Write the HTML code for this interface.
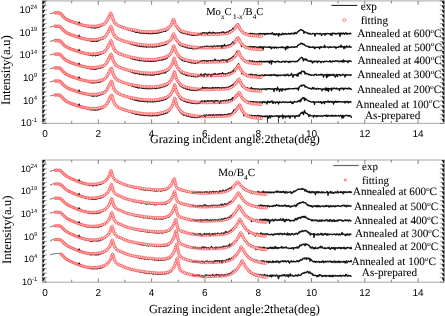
<!DOCTYPE html>
<html><head><meta charset="utf-8"><style>html,body{margin:0;padding:0;background:#fff;}svg{display:block;filter:blur(0.35px);text-rendering:geometricPrecision;}</style></head>
<body><svg width="445" height="316" viewBox="0 0 445 316">
<rect width="445" height="316" fill="#fff"/>
<polyline points="50.0,13.70 50.5,13.65 51.0,13.51 51.5,13.27 52.0,13.15 52.5,13.00 53.0,12.93 53.5,12.86" fill="none" stroke="#555" stroke-width="1.0"/>
<polyline points="54.0,12.88 54.5,12.70 55.0,12.89 55.5,12.80 56.0,12.84 56.5,12.80 57.0,12.79 57.5,12.85 58.0,12.89 58.5,12.84 59.0,12.87 59.5,12.94 60.0,12.96 60.5,13.31 61.0,14.17 61.5,14.51 62.0,14.89 62.5,15.70 63.0,16.32 63.5,16.68 64.0,17.10 64.5,17.81 65.0,18.36 65.5,18.53 66.0,18.78 66.5,19.32 67.0,19.68 67.5,19.79 68.0,20.20 68.5,20.53 69.0,20.52 69.5,20.62 70.0,21.03 70.5,21.20 71.0,21.54 71.5,21.29 72.0,21.58 72.5,21.72 73.0,21.73 73.5,22.23 74.0,22.46 74.5,22.38 75.0,22.92 75.5,22.98 76.0,23.11 76.5,23.25 77.0,23.53 77.5,23.30 78.0,23.84 78.5,24.02 79.0,23.76 79.5,24.31 80.0,24.35 80.5,24.68 81.0,24.60 81.5,24.81 82.0,25.01 82.5,24.91 83.0,25.30 83.5,25.28 84.0,25.50 84.5,25.41 85.0,25.80 85.5,25.90 86.0,25.95 86.5,26.29 87.0,26.60 87.5,26.88 88.0,26.46 88.5,27.06 89.0,27.14 89.5,27.17 90.0,27.12 90.5,27.63 91.0,27.27 91.5,27.70 92.0,27.93 92.5,27.41 93.0,27.65 93.5,27.46 94.0,27.74 94.5,27.97 95.0,28.06 95.5,27.36 96.0,27.53 96.5,27.69 97.0,27.75 97.5,27.43 98.0,27.09 98.5,27.15 99.0,26.96 99.5,26.79 100.0,26.57 100.5,26.54 101.0,26.29 101.5,25.99 102.0,25.72 102.5,25.27 103.0,25.13 103.5,25.13 104.0,24.53 104.5,23.86 105.0,23.76 105.5,22.90 106.0,22.38 106.5,21.27 107.0,20.42 107.5,19.37 108.0,18.84 108.5,17.99 109.0,16.35 109.5,15.24 110.0,14.24 110.5,13.12 111.0,13.17 111.5,14.26 112.0,16.16 112.5,18.25 113.0,19.50 113.5,20.66 114.0,21.34 114.5,22.31 115.0,22.61 115.5,23.35 116.0,24.24 116.5,24.38 117.0,24.93 117.5,25.22 118.0,25.63 118.5,25.78 119.0,26.05 119.5,26.06 120.0,26.17 120.5,26.38 121.0,26.63 121.5,26.71 122.0,27.01 122.5,27.27 123.0,27.50 123.5,27.57 124.0,27.44 124.5,27.93 125.0,28.14 125.5,28.52 126.0,28.66 126.5,28.66 127.0,28.86 127.5,29.57 128.0,29.55 128.5,29.95 129.0,30.20 129.5,29.86 130.0,30.27 130.5,30.47 131.0,30.66 131.5,30.83 132.0,30.94 132.5,31.10 133.0,30.97 133.5,31.37 134.0,31.43 134.5,31.75 135.0,31.82 135.5,32.10 136.0,32.24 136.5,32.24 137.0,32.34 137.5,32.40 138.0,32.40 138.5,32.54 139.0,32.56 139.5,32.80 140.0,32.80 140.5,32.97 141.0,32.69 141.5,33.14 142.0,32.90 142.5,32.96 143.0,33.11 143.5,33.09 144.0,33.28 144.5,33.17 145.0,33.11 145.5,33.18 146.0,33.59 146.5,33.39 147.0,33.20 147.5,33.44 148.0,33.18 148.5,33.80 149.0,33.21 149.5,33.58 150.0,33.60 150.5,33.24 151.0,33.54 151.5,33.66 152.0,33.55 152.5,33.49 153.0,33.59 153.5,33.42 154.0,33.42 154.5,33.31 155.0,33.41 155.5,33.09 156.0,33.34 156.5,33.04 157.0,32.84 157.5,33.01 158.0,33.15 158.5,32.91 159.0,32.53 159.5,32.64 160.0,32.32 160.5,32.27 161.0,32.20 161.5,31.65 162.0,31.99 162.5,31.64 163.0,31.57 163.5,31.30 164.0,31.15 164.5,31.10 165.0,31.27 165.5,31.25 166.0,30.77 166.5,30.60 167.0,29.96 167.5,29.24 168.0,29.14 168.5,28.69 169.0,27.98 169.5,27.51 170.0,26.90 170.5,25.87 171.0,24.83 171.5,24.17 172.0,23.19 172.5,21.69 173.0,20.26 173.5,19.61 174.0,19.90 174.5,21.72 175.0,23.61 175.5,24.94 176.0,25.83 176.5,26.52 177.0,27.59 177.5,28.64 178.0,29.20 178.5,29.72 179.0,30.71 179.5,31.32 180.0,31.61 180.5,31.82 181.0,32.50 181.5,32.24 182.0,32.77 182.5,32.86 183.0,32.82 183.5,33.41 184.0,33.40 184.5,33.26 185.0,33.72 185.5,33.66 186.0,33.52 186.5,33.86 187.0,34.15 187.5,34.33 188.0,34.35 188.5,34.43 189.0,34.61 189.5,34.58 190.0,34.91 190.5,34.81 191.0,34.92 191.5,35.04 192.0,34.83 192.5,34.97 193.0,35.44 193.5,35.29 194.0,35.24 194.5,35.41 195.0,35.31 195.5,35.31 196.0,35.01 196.5,35.04 197.0,34.56 197.5,34.95 198.0,34.47 198.5,34.13 199.0,34.21 199.5,34.05 200.0,34.02 200.5,33.48 201.0,33.80 201.5,34.62 202.0,33.00 202.5,33.33 203.0,32.99 203.5,33.15 204.0,32.55 204.5,32.75 205.0,33.24 205.5,33.98 206.0,33.59 206.5,32.88 207.0,33.14 207.5,34.56 208.0,32.84 208.5,32.79 209.0,33.04 209.5,32.06 210.0,33.29 210.5,33.06 211.0,32.78 211.5,33.06 212.0,33.77 212.5,33.35 213.0,32.12 213.5,32.90 214.0,32.66 214.5,33.10 215.0,32.85 215.5,33.46 216.0,33.15 216.5,33.13 217.0,32.90 217.5,32.82 218.0,32.92 218.5,33.19 219.0,32.95 219.5,32.67 220.0,33.14 220.5,32.80 221.0,32.69 221.5,32.46 222.0,32.50 222.5,32.46 223.0,31.78 223.5,32.89 224.0,32.72 224.5,32.45 225.0,33.58 225.5,32.56 226.0,32.46 226.5,32.50 227.0,32.05 227.5,32.14 228.0,32.30 228.5,32.19 229.0,31.88 229.5,30.89 230.0,30.37 230.5,30.94 231.0,30.44 231.5,30.33 232.0,29.58 232.5,29.25 233.0,28.30 233.5,28.45 234.0,28.90 234.5,27.47 235.0,26.99 235.5,26.31 236.0,25.79 236.5,25.03 237.0,26.44 237.5,24.31 238.0,24.11 238.5,24.99 239.0,27.02 239.5,27.87 240.0,30.15 240.5,29.51 241.0,30.36 241.5,30.89 242.0,31.66 242.5,32.14 243.0,32.63 243.5,32.40 244.0,32.89 244.5,33.26 245.0,33.91 245.5,32.81 246.0,33.71 246.5,33.45 247.0,33.77 247.5,33.49 248.0,33.74 248.5,34.08 249.0,33.69 249.5,33.67 250.0,33.61 250.5,33.32 251.0,33.75 251.5,33.56 252.0,33.42 252.5,33.69 253.0,33.66 253.5,34.94 254.0,33.79 254.5,33.67 255.0,34.29 255.5,34.18 256.0,34.29 256.5,34.11 257.0,33.91 257.5,33.84 258.0,33.89 258.5,34.27 259.0,34.03 259.5,33.55 260.0,33.99 260.5,33.57 261.0,34.04 261.5,33.63 262.0,33.60 262.5,34.00 263.0,33.93 263.5,33.45 264.0,34.15 264.5,34.56 265.0,33.46 265.5,34.43 266.0,33.66 266.5,33.71 267.0,33.79 267.5,33.40 268.0,34.21 268.5,33.96 269.0,33.58 269.5,33.72 270.0,33.35 270.5,33.70 271.0,34.09 271.5,33.30 272.0,33.69 272.5,32.83 273.0,34.16 273.5,34.26 274.0,34.82 274.5,33.66 275.0,34.04 275.5,34.98 276.0,33.84 276.5,33.77 277.0,34.46 277.5,34.05 278.0,33.92 278.5,36.10 279.0,33.43 279.5,33.99 280.0,34.88 280.5,34.72 281.0,34.21 281.5,34.88 282.0,33.93 282.5,33.23 283.0,34.19 283.5,34.46 284.0,33.74 284.5,34.15 285.0,33.45 285.5,33.46 286.0,34.19 286.5,34.31 287.0,33.96 287.5,33.85 288.0,34.10 288.5,33.38 289.0,33.86 289.5,34.13 290.0,33.43 290.5,34.08 291.0,33.65 291.5,33.14 292.0,33.71 292.5,33.44 293.0,33.81 293.5,33.34 294.0,33.98 294.5,33.41 295.0,32.38 295.5,33.37 296.0,33.40 296.5,33.61 297.0,32.82 297.5,32.06 298.0,31.32 298.5,31.66 299.0,31.13 299.5,30.43 300.0,30.28 300.5,29.67 301.0,29.60 301.5,29.72 302.0,30.26 302.5,30.50 303.0,30.49 303.5,31.24 304.0,33.26 304.5,31.62 305.0,32.16 305.5,32.06 306.0,32.39 306.5,32.82 307.0,32.89 307.5,33.34 308.0,32.93 308.5,33.92 309.0,33.42 309.5,33.71 310.0,33.39 310.5,33.98 311.0,34.18 311.5,34.12 312.0,34.04 312.5,33.32 313.0,33.55 313.5,33.64 314.0,33.49 314.5,34.10 315.0,36.10 315.5,33.75 316.0,33.89 316.5,33.45 317.0,33.46 317.5,33.46 318.0,33.87 318.5,33.82 319.0,33.88 319.5,34.03 320.0,33.29 320.5,33.53 321.0,33.74 321.5,35.48 322.0,34.25 322.5,33.98 323.0,34.01 323.5,34.00 324.0,33.68 324.5,33.60 325.0,35.19 325.5,33.54 326.0,33.75 326.5,34.05 327.0,33.54 327.5,33.46 328.0,33.63 328.5,33.81 329.0,33.78 329.5,33.67 330.0,33.79 330.5,34.95 331.0,33.36 331.5,33.66 332.0,35.44 332.5,33.20 333.0,33.24 333.5,33.32 334.0,33.54 334.5,33.28 335.0,33.66 335.5,34.09 336.0,33.54 336.5,33.96 337.0,33.66 337.5,33.24 338.0,33.49 338.5,33.27 339.0,33.79 339.5,33.21 340.0,36.31 340.5,33.73 341.0,32.94 341.5,33.78 342.0,34.01 342.5,33.31 343.0,33.84 343.5,33.00 344.0,33.61 344.5,34.21 345.0,33.67 345.5,32.99 346.0,32.73 346.5,33.64 347.0,34.21 347.5,33.34 348.0,33.76 348.5,33.55 349.0,33.41 349.5,33.69 350.0,34.00 350.5,33.13 351.0,33.67 351.5,33.61" fill="none" stroke="#111" stroke-width="1.35" stroke-linejoin="round"/>
<g stroke="#ff4040" stroke-width="0.65"><circle cx="55.0" cy="12.80" r="1.30" fill="#ffcdcd"/><circle cx="56.4" cy="12.81" r="1.30" fill="#ffcdcd"/><circle cx="57.8" cy="12.83" r="1.30" fill="#ffcdcd"/><circle cx="59.2" cy="12.89" r="1.30" fill="#ffcdcd"/><circle cx="60.4" cy="13.49" r="1.30" fill="#ffcdcd"/><circle cx="61.4" cy="14.49" r="1.30" fill="#ffcdcd"/><circle cx="62.3" cy="15.57" r="1.30" fill="#ffcdcd"/><circle cx="63.2" cy="16.61" r="1.30" fill="#ffcdcd"/><circle cx="64.2" cy="17.57" r="1.30" fill="#ffcdcd"/><circle cx="65.3" cy="18.44" r="1.30" fill="#ffcdcd"/><circle cx="66.5" cy="19.23" r="1.30" fill="#ffcdcd"/><circle cx="67.7" cy="19.94" r="1.30" fill="#ffcdcd"/><circle cx="68.9" cy="20.54" r="1.30" fill="#ffcdcd"/><circle cx="70.2" cy="21.06" r="1.30" fill="#ffcdcd"/><circle cx="71.6" cy="21.54" r="1.30" fill="#ffcdcd"/><circle cx="72.9" cy="22.00" r="1.30" fill="#ffcdcd"/><circle cx="74.2" cy="22.43" r="1.30" fill="#ffcdcd"/><circle cx="75.6" cy="22.85" r="1.30" fill="#ffcdcd"/><circle cx="76.9" cy="23.31" r="1.30" fill="#ffcdcd"/><circle cx="78.2" cy="23.79" r="1.30" fill="#ffcdcd"/><circle cx="79.5" cy="24.25" r="1.30" fill="#ffcdcd"/><circle cx="80.9" cy="24.64" r="1.30" fill="#ffcece"/><circle cx="82.2" cy="25.00" r="1.30" fill="#ffd0d0"/><circle cx="83.6" cy="25.33" r="1.30" fill="#ffd1d1"/><circle cx="85.1" cy="25.61" r="1.30" fill="#ffd3d3"/><circle cx="86.6" cy="25.89" r="1.30" fill="#ffd5d5"/><circle cx="88.1" cy="26.15" r="1.30" fill="#ffd6d6"/><circle cx="89.6" cy="26.29" r="1.30" fill="#ffd8d8"/><circle cx="91.2" cy="26.30" r="1.30" fill="#ffdada"/><circle cx="92.8" cy="26.30" r="1.30" fill="#ffdcdc"/><circle cx="94.5" cy="26.30" r="1.30" fill="#ffdede"/><circle cx="96.2" cy="26.21" r="1.30" fill="#ffe0e0"/><circle cx="97.9" cy="25.86" r="1.30" fill="#ffe2e2"/><circle cx="99.6" cy="25.41" r="1.30" fill="#ffe3e3"/><circle cx="101.3" cy="25.00" r="1.30" fill="#ffe4e4"/><circle cx="103.0" cy="24.51" r="1.30" fill="#ffe4e4"/><circle cx="104.6" cy="23.67" r="1.30" fill="#ffe4e4"/><circle cx="105.8" cy="22.30" r="1.30" fill="#ffe4e4"/><circle cx="106.8" cy="20.81" r="1.30" fill="#ffe4e4"/><circle cx="107.7" cy="19.25" r="1.30" fill="#ffe4e4"/><circle cx="108.5" cy="17.61" r="1.30" fill="#ffe4e4"/><circle cx="109.2" cy="15.98" r="1.30" fill="#ffe4e4"/><circle cx="109.9" cy="14.31" r="1.30" fill="#ffe4e4"/><circle cx="110.8" cy="13.10" r="1.30" fill="#ffe4e4"/><circle cx="111.7" cy="14.90" r="1.30" fill="#ffe4e4"/><circle cx="112.1" cy="16.65" r="1.30" fill="#ffe4e4"/><circle cx="112.6" cy="18.40" r="1.30" fill="#ffe4e4"/><circle cx="113.3" cy="20.07" r="1.30" fill="#ffe4e4"/><circle cx="114.1" cy="21.66" r="1.30" fill="#ffe4e4"/><circle cx="115.1" cy="23.17" r="1.30" fill="#ffe4e4"/><circle cx="116.4" cy="24.43" r="1.30" fill="#ffe4e4"/><circle cx="118.0" cy="25.38" r="1.30" fill="#ffe4e4"/><circle cx="119.6" cy="26.13" r="1.30" fill="#ffe4e4"/><circle cx="121.3" cy="26.83" r="1.30" fill="#ffe4e4"/><circle cx="123.0" cy="27.46" r="1.30" fill="#ffe4e4"/><circle cx="124.7" cy="28.01" r="1.30" fill="#ffe4e4"/><circle cx="126.5" cy="28.52" r="1.30" fill="#ffe4e4"/><circle cx="128.2" cy="28.99" r="1.30" fill="#ffe4e4"/><circle cx="130.0" cy="29.40" r="1.30" fill="#ffe4e4"/><circle cx="131.8" cy="29.74" r="1.30" fill="#ffe4e4"/><circle cx="133.6" cy="30.05" r="1.30" fill="#ffe4e4"/><circle cx="135.4" cy="30.37" r="1.30" fill="#ffe4e4"/><circle cx="137.2" cy="30.71" r="1.30" fill="#ffe4e4"/><circle cx="138.9" cy="31.04" r="1.30" fill="#ffe4e4"/><circle cx="140.8" cy="31.30" r="1.31" fill="#ffe4e4"/><circle cx="142.6" cy="31.50" r="1.31" fill="#ffe4e4"/><circle cx="144.4" cy="31.66" r="1.31" fill="#ffe4e4"/><circle cx="146.2" cy="31.77" r="1.31" fill="#ffe4e4"/><circle cx="148.0" cy="31.86" r="1.31" fill="#ffe4e4"/><circle cx="149.9" cy="31.90" r="1.31" fill="#ffe4e4"/><circle cx="151.7" cy="31.87" r="1.31" fill="#ffe4e4"/><circle cx="153.5" cy="31.79" r="1.31" fill="#ffe4e4"/><circle cx="155.4" cy="31.67" r="1.31" fill="#ffe4e4"/><circle cx="157.2" cy="31.40" r="1.31" fill="#ffe4e4"/><circle cx="159.0" cy="31.02" r="1.31" fill="#ffe4e4"/><circle cx="160.8" cy="30.63" r="1.31" fill="#ffe4e4"/><circle cx="162.6" cy="30.21" r="1.31" fill="#ffe4e4"/><circle cx="164.4" cy="29.72" r="1.31" fill="#ffe4e4"/><circle cx="166.1" cy="29.13" r="1.31" fill="#ffe4e4"/><circle cx="167.8" cy="28.31" r="1.31" fill="#ffe4e4"/><circle cx="169.2" cy="27.21" r="1.31" fill="#ffe4e4"/><circle cx="170.5" cy="25.87" r="1.31" fill="#ffe4e4"/><circle cx="171.5" cy="24.29" r="1.31" fill="#ffe4e4"/><circle cx="172.2" cy="22.63" r="1.31" fill="#ffe4e4"/><circle cx="172.8" cy="20.85" r="1.31" fill="#ffe4e4"/><circle cx="173.5" cy="19.30" r="1.31" fill="#ffe4e4"/><circle cx="174.3" cy="20.97" r="1.31" fill="#ffe4e4"/><circle cx="174.8" cy="22.76" r="1.31" fill="#ffe4e4"/><circle cx="175.4" cy="24.52" r="1.31" fill="#ffe4e4"/><circle cx="176.3" cy="26.10" r="1.31" fill="#ffe4e4"/><circle cx="177.5" cy="27.52" r="1.31" fill="#ffe4e4"/><circle cx="178.8" cy="28.87" r="1.31" fill="#ffe4e4"/><circle cx="180.1" cy="30.14" r="1.31" fill="#ffe4e4"/><circle cx="181.7" cy="31.06" r="1.31" fill="#ffe4e4"/><circle cx="183.5" cy="31.68" r="1.31" fill="#ffe4e4"/><circle cx="185.3" cy="32.18" r="1.31" fill="#ffe4e4"/><circle cx="187.1" cy="32.62" r="1.31" fill="#ffe4e4"/><circle cx="188.9" cy="33.00" r="1.31" fill="#ffe4e4"/><circle cx="190.7" cy="33.32" r="1.31" fill="#ffe4e4"/><circle cx="192.5" cy="33.60" r="1.31" fill="#ffe4e4"/><circle cx="194.4" cy="33.84" r="1.31" fill="#ffe4e4"/><circle cx="196.2" cy="34.03" r="1.31" fill="#ffe4e4"/><circle cx="198.1" cy="34.19" r="1.32" fill="#ffe4e4"/><circle cx="200.0" cy="34.30" r="1.32" fill="#ffe4e4"/><circle cx="201.8" cy="34.35" r="1.32" fill="#ffe4e4"/><circle cx="203.7" cy="34.39" r="1.32" fill="#ffe4e4"/><circle cx="205.6" cy="34.40" r="1.32" fill="#ffe4e4"/><circle cx="207.4" cy="34.38" r="1.32" fill="#ffe4e4"/><circle cx="209.3" cy="34.35" r="1.32" fill="#ffe4e4"/><circle cx="211.2" cy="34.30" r="1.32" fill="#ffe4e4"/><circle cx="213.1" cy="34.25" r="1.32" fill="#ffe4e4"/><circle cx="214.9" cy="34.20" r="1.32" fill="#ffe4e4"/><circle cx="216.8" cy="34.15" r="1.32" fill="#ffe4e4"/><circle cx="218.7" cy="34.10" r="1.32" fill="#ffe4e4"/><circle cx="220.6" cy="34.04" r="1.32" fill="#ffe4e4"/><circle cx="222.4" cy="33.95" r="1.32" fill="#ffe4e4"/><circle cx="224.3" cy="33.83" r="1.32" fill="#ffe4e4"/><circle cx="226.2" cy="33.61" r="1.32" fill="#ffe4e4"/><circle cx="228.0" cy="33.12" r="1.32" fill="#ffe4e4"/><circle cx="229.8" cy="32.43" r="1.32" fill="#ffe4e4"/><circle cx="231.4" cy="31.45" r="1.32" fill="#ffe4e4"/><circle cx="232.8" cy="30.22" r="1.32" fill="#ffe4e4"/><circle cx="234.2" cy="28.96" r="1.32" fill="#ffe4e4"/><circle cx="235.5" cy="27.56" r="1.32" fill="#ffe4e4"/><circle cx="236.5" cy="25.97" r="1.32" fill="#ffe4e4"/><circle cx="237.8" cy="24.70" r="1.32" fill="#ffe4e4"/><circle cx="238.8" cy="26.26" r="1.32" fill="#ffe4e4"/><circle cx="239.5" cy="28.02" r="1.32" fill="#ffe4e4"/><circle cx="240.5" cy="29.64" r="1.32" fill="#ffe4e4"/><circle cx="241.7" cy="31.06" r="1.32" fill="#ffe4e4"/><circle cx="243.1" cy="32.35" r="1.32" fill="#ffe4e4"/><circle cx="244.6" cy="33.57" r="1.32" fill="#ffe4e4"/><circle cx="246.3" cy="34.34" r="1.32" fill="#ffe4e4"/><circle cx="248.1" cy="34.89" r="1.32" fill="#ffe4e4"/><circle cx="250.0" cy="35.27" r="1.32" fill="#ffe4e4"/><circle cx="251.8" cy="35.51" r="1.32" fill="#ffe4e4"/><circle cx="253.7" cy="35.69" r="1.32" fill="#ffe4e4"/><circle cx="255.6" cy="35.84" r="1.33" fill="#ffe4e4"/><circle cx="257.5" cy="35.97" r="1.33" fill="#ffe4e4"/><circle cx="259.4" cy="36.09" r="1.33" fill="#ffe4e4"/><circle cx="261.3" cy="36.18" r="1.33" fill="#ffe4e4"/></g>
<polyline points="197.0,34.56 197.5,34.95 198.0,34.47 198.5,34.13 199.0,34.21 199.5,34.05 200.0,34.02 200.5,33.48 201.0,33.80 201.5,34.62 202.0,33.00 202.5,33.33 203.0,32.99 203.5,33.15 204.0,32.55 204.5,32.75 205.0,33.24 205.5,33.98 206.0,33.59 206.5,32.88 207.0,33.14 207.5,34.56 208.0,32.84 208.5,32.79 209.0,33.04 209.5,32.06 210.0,33.29 210.5,33.06 211.0,32.78 211.5,33.06 212.0,33.77 212.5,33.35 213.0,32.12 213.5,32.90 214.0,32.66 214.5,33.10 215.0,32.85 215.5,33.46 216.0,33.15 216.5,33.13 217.0,32.90 217.5,32.82 218.0,32.92 218.5,33.19 219.0,32.95 219.5,32.67 220.0,33.14 220.5,32.80 221.0,32.69 221.5,32.46 222.0,32.50 222.5,32.46 223.0,31.78 223.5,32.89 224.0,32.72 224.5,32.45 225.0,33.58 225.5,32.56 226.0,32.46 226.5,32.50 227.0,32.05 227.5,32.14 228.0,32.30 228.5,32.19 229.0,31.88 229.5,30.89 230.0,30.37 230.5,30.94 231.0,30.44 231.5,30.33 232.0,29.58 232.5,29.25 233.0,28.30 233.5,28.45 234.0,28.90" fill="none" stroke="#111" stroke-width="0.9" stroke-opacity="0.85"/>
<path d="M77.9,23.2 L79.1,20.9 L80.4,23.2 Z" fill="#111"/>
<polyline points="50.0,27.08 50.5,27.08 51.0,26.92 51.5,26.68 52.0,26.53 52.5,26.58 53.0,26.34 53.5,26.30" fill="none" stroke="#555" stroke-width="1.0"/>
<polyline points="54.0,26.21 54.5,26.20 55.0,26.25 55.5,26.24 56.0,26.15 56.5,26.28 57.0,26.23 57.5,26.17 58.0,26.30 58.5,26.24 59.0,26.32 59.5,26.27 60.0,26.57 60.5,26.67 61.0,27.54 61.5,27.72 62.0,28.63 62.5,28.75 63.0,29.76 63.5,30.40 64.0,30.82 64.5,31.39 65.0,31.38 65.5,32.23 66.0,32.59 66.5,32.41 67.0,32.79 67.5,33.12 68.0,33.48 68.5,33.75 69.0,33.50 69.5,34.26 70.0,34.31 70.5,34.36 71.0,34.90 71.5,34.84 72.0,35.29 72.5,35.36 73.0,35.37 73.5,35.80 74.0,35.89 74.5,35.81 75.0,35.77 75.5,36.12 76.0,36.49 76.5,36.51 77.0,37.06 77.5,36.97 78.0,37.14 78.5,37.36 79.0,37.30 79.5,37.61 80.0,37.66 80.5,37.50 81.0,37.74 81.5,38.33 82.0,38.25 82.5,38.43 83.0,38.30 83.5,38.58 84.0,38.94 84.5,38.91 85.0,38.89 85.5,39.44 86.0,39.35 86.5,39.49 87.0,39.95 87.5,39.62 88.0,40.21 88.5,40.08 89.0,40.29 89.5,40.45 90.0,40.71 90.5,40.80 91.0,40.94 91.5,41.02 92.0,41.34 92.5,41.41 93.0,41.23 93.5,41.24 94.0,41.03 94.5,40.90 95.0,41.21 95.5,41.09 96.0,41.20 96.5,40.64 97.0,41.37 97.5,40.54 98.0,40.65 98.5,40.70 99.0,40.13 99.5,40.15 100.0,39.75 100.5,39.65 101.0,39.32 101.5,39.46 102.0,39.26 102.5,38.89 103.0,38.90 103.5,38.62 104.0,38.03 104.5,37.58 105.0,36.99 105.5,36.27 106.0,35.80 106.5,34.85 107.0,33.99 107.5,33.18 108.0,32.32 108.5,31.07 109.0,30.16 109.5,29.00 110.0,28.02 110.5,27.01 111.0,26.27 111.5,27.38 112.0,29.24 112.5,30.97 113.0,32.80 113.5,33.74 114.0,34.73 114.5,35.47 115.0,36.29 115.5,36.98 116.0,37.14 116.5,37.64 117.0,37.97 117.5,38.77 118.0,38.79 118.5,39.05 119.0,39.24 119.5,39.34 120.0,39.51 120.5,40.02 121.0,40.00 121.5,40.56 122.0,40.49 122.5,40.66 123.0,40.78 123.5,40.97 124.0,41.16 124.5,41.58 125.0,41.88 125.5,41.46 126.0,41.94 126.5,42.25 127.0,42.17 127.5,42.44 128.0,42.68 128.5,42.53 129.0,43.28 129.5,43.35 130.0,43.53 130.5,43.75 131.0,43.96 131.5,44.51 132.0,44.29 132.5,44.58 133.0,44.50 133.5,44.82 134.0,44.86 134.5,45.06 135.0,45.09 135.5,45.22 136.0,45.54 136.5,45.69 137.0,45.74 137.5,45.63 138.0,45.91 138.5,45.49 139.0,46.20 139.5,46.10 140.0,46.23 140.5,46.46 141.0,46.23 141.5,46.54 142.0,46.35 142.5,46.58 143.0,46.46 143.5,46.63 144.0,46.89 144.5,46.54 145.0,46.58 145.5,46.66 146.0,46.81 146.5,47.28 147.0,46.70 147.5,46.46 148.0,46.74 148.5,46.59 149.0,46.79 149.5,46.90 150.0,46.73 150.5,46.78 151.0,46.56 151.5,46.92 152.0,46.74 152.5,47.05 153.0,47.02 153.5,46.65 154.0,46.72 154.5,46.76 155.0,46.86 155.5,46.39 156.0,46.62 156.5,46.91 157.0,46.47 157.5,46.44 158.0,46.30 158.5,45.98 159.0,46.26 159.5,46.03 160.0,45.90 160.5,45.90 161.0,45.81 161.5,45.22 162.0,45.53 162.5,45.23 163.0,45.24 163.5,44.96 164.0,44.80 164.5,45.00 165.0,44.69 165.5,44.49 166.0,44.33 166.5,44.13 167.0,43.75 167.5,42.94 168.0,42.79 168.5,42.45 169.0,42.14 169.5,41.71 170.0,40.72 170.5,40.59 171.0,39.47 171.5,38.72 172.0,37.69 172.5,36.60 173.0,35.37 173.5,33.95 174.0,34.04 174.5,35.44 175.0,37.25 175.5,38.21 176.0,39.31 176.5,40.16 177.0,41.31 177.5,42.20 178.0,42.48 178.5,43.29 179.0,44.12 179.5,44.74 180.0,44.91 180.5,45.51 181.0,45.54 181.5,45.43 182.0,45.87 182.5,46.34 183.0,46.60 183.5,46.21 184.0,46.43 184.5,46.88 185.0,46.40 185.5,47.24 186.0,47.45 186.5,46.85 187.0,47.64 187.5,47.58 188.0,47.97 188.5,47.87 189.0,47.87 189.5,48.03 190.0,48.27 190.5,48.21 191.0,48.27 191.5,48.08 192.0,48.50 192.5,48.50 193.0,48.89 193.5,48.62 194.0,48.67 194.5,48.64 195.0,48.93 195.5,48.72 196.0,48.49 196.5,48.77 197.0,48.67 197.5,48.12 198.0,47.87 198.5,48.11 199.0,47.61 199.5,48.12 200.0,47.45 200.5,47.64 201.0,46.81 201.5,47.04 202.0,47.23 202.5,46.89 203.0,46.44 203.5,47.27 204.0,46.76 204.5,46.47 205.0,46.36 205.5,46.46 206.0,46.95 206.5,46.31 207.0,46.55 207.5,46.28 208.0,46.90 208.5,46.47 209.0,46.77 209.5,46.67 210.0,46.31 210.5,46.68 211.0,46.74 211.5,46.10 212.0,46.65 212.5,47.49 213.0,46.32 213.5,46.59 214.0,45.98 214.5,46.50 215.0,46.17 215.5,46.57 216.0,46.31 216.5,45.96 217.0,46.63 217.5,46.22 218.0,45.97 218.5,46.28 219.0,45.95 219.5,46.35 220.0,46.19 220.5,46.08 221.0,46.37 221.5,45.77 222.0,48.15 222.5,45.50 223.0,46.56 223.5,46.10 224.0,45.94 224.5,44.43 225.0,46.11 225.5,45.85 226.0,45.78 226.5,46.05 227.0,45.50 227.5,45.42 228.0,45.47 228.5,45.50 229.0,44.94 229.5,44.84 230.0,44.59 230.5,44.57 231.0,44.50 231.5,43.41 232.0,43.24 232.5,42.83 233.0,41.83 233.5,42.42 234.0,43.86 234.5,41.09 235.0,40.87 235.5,39.64 236.0,39.19 236.5,38.61 237.0,38.09 237.5,37.67 238.0,38.23 238.5,38.34 239.0,38.71 239.5,40.28 240.0,42.03 240.5,43.02 241.0,43.54 241.5,46.50 242.0,45.00 242.5,45.22 243.0,44.40 243.5,45.72 244.0,46.33 244.5,46.07 245.0,46.48 245.5,46.52 246.0,47.32 246.5,46.85 247.0,47.11 247.5,46.75 248.0,46.97 248.5,46.93 249.0,46.73 249.5,47.22 250.0,46.41 250.5,47.15 251.0,47.81 251.5,46.79 252.0,47.08 252.5,46.64 253.0,48.91 253.5,46.65 254.0,47.40 254.5,47.09 255.0,46.71 255.5,46.90 256.0,46.84 256.5,47.26 257.0,47.62 257.5,49.33 258.0,47.03 258.5,47.15 259.0,48.94 259.5,46.68 260.0,47.60 260.5,47.55 261.0,46.67 261.5,47.77 262.0,46.91 262.5,47.33 263.0,49.87 263.5,46.87 264.0,46.79 264.5,47.00 265.0,46.99 265.5,47.27 266.0,47.13 266.5,47.13 267.0,47.12 267.5,47.20 268.0,46.98 268.5,47.33 269.0,47.22 269.5,46.90 270.0,47.77 270.5,46.82 271.0,47.44 271.5,48.76 272.0,47.34 272.5,47.40 273.0,47.51 273.5,47.70 274.0,47.02 274.5,48.16 275.0,47.43 275.5,47.07 276.0,46.92 276.5,48.07 277.0,47.87 277.5,47.37 278.0,47.62 278.5,47.81 279.0,47.44 279.5,47.29 280.0,47.41 280.5,47.68 281.0,47.43 281.5,47.04 282.0,47.65 282.5,46.88 283.0,47.17 283.5,47.78 284.0,47.46 284.5,47.45 285.0,47.40 285.5,49.84 286.0,47.33 286.5,46.73 287.0,48.58 287.5,46.37 288.0,46.66 288.5,47.76 289.0,47.58 289.5,47.11 290.0,47.21 290.5,47.25 291.0,47.51 291.5,46.95 292.0,46.91 292.5,46.97 293.0,47.19 293.5,47.21 294.0,46.99 294.5,47.31 295.0,46.73 295.5,46.99 296.0,46.75 296.5,46.59 297.0,46.97 297.5,45.97 298.0,45.18 298.5,45.06 299.0,44.35 299.5,44.44 300.0,44.14 300.5,43.89 301.0,43.05 301.5,43.28 302.0,43.98 302.5,43.55 303.0,44.27 303.5,44.66 304.0,44.07 304.5,45.14 305.0,45.27 305.5,45.59 306.0,46.13 306.5,46.03 307.0,46.17 307.5,46.54 308.0,46.45 308.5,46.91 309.0,46.33 309.5,47.63 310.0,47.03 310.5,47.39 311.0,47.32 311.5,47.25 312.0,47.25 312.5,47.23 313.0,46.71 313.5,47.04 314.0,47.57 314.5,48.59 315.0,46.86 315.5,47.83 316.0,47.54 316.5,47.65 317.0,47.16 317.5,47.24 318.0,47.38 318.5,47.31 319.0,47.11 319.5,48.81 320.0,46.90 320.5,46.66 321.0,47.60 321.5,46.99 322.0,47.05 322.5,47.19 323.0,47.10 323.5,47.25 324.0,46.90 324.5,45.27 325.0,47.62 325.5,46.86 326.0,46.93 326.5,46.82 327.0,46.90 327.5,47.07 328.0,47.28 328.5,47.83 329.0,47.14 329.5,46.84 330.0,47.41 330.5,46.66 331.0,47.06 331.5,47.24 332.0,47.23 332.5,47.05 333.0,47.06 333.5,46.77 334.0,46.94 334.5,47.31 335.0,47.08 335.5,46.87 336.0,48.53 336.5,47.13 337.0,47.37 337.5,47.22 338.0,47.20 338.5,47.45 339.0,46.50 339.5,46.53 340.0,46.28 340.5,47.22 341.0,45.05 341.5,46.94 342.0,47.18 342.5,46.53 343.0,46.75 343.5,46.86 344.0,48.91 344.5,46.48 345.0,47.03 345.5,47.14 346.0,47.90 346.5,45.85 347.0,45.94 347.5,46.99 348.0,46.91 348.5,46.82 349.0,47.11 349.5,45.97 350.0,47.11 350.5,46.94 351.0,47.25 351.5,46.67" fill="none" stroke="#111" stroke-width="1.35" stroke-linejoin="round"/>
<g stroke="#ff4040" stroke-width="0.65"><circle cx="55.0" cy="26.20" r="1.30" fill="#ffcdcd"/><circle cx="56.4" cy="26.21" r="1.30" fill="#ffcdcd"/><circle cx="57.8" cy="26.23" r="1.30" fill="#ffcdcd"/><circle cx="59.2" cy="26.28" r="1.30" fill="#ffcdcd"/><circle cx="60.4" cy="26.87" r="1.30" fill="#ffcdcd"/><circle cx="61.4" cy="27.87" r="1.30" fill="#ffcdcd"/><circle cx="62.3" cy="28.95" r="1.30" fill="#ffcdcd"/><circle cx="63.2" cy="29.99" r="1.30" fill="#ffcdcd"/><circle cx="64.2" cy="30.95" r="1.30" fill="#ffcdcd"/><circle cx="65.3" cy="31.82" r="1.30" fill="#ffcdcd"/><circle cx="66.5" cy="32.61" r="1.30" fill="#ffcdcd"/><circle cx="67.7" cy="33.32" r="1.30" fill="#ffcdcd"/><circle cx="69.0" cy="33.92" r="1.30" fill="#ffcdcd"/><circle cx="70.3" cy="34.45" r="1.30" fill="#ffcdcd"/><circle cx="71.6" cy="34.93" r="1.30" fill="#ffcdcd"/><circle cx="72.9" cy="35.39" r="1.30" fill="#ffcdcd"/><circle cx="74.2" cy="35.82" r="1.30" fill="#ffcdcd"/><circle cx="75.6" cy="36.24" r="1.30" fill="#ffcdcd"/><circle cx="76.9" cy="36.69" r="1.30" fill="#ffcdcd"/><circle cx="78.2" cy="37.18" r="1.30" fill="#ffcdcd"/><circle cx="79.5" cy="37.64" r="1.30" fill="#ffcdcd"/><circle cx="80.9" cy="38.03" r="1.30" fill="#ffcece"/><circle cx="82.2" cy="38.39" r="1.30" fill="#ffd0d0"/><circle cx="83.6" cy="38.72" r="1.30" fill="#ffd1d1"/><circle cx="85.1" cy="39.00" r="1.30" fill="#ffd3d3"/><circle cx="86.6" cy="39.28" r="1.30" fill="#ffd5d5"/><circle cx="88.1" cy="39.54" r="1.30" fill="#ffd6d6"/><circle cx="89.6" cy="39.69" r="1.30" fill="#ffd8d8"/><circle cx="91.2" cy="39.70" r="1.30" fill="#ffdada"/><circle cx="92.8" cy="39.70" r="1.30" fill="#ffdcdc"/><circle cx="94.5" cy="39.70" r="1.30" fill="#ffdede"/><circle cx="96.2" cy="39.62" r="1.30" fill="#ffe0e0"/><circle cx="97.9" cy="39.28" r="1.30" fill="#ffe2e2"/><circle cx="99.6" cy="38.83" r="1.30" fill="#ffe4e4"/><circle cx="101.3" cy="38.42" r="1.30" fill="#ffe4e4"/><circle cx="103.0" cy="37.94" r="1.30" fill="#ffe4e4"/><circle cx="104.6" cy="37.13" r="1.30" fill="#ffe4e4"/><circle cx="105.8" cy="35.78" r="1.30" fill="#ffe4e4"/><circle cx="106.8" cy="34.29" r="1.30" fill="#ffe4e4"/><circle cx="107.8" cy="32.73" r="1.30" fill="#ffe4e4"/><circle cx="108.5" cy="31.10" r="1.30" fill="#ffe4e4"/><circle cx="109.3" cy="29.47" r="1.30" fill="#ffe4e4"/><circle cx="110.0" cy="27.80" r="1.30" fill="#ffe4e4"/><circle cx="110.9" cy="26.50" r="1.30" fill="#ffe4e4"/><circle cx="111.8" cy="28.21" r="1.30" fill="#ffe4e4"/><circle cx="112.2" cy="29.96" r="1.30" fill="#ffe4e4"/><circle cx="112.7" cy="31.71" r="1.30" fill="#ffe4e4"/><circle cx="113.3" cy="33.38" r="1.30" fill="#ffe4e4"/><circle cx="114.2" cy="34.98" r="1.30" fill="#ffe4e4"/><circle cx="115.2" cy="36.49" r="1.30" fill="#ffe4e4"/><circle cx="116.5" cy="37.77" r="1.30" fill="#ffe4e4"/><circle cx="118.0" cy="38.73" r="1.30" fill="#ffe4e4"/><circle cx="119.6" cy="39.49" r="1.30" fill="#ffe4e4"/><circle cx="121.3" cy="40.19" r="1.30" fill="#ffe4e4"/><circle cx="123.0" cy="40.82" r="1.30" fill="#ffe4e4"/><circle cx="124.7" cy="41.38" r="1.30" fill="#ffe4e4"/><circle cx="126.5" cy="41.89" r="1.30" fill="#ffe4e4"/><circle cx="128.2" cy="42.36" r="1.30" fill="#ffe4e4"/><circle cx="130.0" cy="42.77" r="1.30" fill="#ffe4e4"/><circle cx="131.8" cy="43.12" r="1.30" fill="#ffe4e4"/><circle cx="133.6" cy="43.43" r="1.30" fill="#ffe4e4"/><circle cx="135.4" cy="43.74" r="1.30" fill="#ffe4e4"/><circle cx="137.2" cy="44.09" r="1.30" fill="#ffe4e4"/><circle cx="139.0" cy="44.42" r="1.30" fill="#ffe4e4"/><circle cx="140.8" cy="44.68" r="1.31" fill="#ffe4e4"/><circle cx="142.6" cy="44.89" r="1.31" fill="#ffe4e4"/><circle cx="144.4" cy="45.05" r="1.31" fill="#ffe4e4"/><circle cx="146.2" cy="45.16" r="1.31" fill="#ffe4e4"/><circle cx="148.1" cy="45.25" r="1.31" fill="#ffe4e4"/><circle cx="149.9" cy="45.30" r="1.31" fill="#ffe4e4"/><circle cx="151.7" cy="45.28" r="1.31" fill="#ffe4e4"/><circle cx="153.6" cy="45.20" r="1.31" fill="#ffe4e4"/><circle cx="155.4" cy="45.09" r="1.31" fill="#ffe4e4"/><circle cx="157.2" cy="44.84" r="1.31" fill="#ffe4e4"/><circle cx="159.0" cy="44.48" r="1.31" fill="#ffe4e4"/><circle cx="160.8" cy="44.10" r="1.31" fill="#ffe4e4"/><circle cx="162.6" cy="43.70" r="1.31" fill="#ffe4e4"/><circle cx="164.4" cy="43.25" r="1.31" fill="#ffe4e4"/><circle cx="166.2" cy="42.72" r="1.31" fill="#ffe4e4"/><circle cx="167.9" cy="41.99" r="1.31" fill="#ffe4e4"/><circle cx="169.4" cy="40.99" r="1.31" fill="#ffe4e4"/><circle cx="170.7" cy="39.72" r="1.31" fill="#ffe4e4"/><circle cx="171.8" cy="38.19" r="1.31" fill="#ffe4e4"/><circle cx="172.6" cy="36.52" r="1.31" fill="#ffe4e4"/><circle cx="173.1" cy="34.76" r="1.31" fill="#ffe4e4"/><circle cx="173.7" cy="33.90" r="1.31" fill="#ffe4e4"/><circle cx="174.8" cy="36.13" r="1.31" fill="#ffe4e4"/><circle cx="175.3" cy="37.91" r="1.31" fill="#ffe4e4"/><circle cx="176.1" cy="39.54" r="1.31" fill="#ffe4e4"/><circle cx="177.3" cy="40.94" r="1.31" fill="#ffe4e4"/><circle cx="178.7" cy="42.23" r="1.31" fill="#ffe4e4"/><circle cx="180.0" cy="43.49" r="1.31" fill="#ffe4e4"/><circle cx="181.6" cy="44.44" r="1.31" fill="#ffe4e4"/><circle cx="183.4" cy="45.06" r="1.31" fill="#ffe4e4"/><circle cx="185.2" cy="45.54" r="1.31" fill="#ffe4e4"/><circle cx="187.0" cy="45.97" r="1.31" fill="#ffe4e4"/><circle cx="188.8" cy="46.35" r="1.31" fill="#ffe4e4"/><circle cx="190.6" cy="46.68" r="1.31" fill="#ffe4e4"/><circle cx="192.5" cy="46.96" r="1.31" fill="#ffe4e4"/><circle cx="194.3" cy="47.20" r="1.31" fill="#ffe4e4"/><circle cx="196.1" cy="47.39" r="1.31" fill="#ffe4e4"/><circle cx="198.0" cy="47.57" r="1.32" fill="#ffe4e4"/><circle cx="199.9" cy="47.69" r="1.32" fill="#ffe4e4"/><circle cx="201.7" cy="47.75" r="1.32" fill="#ffe4e4"/><circle cx="203.6" cy="47.79" r="1.32" fill="#ffe4e4"/><circle cx="205.5" cy="47.80" r="1.32" fill="#ffe4e4"/><circle cx="207.3" cy="47.79" r="1.32" fill="#ffe4e4"/><circle cx="209.2" cy="47.76" r="1.32" fill="#ffe4e4"/><circle cx="211.1" cy="47.71" r="1.32" fill="#ffe4e4"/><circle cx="213.0" cy="47.66" r="1.32" fill="#ffe4e4"/><circle cx="214.8" cy="47.61" r="1.32" fill="#ffe4e4"/><circle cx="216.7" cy="47.56" r="1.32" fill="#ffe4e4"/><circle cx="218.6" cy="47.51" r="1.32" fill="#ffe4e4"/><circle cx="220.5" cy="47.45" r="1.32" fill="#ffe4e4"/><circle cx="222.3" cy="47.37" r="1.32" fill="#ffe4e4"/><circle cx="224.2" cy="47.25" r="1.32" fill="#ffe4e4"/><circle cx="226.1" cy="47.07" r="1.32" fill="#ffe4e4"/><circle cx="227.9" cy="46.62" r="1.32" fill="#ffe4e4"/><circle cx="229.7" cy="45.96" r="1.32" fill="#ffe4e4"/><circle cx="231.3" cy="45.07" r="1.32" fill="#ffe4e4"/><circle cx="232.8" cy="43.85" r="1.32" fill="#ffe4e4"/><circle cx="234.2" cy="42.59" r="1.32" fill="#ffe4e4"/><circle cx="235.5" cy="41.23" r="1.32" fill="#ffe4e4"/><circle cx="236.5" cy="39.65" r="1.32" fill="#ffe4e4"/><circle cx="238.1" cy="37.90" r="1.32" fill="#ffe4e4"/><circle cx="238.9" cy="38.98" r="1.32" fill="#ffe4e4"/><circle cx="239.6" cy="40.74" r="1.32" fill="#ffe4e4"/><circle cx="240.4" cy="42.44" r="1.32" fill="#ffe4e4"/><circle cx="241.6" cy="43.92" r="1.32" fill="#ffe4e4"/><circle cx="242.9" cy="45.26" r="1.32" fill="#ffe4e4"/><circle cx="244.3" cy="46.53" r="1.32" fill="#ffe4e4"/><circle cx="246.0" cy="47.47" r="1.32" fill="#ffe4e4"/><circle cx="247.8" cy="48.10" r="1.32" fill="#ffe4e4"/><circle cx="249.6" cy="48.54" r="1.32" fill="#ffe4e4"/><circle cx="251.5" cy="48.83" r="1.32" fill="#ffe4e4"/><circle cx="253.4" cy="49.03" r="1.32" fill="#ffe4e4"/><circle cx="255.3" cy="49.19" r="1.33" fill="#ffe4e4"/><circle cx="257.2" cy="49.32" r="1.33" fill="#ffe4e4"/><circle cx="259.1" cy="49.45" r="1.33" fill="#ffe4e4"/><circle cx="261.0" cy="49.55" r="1.33" fill="#ffe4e4"/></g>
<polyline points="197.0,48.67 197.5,48.12 198.0,47.87 198.5,48.11 199.0,47.61 199.5,48.12 200.0,47.45 200.5,47.64 201.0,46.81 201.5,47.04 202.0,47.23 202.5,46.89 203.0,46.44 203.5,47.27 204.0,46.76 204.5,46.47 205.0,46.36 205.5,46.46 206.0,46.95 206.5,46.31 207.0,46.55 207.5,46.28 208.0,46.90 208.5,46.47 209.0,46.77 209.5,46.67 210.0,46.31 210.5,46.68 211.0,46.74 211.5,46.10 212.0,46.65 212.5,47.49 213.0,46.32 213.5,46.59 214.0,45.98 214.5,46.50 215.0,46.17 215.5,46.57 216.0,46.31 216.5,45.96 217.0,46.63 217.5,46.22 218.0,45.97 218.5,46.28 219.0,45.95 219.5,46.35 220.0,46.19 220.5,46.08 221.0,46.37 221.5,45.77 222.0,48.15 222.5,45.50 223.0,46.56 223.5,46.10 224.0,45.94 224.5,44.43 225.0,46.11 225.5,45.85 226.0,45.78 226.5,46.05 227.0,45.50 227.5,45.42 228.0,45.47 228.5,45.50 229.0,44.94 229.5,44.84 230.0,44.59 230.5,44.57 231.0,44.50 231.5,43.41 232.0,43.24 232.5,42.83 233.0,41.83 233.5,42.42 234.0,43.86" fill="none" stroke="#111" stroke-width="0.9" stroke-opacity="0.85"/>
<path d="M77.9,36.6 L79.1,34.3 L80.4,36.6 Z" fill="#111"/>
<polyline points="50.0,41.33 50.5,41.30 51.0,41.11 51.5,40.87 52.0,40.83 52.5,40.77 53.0,40.56 53.5,40.64" fill="none" stroke="#555" stroke-width="1.0"/>
<polyline points="54.0,40.50 54.5,40.50 55.0,40.40 55.5,40.45 56.0,40.49 56.5,40.54 57.0,40.53 57.5,40.59 58.0,40.41 58.5,40.56 59.0,40.57 59.5,40.54 60.0,40.78 60.5,41.10 61.0,41.83 61.5,42.21 62.0,42.96 62.5,43.31 63.0,44.27 63.5,44.61 64.0,45.33 64.5,45.43 65.0,45.76 65.5,46.24 66.0,46.49 66.5,46.72 67.0,47.22 67.5,47.49 68.0,47.65 68.5,47.94 69.0,48.05 69.5,48.46 70.0,48.40 70.5,49.13 71.0,49.02 71.5,49.36 72.0,49.15 72.5,49.61 73.0,49.69 73.5,50.05 74.0,50.19 74.5,49.89 75.0,50.55 75.5,50.23 76.0,50.91 76.5,50.83 77.0,50.80 77.5,51.33 78.0,51.39 78.5,51.39 79.0,51.61 79.5,52.00 80.0,51.82 80.5,52.05 81.0,52.68 81.5,52.34 82.0,52.68 82.5,52.82 83.0,53.03 83.5,53.13 84.0,52.63 84.5,53.10 85.0,53.49 85.5,53.30 86.0,53.96 86.5,53.87 87.0,53.80 87.5,54.31 88.0,54.74 88.5,54.44 89.0,54.82 89.5,54.69 90.0,54.86 90.5,55.09 91.0,55.26 91.5,55.33 92.0,55.41 92.5,55.84 93.0,55.20 93.5,55.06 94.0,55.50 94.5,55.43 95.0,55.14 95.5,55.71 96.0,55.23 96.5,55.03 97.0,55.28 97.5,55.21 98.0,55.40 98.5,54.56 99.0,54.48 99.5,54.52 100.0,54.36 100.5,54.24 101.0,53.89 101.5,53.51 102.0,53.47 102.5,53.43 103.0,53.17 103.5,52.61 104.0,52.50 104.5,52.08 105.0,51.38 105.5,50.73 106.0,50.03 106.5,49.77 107.0,48.53 107.5,47.54 108.0,46.70 108.5,45.56 109.0,44.82 109.5,43.17 110.0,42.12 110.5,41.41 111.0,40.88 111.5,41.44 112.0,43.14 112.5,44.71 113.0,46.73 113.5,47.56 114.0,48.49 114.5,49.69 115.0,50.23 115.5,50.99 116.0,51.71 116.5,51.83 117.0,52.49 117.5,53.10 118.0,52.94 118.5,53.40 119.0,53.60 119.5,53.45 120.0,53.65 120.5,54.12 121.0,53.94 121.5,54.53 122.0,54.76 122.5,54.98 123.0,55.16 123.5,55.49 124.0,55.35 124.5,55.82 125.0,55.82 125.5,56.01 126.0,56.11 126.5,56.54 127.0,56.45 127.5,56.93 128.0,57.21 128.5,57.09 129.0,57.24 129.5,57.47 130.0,57.79 130.5,58.05 131.0,58.33 131.5,58.69 132.0,58.81 132.5,58.73 133.0,58.78 133.5,58.79 134.0,59.33 134.5,59.43 135.0,59.46 135.5,59.61 136.0,59.72 136.5,59.36 137.0,59.92 137.5,60.09 138.0,60.10 138.5,60.02 139.0,60.32 139.5,60.48 140.0,60.79 140.5,60.72 141.0,60.70 141.5,60.64 142.0,60.47 142.5,60.68 143.0,60.57 143.5,60.85 144.0,61.10 144.5,61.14 145.0,61.15 145.5,61.02 146.0,61.22 146.5,61.02 147.0,60.74 147.5,61.15 148.0,61.15 148.5,60.85 149.0,61.09 149.5,60.75 150.0,61.12 150.5,61.42 151.0,61.08 151.5,61.43 152.0,61.22 152.5,61.02 153.0,60.81 153.5,61.25 154.0,61.21 154.5,60.78 155.0,60.95 155.5,61.19 156.0,60.80 156.5,60.95 157.0,60.44 157.5,60.54 158.0,60.74 158.5,60.29 159.0,60.13 159.5,60.02 160.0,60.10 160.5,59.77 161.0,59.92 161.5,59.93 162.0,59.99 162.5,59.51 163.0,59.75 163.5,59.42 164.0,59.13 164.5,59.11 165.0,59.13 165.5,58.96 166.0,58.64 166.5,58.25 167.0,58.02 167.5,57.49 168.0,57.01 168.5,56.53 169.0,56.26 169.5,55.11 170.0,54.65 170.5,53.74 171.0,53.23 171.5,52.29 172.0,51.34 172.5,49.92 173.0,48.30 173.5,46.71 174.0,45.99 174.5,47.04 175.0,48.85 175.5,50.78 176.0,52.03 176.5,53.06 177.0,53.72 177.5,54.82 178.0,55.51 178.5,56.56 179.0,57.26 179.5,58.26 180.0,58.90 180.5,58.91 181.0,59.38 181.5,59.89 182.0,60.35 182.5,60.45 183.0,60.59 183.5,60.68 184.0,60.77 184.5,61.07 185.0,61.24 185.5,61.32 186.0,61.32 186.5,61.26 187.0,61.52 187.5,61.73 188.0,61.70 188.5,62.08 189.0,61.86 189.5,62.17 190.0,62.38 190.5,62.55 191.0,62.53 191.5,62.79 192.0,62.54 192.5,62.58 193.0,63.00 193.5,62.71 194.0,62.90 194.5,62.68 195.0,63.26 195.5,63.23 196.0,62.82 196.5,62.51 197.0,62.73 197.5,62.60 198.0,62.62 198.5,62.60 199.0,62.15 199.5,61.92 200.0,61.75 200.5,61.59 201.0,61.12 201.5,61.12 202.0,61.21 202.5,60.59 203.0,60.54 203.5,61.16 204.0,60.59 204.5,61.04 205.0,61.14 205.5,60.81 206.0,61.06 206.5,60.75 207.0,61.86 207.5,60.76 208.0,60.81 208.5,60.82 209.0,60.79 209.5,60.64 210.0,61.07 210.5,60.68 211.0,60.60 211.5,61.00 212.0,60.40 212.5,60.69 213.0,61.12 213.5,60.68 214.0,61.08 214.5,60.56 215.0,59.21 215.5,60.56 216.0,60.43 216.5,60.47 217.0,60.44 217.5,60.80 218.0,60.66 218.5,60.46 219.0,60.29 219.5,61.46 220.0,61.62 220.5,60.89 221.0,60.09 221.5,60.20 222.0,60.77 222.5,60.04 223.0,60.02 223.5,60.30 224.0,60.07 224.5,60.16 225.0,60.26 225.5,60.43 226.0,60.17 226.5,60.13 227.0,61.98 227.5,60.23 228.0,59.56 228.5,59.88 229.0,59.01 229.5,59.44 230.0,58.76 230.5,58.47 231.0,58.29 231.5,58.57 232.0,57.71 232.5,57.15 233.0,56.59 233.5,56.01 234.0,56.73 234.5,55.39 235.0,54.93 235.5,54.24 236.0,54.12 236.5,52.82 237.0,51.14 237.5,51.57 238.0,51.39 238.5,51.88 239.0,51.99 239.5,53.08 240.0,54.74 240.5,56.06 241.0,56.98 241.5,57.99 242.0,58.68 242.5,58.92 243.0,59.91 243.5,59.95 244.0,60.36 244.5,60.47 245.0,60.97 245.5,61.14 246.0,61.31 246.5,60.93 247.0,61.41 247.5,61.07 248.0,61.28 248.5,62.50 249.0,61.68 249.5,60.43 250.0,60.82 250.5,61.24 251.0,61.61 251.5,61.19 252.0,62.06 252.5,60.80 253.0,61.86 253.5,61.79 254.0,61.81 254.5,61.25 255.0,63.28 255.5,61.92 256.0,63.96 256.5,61.55 257.0,61.56 257.5,62.05 258.0,61.78 258.5,61.58 259.0,61.45 259.5,61.79 260.0,61.30 260.5,61.89 261.0,61.76 261.5,61.24 262.0,61.84 262.5,62.06 263.0,61.77 263.5,61.28 264.0,61.48 264.5,61.91 265.0,61.25 265.5,61.51 266.0,61.95 266.5,61.51 267.0,61.40 267.5,61.16 268.0,62.04 268.5,61.66 269.0,61.13 269.5,63.04 270.0,61.44 270.5,60.97 271.0,61.49 271.5,64.10 272.0,60.72 272.5,61.48 273.0,61.64 273.5,61.39 274.0,61.68 274.5,61.73 275.0,61.91 275.5,62.43 276.0,61.72 276.5,61.37 277.0,61.34 277.5,61.29 278.0,61.89 278.5,61.26 279.0,61.84 279.5,61.77 280.0,62.19 280.5,62.05 281.0,62.02 281.5,62.37 282.0,61.61 282.5,61.31 283.0,61.50 283.5,61.72 284.0,61.32 284.5,61.48 285.0,62.28 285.5,61.60 286.0,61.19 286.5,61.26 287.0,61.60 287.5,61.86 288.0,61.57 288.5,61.84 289.0,62.59 289.5,61.22 290.0,61.85 290.5,61.39 291.0,62.08 291.5,61.32 292.0,61.44 292.5,61.30 293.0,61.37 293.5,61.58 294.0,61.36 294.5,61.75 295.0,61.50 295.5,61.81 296.0,61.32 296.5,61.64 297.0,61.53 297.5,60.75 298.0,61.02 298.5,60.15 299.0,59.44 299.5,59.59 300.0,58.46 300.5,58.07 301.0,57.91 301.5,57.31 302.0,57.65 302.5,57.56 303.0,59.78 303.5,60.84 304.0,59.05 304.5,59.57 305.0,59.25 305.5,59.99 306.0,58.65 306.5,60.15 307.0,59.95 307.5,60.51 308.0,61.12 308.5,61.04 309.0,60.98 309.5,61.27 310.0,61.19 310.5,61.30 311.0,60.49 311.5,61.86 312.0,61.85 312.5,63.07 313.0,61.11 313.5,61.44 314.0,62.11 314.5,61.10 315.0,61.34 315.5,61.35 316.0,61.72 316.5,61.09 317.0,61.55 317.5,62.51 318.0,61.35 318.5,61.08 319.0,61.60 319.5,61.29 320.0,61.25 320.5,61.76 321.0,62.68 321.5,62.13 322.0,61.54 322.5,61.44 323.0,61.45 323.5,62.24 324.0,61.78 324.5,61.31 325.0,61.49 325.5,61.23 326.0,61.59 326.5,61.23 327.0,61.21 327.5,61.51 328.0,61.78 328.5,61.62 329.0,61.59 329.5,61.37 330.0,60.63 330.5,62.04 331.0,61.28 331.5,61.50 332.0,61.87 332.5,61.57 333.0,60.81 333.5,61.34 334.0,61.25 334.5,61.54 335.0,61.30 335.5,60.74 336.0,61.04 336.5,61.21 337.0,60.68 337.5,61.26 338.0,61.21 338.5,61.62 339.0,61.25 339.5,61.80 340.0,61.24 340.5,61.28 341.0,61.57 341.5,60.98 342.0,60.59 342.5,62.10 343.0,61.49 343.5,59.87 344.0,61.99 344.5,60.91 345.0,61.01 345.5,61.11 346.0,61.39 346.5,61.10 347.0,61.48 347.5,61.13 348.0,62.67 348.5,61.37 349.0,60.73 349.5,61.22 350.0,60.88 350.5,61.18 351.0,61.22 351.5,61.90" fill="none" stroke="#111" stroke-width="1.35" stroke-linejoin="round"/>
<g stroke="#ff4040" stroke-width="0.65"><circle cx="55.0" cy="40.50" r="1.30" fill="#ffcdcd"/><circle cx="56.4" cy="40.51" r="1.30" fill="#ffcdcd"/><circle cx="57.8" cy="40.53" r="1.30" fill="#ffcdcd"/><circle cx="59.2" cy="40.58" r="1.30" fill="#ffcdcd"/><circle cx="60.4" cy="41.15" r="1.30" fill="#ffcdcd"/><circle cx="61.4" cy="42.15" r="1.30" fill="#ffcdcd"/><circle cx="62.3" cy="43.23" r="1.30" fill="#ffcdcd"/><circle cx="63.2" cy="44.27" r="1.30" fill="#ffcdcd"/><circle cx="64.2" cy="45.23" r="1.30" fill="#ffcdcd"/><circle cx="65.3" cy="46.10" r="1.30" fill="#ffcdcd"/><circle cx="66.5" cy="46.90" r="1.30" fill="#ffcdcd"/><circle cx="67.7" cy="47.61" r="1.30" fill="#ffcdcd"/><circle cx="69.0" cy="48.21" r="1.30" fill="#ffcdcd"/><circle cx="70.3" cy="48.74" r="1.30" fill="#ffcdcd"/><circle cx="71.6" cy="49.22" r="1.30" fill="#ffcdcd"/><circle cx="72.9" cy="49.68" r="1.30" fill="#ffcdcd"/><circle cx="74.2" cy="50.10" r="1.30" fill="#ffcdcd"/><circle cx="75.6" cy="50.52" r="1.30" fill="#ffcdcd"/><circle cx="76.9" cy="50.98" r="1.30" fill="#ffcdcd"/><circle cx="78.2" cy="51.46" r="1.30" fill="#ffcdcd"/><circle cx="79.5" cy="51.92" r="1.30" fill="#ffcdcd"/><circle cx="80.9" cy="52.31" r="1.30" fill="#ffcece"/><circle cx="82.2" cy="52.67" r="1.30" fill="#ffd0d0"/><circle cx="83.6" cy="53.01" r="1.30" fill="#ffd1d1"/><circle cx="85.1" cy="53.29" r="1.30" fill="#ffd3d3"/><circle cx="86.6" cy="53.57" r="1.30" fill="#ffd5d5"/><circle cx="88.1" cy="53.83" r="1.30" fill="#ffd6d6"/><circle cx="89.6" cy="53.99" r="1.30" fill="#ffd8d8"/><circle cx="91.2" cy="54.00" r="1.30" fill="#ffdada"/><circle cx="92.8" cy="54.00" r="1.30" fill="#ffdcdc"/><circle cx="94.5" cy="54.00" r="1.30" fill="#ffdede"/><circle cx="96.2" cy="53.93" r="1.30" fill="#ffe0e0"/><circle cx="97.9" cy="53.60" r="1.30" fill="#ffe2e2"/><circle cx="99.6" cy="53.15" r="1.30" fill="#ffe4e4"/><circle cx="101.3" cy="52.74" r="1.30" fill="#ffe4e4"/><circle cx="103.1" cy="52.27" r="1.30" fill="#ffe4e4"/><circle cx="104.7" cy="51.48" r="1.30" fill="#ffe4e4"/><circle cx="105.9" cy="50.15" r="1.30" fill="#ffe4e4"/><circle cx="106.9" cy="48.66" r="1.30" fill="#ffe4e4"/><circle cx="107.8" cy="47.11" r="1.30" fill="#ffe4e4"/><circle cx="108.6" cy="45.48" r="1.30" fill="#ffe4e4"/><circle cx="109.4" cy="43.85" r="1.30" fill="#ffe4e4"/><circle cx="110.1" cy="42.18" r="1.30" fill="#ffe4e4"/><circle cx="111.0" cy="40.80" r="1.30" fill="#ffe4e4"/><circle cx="111.8" cy="42.42" r="1.30" fill="#ffe4e4"/><circle cx="112.3" cy="44.17" r="1.30" fill="#ffe4e4"/><circle cx="112.8" cy="45.92" r="1.30" fill="#ffe4e4"/><circle cx="113.4" cy="47.60" r="1.30" fill="#ffe4e4"/><circle cx="114.3" cy="49.20" r="1.30" fill="#ffe4e4"/><circle cx="115.2" cy="50.72" r="1.30" fill="#ffe4e4"/><circle cx="116.5" cy="52.01" r="1.30" fill="#ffe4e4"/><circle cx="118.0" cy="52.99" r="1.30" fill="#ffe4e4"/><circle cx="119.7" cy="53.75" r="1.30" fill="#ffe4e4"/><circle cx="121.3" cy="54.46" r="1.30" fill="#ffe4e4"/><circle cx="123.0" cy="55.09" r="1.30" fill="#ffe4e4"/><circle cx="124.8" cy="55.65" r="1.30" fill="#ffe4e4"/><circle cx="126.5" cy="56.16" r="1.30" fill="#ffe4e4"/><circle cx="128.3" cy="56.63" r="1.30" fill="#ffe4e4"/><circle cx="130.0" cy="57.05" r="1.30" fill="#ffe4e4"/><circle cx="131.8" cy="57.40" r="1.30" fill="#ffe4e4"/><circle cx="133.6" cy="57.71" r="1.30" fill="#ffe4e4"/><circle cx="135.4" cy="58.02" r="1.30" fill="#ffe4e4"/><circle cx="137.2" cy="58.37" r="1.30" fill="#ffe4e4"/><circle cx="139.0" cy="58.70" r="1.30" fill="#ffe4e4"/><circle cx="140.8" cy="58.96" r="1.31" fill="#ffe4e4"/><circle cx="142.6" cy="59.17" r="1.31" fill="#ffe4e4"/><circle cx="144.4" cy="59.34" r="1.31" fill="#ffe4e4"/><circle cx="146.3" cy="59.45" r="1.31" fill="#ffe4e4"/><circle cx="148.1" cy="59.55" r="1.31" fill="#ffe4e4"/><circle cx="149.9" cy="59.60" r="1.31" fill="#ffe4e4"/><circle cx="151.8" cy="59.58" r="1.31" fill="#ffe4e4"/><circle cx="153.6" cy="59.50" r="1.31" fill="#ffe4e4"/><circle cx="155.4" cy="59.39" r="1.31" fill="#ffe4e4"/><circle cx="157.2" cy="59.15" r="1.31" fill="#ffe4e4"/><circle cx="159.0" cy="58.78" r="1.31" fill="#ffe4e4"/><circle cx="160.8" cy="58.38" r="1.31" fill="#ffe4e4"/><circle cx="162.6" cy="57.95" r="1.31" fill="#ffe4e4"/><circle cx="164.4" cy="57.45" r="1.31" fill="#ffe4e4"/><circle cx="166.1" cy="56.84" r="1.31" fill="#ffe4e4"/><circle cx="167.8" cy="56.03" r="1.31" fill="#ffe4e4"/><circle cx="169.3" cy="54.93" r="1.31" fill="#ffe4e4"/><circle cx="170.5" cy="53.60" r="1.31" fill="#ffe4e4"/><circle cx="171.5" cy="52.04" r="1.31" fill="#ffe4e4"/><circle cx="172.3" cy="50.38" r="1.31" fill="#ffe4e4"/><circle cx="172.9" cy="48.62" r="1.31" fill="#ffe4e4"/><circle cx="173.4" cy="46.84" r="1.31" fill="#ffe4e4"/><circle cx="173.9" cy="45.90" r="1.31" fill="#ffe4e4"/><circle cx="174.9" cy="48.28" r="1.31" fill="#ffe4e4"/><circle cx="175.3" cy="50.07" r="1.31" fill="#ffe4e4"/><circle cx="175.9" cy="51.83" r="1.31" fill="#ffe4e4"/><circle cx="176.8" cy="53.43" r="1.31" fill="#ffe4e4"/><circle cx="177.9" cy="54.89" r="1.31" fill="#ffe4e4"/><circle cx="179.2" cy="56.29" r="1.31" fill="#ffe4e4"/><circle cx="180.5" cy="57.60" r="1.31" fill="#ffe4e4"/><circle cx="182.0" cy="58.59" r="1.31" fill="#ffe4e4"/><circle cx="183.8" cy="59.27" r="1.31" fill="#ffe4e4"/><circle cx="185.5" cy="59.79" r="1.31" fill="#ffe4e4"/><circle cx="187.3" cy="60.25" r="1.31" fill="#ffe4e4"/><circle cx="189.1" cy="60.65" r="1.31" fill="#ffe4e4"/><circle cx="191.0" cy="60.98" r="1.31" fill="#ffe4e4"/><circle cx="192.8" cy="61.27" r="1.31" fill="#ffe4e4"/><circle cx="194.7" cy="61.51" r="1.31" fill="#ffe4e4"/><circle cx="196.5" cy="61.70" r="1.31" fill="#ffe4e4"/><circle cx="198.4" cy="61.87" r="1.32" fill="#ffe4e4"/><circle cx="200.2" cy="61.99" r="1.32" fill="#ffe4e4"/><circle cx="202.1" cy="62.05" r="1.32" fill="#ffe4e4"/><circle cx="204.0" cy="62.09" r="1.32" fill="#ffe4e4"/><circle cx="205.8" cy="62.10" r="1.32" fill="#ffe4e4"/><circle cx="207.7" cy="62.08" r="1.32" fill="#ffe4e4"/><circle cx="209.6" cy="62.05" r="1.32" fill="#ffe4e4"/><circle cx="211.5" cy="62.01" r="1.32" fill="#ffe4e4"/><circle cx="213.3" cy="61.96" r="1.32" fill="#ffe4e4"/><circle cx="215.2" cy="61.91" r="1.32" fill="#ffe4e4"/><circle cx="217.1" cy="61.85" r="1.32" fill="#ffe4e4"/><circle cx="219.0" cy="61.80" r="1.32" fill="#ffe4e4"/><circle cx="220.8" cy="61.74" r="1.32" fill="#ffe4e4"/><circle cx="222.7" cy="61.65" r="1.32" fill="#ffe4e4"/><circle cx="224.6" cy="61.53" r="1.32" fill="#ffe4e4"/><circle cx="226.5" cy="61.33" r="1.32" fill="#ffe4e4"/><circle cx="228.3" cy="60.86" r="1.32" fill="#ffe4e4"/><circle cx="230.0" cy="60.18" r="1.32" fill="#ffe4e4"/><circle cx="231.7" cy="59.25" r="1.32" fill="#ffe4e4"/><circle cx="233.1" cy="58.00" r="1.32" fill="#ffe4e4"/><circle cx="234.5" cy="56.72" r="1.32" fill="#ffe4e4"/><circle cx="235.8" cy="55.33" r="1.32" fill="#ffe4e4"/><circle cx="236.8" cy="53.73" r="1.32" fill="#ffe4e4"/><circle cx="238.4" cy="51.70" r="1.32" fill="#ffe4e4"/><circle cx="239.1" cy="52.58" r="1.32" fill="#ffe4e4"/><circle cx="239.8" cy="54.34" r="1.32" fill="#ffe4e4"/><circle cx="240.5" cy="56.09" r="1.32" fill="#ffe4e4"/><circle cx="241.6" cy="57.63" r="1.32" fill="#ffe4e4"/><circle cx="242.9" cy="59.03" r="1.32" fill="#ffe4e4"/><circle cx="244.2" cy="60.34" r="1.32" fill="#ffe4e4"/><circle cx="245.8" cy="61.46" r="1.32" fill="#ffe4e4"/><circle cx="247.5" cy="62.17" r="1.32" fill="#ffe4e4"/><circle cx="249.3" cy="62.69" r="1.32" fill="#ffe4e4"/><circle cx="251.2" cy="63.03" r="1.32" fill="#ffe4e4"/><circle cx="253.1" cy="63.26" r="1.32" fill="#ffe4e4"/><circle cx="255.0" cy="63.43" r="1.32" fill="#ffe4e4"/><circle cx="256.9" cy="63.58" r="1.33" fill="#ffe4e4"/><circle cx="258.8" cy="63.70" r="1.33" fill="#ffe4e4"/><circle cx="260.7" cy="63.81" r="1.33" fill="#ffe4e4"/></g>
<polyline points="197.0,62.73 197.5,62.60 198.0,62.62 198.5,62.60 199.0,62.15 199.5,61.92 200.0,61.75 200.5,61.59 201.0,61.12 201.5,61.12 202.0,61.21 202.5,60.59 203.0,60.54 203.5,61.16 204.0,60.59 204.5,61.04 205.0,61.14 205.5,60.81 206.0,61.06 206.5,60.75 207.0,61.86 207.5,60.76 208.0,60.81 208.5,60.82 209.0,60.79 209.5,60.64 210.0,61.07 210.5,60.68 211.0,60.60 211.5,61.00 212.0,60.40 212.5,60.69 213.0,61.12 213.5,60.68 214.0,61.08 214.5,60.56 215.0,59.21 215.5,60.56 216.0,60.43 216.5,60.47 217.0,60.44 217.5,60.80 218.0,60.66 218.5,60.46 219.0,60.29 219.5,61.46 220.0,61.62 220.5,60.89 221.0,60.09 221.5,60.20 222.0,60.77 222.5,60.04 223.0,60.02 223.5,60.30 224.0,60.07 224.5,60.16 225.0,60.26 225.5,60.43 226.0,60.17 226.5,60.13 227.0,61.98 227.5,60.23 228.0,59.56 228.5,59.88 229.0,59.01 229.5,59.44 230.0,58.76 230.5,58.47 231.0,58.29 231.5,58.57 232.0,57.71 232.5,57.15 233.0,56.59 233.5,56.01 234.0,56.73" fill="none" stroke="#111" stroke-width="0.9" stroke-opacity="0.85"/>
<path d="M77.9,50.9 L79.1,48.6 L80.4,50.9 Z" fill="#111"/>
<polyline points="50.0,55.04 50.5,54.83 51.0,54.65 51.5,54.53 52.0,54.53 52.5,54.27 53.0,54.18 53.5,54.19" fill="none" stroke="#555" stroke-width="1.0"/>
<polyline points="54.0,54.12 54.5,54.05 55.0,53.97 55.5,54.16 56.0,54.07 56.5,54.01 57.0,54.08 57.5,54.13 58.0,54.02 58.5,54.16 59.0,54.17 59.5,54.22 60.0,54.37 60.5,54.63 61.0,55.03 61.5,55.80 62.0,56.33 62.5,57.32 63.0,57.56 63.5,58.18 64.0,58.59 64.5,58.70 65.0,59.56 65.5,59.71 66.0,59.88 66.5,60.55 67.0,61.01 67.5,61.06 68.0,61.29 68.5,61.47 69.0,61.73 69.5,62.22 70.0,62.23 70.5,62.48 71.0,62.70 71.5,62.24 72.0,62.98 72.5,63.23 73.0,63.33 73.5,63.19 74.0,63.47 74.5,63.89 75.0,64.00 75.5,64.16 76.0,64.04 76.5,64.46 77.0,64.85 77.5,64.78 78.0,65.20 78.5,65.30 79.0,65.47 79.5,65.37 80.0,65.53 80.5,65.67 81.0,66.13 81.5,66.29 82.0,66.01 82.5,66.09 83.0,66.46 83.5,66.79 84.0,66.71 84.5,66.88 85.0,66.95 85.5,67.12 86.0,67.18 86.5,67.49 87.0,67.72 87.5,67.76 88.0,68.26 88.5,67.94 89.0,68.22 89.5,68.28 90.0,68.74 90.5,68.85 91.0,68.62 91.5,68.86 92.0,68.87 92.5,68.75 93.0,68.85 93.5,69.05 94.0,69.10 94.5,68.86 95.0,68.99 95.5,69.14 96.0,69.20 96.5,68.96 97.0,68.66 97.5,68.42 98.0,68.60 98.5,68.40 99.0,68.22 99.5,68.07 100.0,67.96 100.5,67.91 101.0,67.78 101.5,67.28 102.0,67.52 102.5,67.20 103.0,66.63 103.5,66.44 104.0,66.33 104.5,65.53 105.0,65.07 105.5,64.42 106.0,63.59 106.5,63.13 107.0,62.21 107.5,61.49 108.0,60.54 108.5,59.44 109.0,58.68 109.5,57.36 110.0,56.02 110.5,54.80 111.0,54.30 111.5,54.83 112.0,56.25 112.5,58.18 113.0,59.86 113.5,61.22 114.0,62.19 114.5,62.79 115.0,63.88 115.5,64.58 116.0,65.03 116.5,65.72 117.0,65.91 117.5,66.09 118.0,66.68 118.5,67.08 119.0,66.80 119.5,67.21 120.0,67.60 120.5,67.77 121.0,68.05 121.5,68.31 122.0,67.95 122.5,68.57 123.0,68.34 123.5,68.63 124.0,68.77 124.5,69.21 125.0,68.99 125.5,69.47 126.0,69.41 126.5,70.26 127.0,70.03 127.5,70.33 128.0,70.34 128.5,70.65 129.0,71.19 129.5,71.20 130.0,71.14 130.5,71.44 131.0,71.69 131.5,72.20 132.0,72.04 132.5,72.31 133.0,72.58 133.5,72.99 134.0,72.84 134.5,72.70 135.0,72.88 135.5,73.52 136.0,73.38 136.5,73.05 137.0,73.40 137.5,73.51 138.0,73.63 138.5,73.90 139.0,74.00 139.5,74.20 140.0,73.70 140.5,74.16 141.0,74.13 141.5,74.04 142.0,74.44 142.5,74.11 143.0,74.15 143.5,74.74 144.0,74.56 144.5,74.68 145.0,74.80 145.5,74.37 146.0,74.87 146.5,74.68 147.0,74.78 147.5,74.86 148.0,74.85 148.5,74.69 149.0,74.77 149.5,74.82 150.0,74.98 150.5,74.40 151.0,75.05 151.5,74.62 152.0,75.17 152.5,74.84 153.0,75.05 153.5,74.67 154.0,75.00 154.5,74.73 155.0,74.70 155.5,74.67 156.0,74.10 156.5,74.22 157.0,74.12 157.5,74.34 158.0,74.19 158.5,74.27 159.0,74.08 159.5,74.12 160.0,73.66 160.5,73.73 161.0,73.46 161.5,73.23 162.0,72.99 162.5,73.17 163.0,72.88 163.5,72.81 164.0,72.58 164.5,72.39 165.0,72.93 165.5,72.25 166.0,71.81 166.5,71.80 167.0,71.47 167.5,70.76 168.0,70.74 168.5,69.87 169.0,69.56 169.5,68.76 170.0,68.01 170.5,67.99 171.0,66.43 171.5,65.22 172.0,64.34 172.5,63.11 173.0,61.96 173.5,59.86 174.0,58.20 174.5,59.26 175.0,60.62 175.5,62.51 176.0,64.70 176.5,65.68 177.0,66.45 177.5,67.44 178.0,68.56 178.5,69.35 179.0,70.43 179.5,71.23 180.0,71.60 180.5,72.14 181.0,72.74 181.5,73.39 182.0,73.32 182.5,73.80 183.0,73.80 183.5,74.19 184.0,74.19 184.5,74.53 185.0,74.45 185.5,74.62 186.0,75.26 186.5,75.21 187.0,74.95 187.5,75.52 188.0,75.39 188.5,75.78 189.0,75.40 189.5,75.73 190.0,75.76 190.5,75.81 191.0,75.81 191.5,76.46 192.0,76.19 192.5,76.21 193.0,76.04 193.5,76.62 194.0,76.69 194.5,76.52 195.0,76.36 195.5,76.77 196.0,76.61 196.5,76.21 197.0,76.72 197.5,76.33 198.0,75.88 198.5,75.77 199.0,75.91 199.5,75.84 200.0,75.65 200.5,75.49 201.0,73.84 201.5,75.68 202.0,76.09 202.5,74.82 203.0,74.72 203.5,74.37 204.0,76.56 204.5,76.33 205.0,73.72 205.5,74.33 206.0,74.78 206.5,74.83 207.0,74.25 207.5,76.24 208.0,74.44 208.5,74.42 209.0,74.18 209.5,74.67 210.0,74.72 210.5,74.83 211.0,76.51 211.5,74.36 212.0,74.65 212.5,75.30 213.0,74.21 213.5,74.24 214.0,74.79 214.5,73.90 215.0,73.46 215.5,74.51 216.0,74.62 216.5,74.59 217.0,74.48 217.5,74.50 218.0,73.94 218.5,74.45 219.0,73.82 219.5,73.63 220.0,74.02 220.5,73.68 221.0,73.72 221.5,73.84 222.0,73.88 222.5,72.72 223.0,73.65 223.5,73.75 224.0,73.86 224.5,73.92 225.0,73.98 225.5,74.03 226.0,73.82 226.5,73.83 227.0,73.80 227.5,73.48 228.0,73.41 228.5,72.93 229.0,73.11 229.5,73.15 230.0,72.45 230.5,72.84 231.0,72.05 231.5,72.25 232.0,72.07 232.5,71.23 233.0,70.60 233.5,71.59 234.0,69.70 234.5,69.08 235.0,71.52 235.5,67.78 236.0,68.10 236.5,67.02 237.0,65.76 237.5,65.72 238.0,65.86 238.5,63.71 239.0,64.52 239.5,67.12 240.0,67.64 240.5,69.25 241.0,70.50 241.5,71.19 242.0,73.85 242.5,73.68 243.0,73.65 243.5,73.19 244.0,73.95 244.5,74.47 245.0,74.25 245.5,74.78 246.0,74.47 246.5,74.40 247.0,76.59 247.5,75.12 248.0,75.12 248.5,74.52 249.0,75.09 249.5,74.48 250.0,74.77 250.5,74.97 251.0,74.18 251.5,75.03 252.0,74.79 252.5,74.47 253.0,75.17 253.5,75.08 254.0,75.14 254.5,74.98 255.0,74.89 255.5,74.72 256.0,75.08 256.5,74.86 257.0,76.53 257.5,75.34 258.0,75.48 258.5,75.39 259.0,77.23 259.5,75.20 260.0,75.58 260.5,75.65 261.0,75.14 261.5,75.16 262.0,74.99 262.5,75.19 263.0,75.14 263.5,75.86 264.0,75.67 264.5,74.83 265.0,75.46 265.5,75.14 266.0,74.67 266.5,75.26 267.0,74.96 267.5,75.25 268.0,75.30 268.5,74.93 269.0,75.57 269.5,75.15 270.0,74.86 270.5,74.60 271.0,75.77 271.5,74.85 272.0,75.12 272.5,75.19 273.0,75.38 273.5,74.71 274.0,74.39 274.5,75.18 275.0,74.70 275.5,75.09 276.0,75.81 276.5,75.02 277.0,75.42 277.5,74.89 278.0,76.15 278.5,75.14 279.0,75.39 279.5,75.23 280.0,75.10 280.5,75.61 281.0,75.22 281.5,75.01 282.0,75.12 282.5,75.19 283.0,75.30 283.5,75.31 284.0,75.01 284.5,74.45 285.0,75.87 285.5,75.15 286.0,75.63 286.5,75.07 287.0,74.33 287.5,74.99 288.0,74.56 288.5,75.88 289.0,75.40 289.5,75.51 290.0,75.43 290.5,74.92 291.0,74.97 291.5,73.30 292.0,75.13 292.5,75.28 293.0,77.30 293.5,74.77 294.0,75.11 294.5,74.99 295.0,74.53 295.5,74.86 296.0,74.94 296.5,75.68 297.0,74.53 297.5,73.89 298.0,76.24 298.5,73.74 299.0,72.85 299.5,73.22 300.0,72.73 300.5,72.49 301.0,73.96 301.5,71.26 302.0,71.29 302.5,71.48 303.0,71.79 303.5,71.27 304.0,71.80 304.5,71.54 305.0,74.01 305.5,72.99 306.0,73.20 306.5,74.00 307.0,73.78 307.5,73.71 308.0,73.85 308.5,74.36 309.0,74.99 309.5,74.30 310.0,74.56 310.5,75.02 311.0,74.97 311.5,75.36 312.0,74.94 312.5,75.09 313.0,75.07 313.5,75.14 314.0,75.49 314.5,74.67 315.0,74.53 315.5,74.60 316.0,74.12 316.5,75.08 317.0,75.20 317.5,75.12 318.0,75.06 318.5,74.47 319.0,74.81 319.5,75.13 320.0,74.62 320.5,74.84 321.0,74.11 321.5,75.13 322.0,74.71 322.5,74.46 323.0,74.86 323.5,77.14 324.0,75.22 324.5,74.77 325.0,74.88 325.5,74.79 326.0,74.80 326.5,77.53 327.0,74.16 327.5,76.91 328.0,74.69 328.5,75.73 329.0,74.45 329.5,75.81 330.0,74.67 330.5,75.08 331.0,75.32 331.5,74.52 332.0,74.41 332.5,75.25 333.0,75.49 333.5,74.89 334.0,74.25 334.5,75.83 335.0,76.33 335.5,77.13 336.0,74.83 336.5,74.46 337.0,75.22 337.5,76.45 338.0,74.65 338.5,74.66 339.0,74.66 339.5,75.02 340.0,74.55 340.5,75.80 341.0,75.17 341.5,75.17 342.0,75.25 342.5,74.72 343.0,74.31 343.5,74.88 344.0,74.89 344.5,74.91 345.0,77.03 345.5,74.96 346.0,74.50 346.5,75.06 347.0,75.35 347.5,74.85 348.0,74.82 348.5,75.00 349.0,74.97 349.5,74.98 350.0,74.86 350.5,75.43 351.0,75.28 351.5,74.43" fill="none" stroke="#111" stroke-width="1.35" stroke-linejoin="round"/>
<g stroke="#ff4040" stroke-width="0.65"><circle cx="55.0" cy="54.10" r="1.30" fill="#ffcdcd"/><circle cx="56.4" cy="54.11" r="1.30" fill="#ffcdcd"/><circle cx="57.8" cy="54.13" r="1.30" fill="#ffcdcd"/><circle cx="59.2" cy="54.18" r="1.30" fill="#ffcdcd"/><circle cx="60.4" cy="54.73" r="1.30" fill="#ffcdcd"/><circle cx="61.4" cy="55.73" r="1.30" fill="#ffcdcd"/><circle cx="62.3" cy="56.81" r="1.30" fill="#ffcdcd"/><circle cx="63.2" cy="57.85" r="1.30" fill="#ffcdcd"/><circle cx="64.3" cy="58.81" r="1.30" fill="#ffcdcd"/><circle cx="65.3" cy="59.68" r="1.30" fill="#ffcdcd"/><circle cx="66.5" cy="60.48" r="1.30" fill="#ffcdcd"/><circle cx="67.7" cy="61.19" r="1.30" fill="#ffcdcd"/><circle cx="69.0" cy="61.80" r="1.30" fill="#ffcdcd"/><circle cx="70.3" cy="62.32" r="1.30" fill="#ffcdcd"/><circle cx="71.6" cy="62.80" r="1.30" fill="#ffcdcd"/><circle cx="72.9" cy="63.26" r="1.30" fill="#ffcdcd"/><circle cx="74.2" cy="63.69" r="1.30" fill="#ffcdcd"/><circle cx="75.6" cy="64.11" r="1.30" fill="#ffcdcd"/><circle cx="76.9" cy="64.56" r="1.30" fill="#ffcdcd"/><circle cx="78.2" cy="65.04" r="1.30" fill="#ffcdcd"/><circle cx="79.5" cy="65.50" r="1.30" fill="#ffcdcd"/><circle cx="80.9" cy="65.90" r="1.30" fill="#ffcece"/><circle cx="82.2" cy="66.26" r="1.30" fill="#ffd0d0"/><circle cx="83.6" cy="66.59" r="1.30" fill="#ffd1d1"/><circle cx="85.1" cy="66.88" r="1.30" fill="#ffd3d3"/><circle cx="86.6" cy="67.16" r="1.30" fill="#ffd5d5"/><circle cx="88.1" cy="67.42" r="1.30" fill="#ffd6d6"/><circle cx="89.6" cy="67.58" r="1.30" fill="#ffd8d8"/><circle cx="91.2" cy="67.60" r="1.30" fill="#ffdada"/><circle cx="92.8" cy="67.60" r="1.30" fill="#ffdcdc"/><circle cx="94.5" cy="67.60" r="1.30" fill="#ffdede"/><circle cx="96.2" cy="67.54" r="1.30" fill="#ffe0e0"/><circle cx="97.9" cy="67.22" r="1.30" fill="#ffe2e2"/><circle cx="99.6" cy="66.77" r="1.30" fill="#ffe4e4"/><circle cx="101.3" cy="66.36" r="1.30" fill="#ffe4e4"/><circle cx="103.1" cy="65.89" r="1.30" fill="#ffe4e4"/><circle cx="104.7" cy="65.14" r="1.30" fill="#ffe4e4"/><circle cx="105.9" cy="63.82" r="1.30" fill="#ffe4e4"/><circle cx="106.9" cy="62.34" r="1.30" fill="#ffe4e4"/><circle cx="107.9" cy="60.79" r="1.30" fill="#ffe4e4"/><circle cx="108.6" cy="59.16" r="1.30" fill="#ffe4e4"/><circle cx="109.4" cy="57.54" r="1.30" fill="#ffe4e4"/><circle cx="110.1" cy="55.87" r="1.30" fill="#ffe4e4"/><circle cx="111.1" cy="54.40" r="1.30" fill="#ffe4e4"/><circle cx="111.9" cy="55.93" r="1.30" fill="#ffe4e4"/><circle cx="112.4" cy="57.68" r="1.30" fill="#ffe4e4"/><circle cx="112.8" cy="59.43" r="1.30" fill="#ffe4e4"/><circle cx="113.5" cy="61.11" r="1.30" fill="#ffe4e4"/><circle cx="114.3" cy="62.71" r="1.30" fill="#ffe4e4"/><circle cx="115.3" cy="64.24" r="1.30" fill="#ffe4e4"/><circle cx="116.5" cy="65.55" r="1.30" fill="#ffe4e4"/><circle cx="118.1" cy="66.54" r="1.30" fill="#ffe4e4"/><circle cx="119.7" cy="67.31" r="1.30" fill="#ffe4e4"/><circle cx="121.4" cy="68.02" r="1.30" fill="#ffe4e4"/><circle cx="123.1" cy="68.65" r="1.30" fill="#ffe4e4"/><circle cx="124.8" cy="69.22" r="1.30" fill="#ffe4e4"/><circle cx="126.5" cy="69.73" r="1.30" fill="#ffe4e4"/><circle cx="128.3" cy="70.20" r="1.30" fill="#ffe4e4"/><circle cx="130.1" cy="70.62" r="1.30" fill="#ffe4e4"/><circle cx="131.8" cy="70.98" r="1.30" fill="#ffe4e4"/><circle cx="133.6" cy="71.29" r="1.30" fill="#ffe4e4"/><circle cx="135.4" cy="71.60" r="1.30" fill="#ffe4e4"/><circle cx="137.2" cy="71.94" r="1.30" fill="#ffe4e4"/><circle cx="139.0" cy="72.28" r="1.31" fill="#ffe4e4"/><circle cx="140.8" cy="72.55" r="1.31" fill="#ffe4e4"/><circle cx="142.6" cy="72.76" r="1.31" fill="#ffe4e4"/><circle cx="144.5" cy="72.93" r="1.31" fill="#ffe4e4"/><circle cx="146.3" cy="73.04" r="1.31" fill="#ffe4e4"/><circle cx="148.1" cy="73.14" r="1.31" fill="#ffe4e4"/><circle cx="149.9" cy="73.19" r="1.31" fill="#ffe4e4"/><circle cx="151.8" cy="73.18" r="1.31" fill="#ffe4e4"/><circle cx="153.6" cy="73.11" r="1.31" fill="#ffe4e4"/><circle cx="155.4" cy="73.00" r="1.31" fill="#ffe4e4"/><circle cx="157.3" cy="72.77" r="1.31" fill="#ffe4e4"/><circle cx="159.1" cy="72.40" r="1.31" fill="#ffe4e4"/><circle cx="160.9" cy="71.99" r="1.31" fill="#ffe4e4"/><circle cx="162.6" cy="71.55" r="1.31" fill="#ffe4e4"/><circle cx="164.4" cy="71.03" r="1.31" fill="#ffe4e4"/><circle cx="166.1" cy="70.40" r="1.31" fill="#ffe4e4"/><circle cx="167.8" cy="69.56" r="1.31" fill="#ffe4e4"/><circle cx="169.2" cy="68.43" r="1.31" fill="#ffe4e4"/><circle cx="170.5" cy="67.07" r="1.31" fill="#ffe4e4"/><circle cx="171.5" cy="65.52" r="1.31" fill="#ffe4e4"/><circle cx="172.3" cy="63.85" r="1.31" fill="#ffe4e4"/><circle cx="172.9" cy="62.12" r="1.31" fill="#ffe4e4"/><circle cx="173.4" cy="60.33" r="1.31" fill="#ffe4e4"/><circle cx="174.1" cy="58.30" r="1.31" fill="#ffe4e4"/><circle cx="174.7" cy="59.67" r="1.31" fill="#ffe4e4"/><circle cx="175.2" cy="61.46" r="1.31" fill="#ffe4e4"/><circle cx="175.6" cy="63.26" r="1.31" fill="#ffe4e4"/><circle cx="176.2" cy="65.01" r="1.31" fill="#ffe4e4"/><circle cx="177.1" cy="66.63" r="1.31" fill="#ffe4e4"/><circle cx="178.2" cy="68.14" r="1.31" fill="#ffe4e4"/><circle cx="179.3" cy="69.58" r="1.31" fill="#ffe4e4"/><circle cx="180.6" cy="70.94" r="1.31" fill="#ffe4e4"/><circle cx="182.1" cy="72.00" r="1.31" fill="#ffe4e4"/><circle cx="183.8" cy="72.74" r="1.31" fill="#ffe4e4"/><circle cx="185.6" cy="73.29" r="1.31" fill="#ffe4e4"/><circle cx="187.4" cy="73.78" r="1.31" fill="#ffe4e4"/><circle cx="189.2" cy="74.19" r="1.31" fill="#ffe4e4"/><circle cx="191.0" cy="74.54" r="1.31" fill="#ffe4e4"/><circle cx="192.8" cy="74.83" r="1.31" fill="#ffe4e4"/><circle cx="194.7" cy="75.08" r="1.31" fill="#ffe4e4"/><circle cx="196.5" cy="75.28" r="1.31" fill="#ffe4e4"/><circle cx="198.4" cy="75.46" r="1.32" fill="#ffe4e4"/><circle cx="200.3" cy="75.58" r="1.32" fill="#ffe4e4"/><circle cx="202.1" cy="75.64" r="1.32" fill="#ffe4e4"/><circle cx="204.0" cy="75.68" r="1.32" fill="#ffe4e4"/><circle cx="205.9" cy="75.70" r="1.32" fill="#ffe4e4"/><circle cx="207.7" cy="75.69" r="1.32" fill="#ffe4e4"/><circle cx="209.6" cy="75.66" r="1.32" fill="#ffe4e4"/><circle cx="211.5" cy="75.62" r="1.32" fill="#ffe4e4"/><circle cx="213.4" cy="75.57" r="1.32" fill="#ffe4e4"/><circle cx="215.2" cy="75.51" r="1.32" fill="#ffe4e4"/><circle cx="217.1" cy="75.46" r="1.32" fill="#ffe4e4"/><circle cx="219.0" cy="75.41" r="1.32" fill="#ffe4e4"/><circle cx="220.9" cy="75.35" r="1.32" fill="#ffe4e4"/><circle cx="222.7" cy="75.27" r="1.32" fill="#ffe4e4"/><circle cx="224.6" cy="75.16" r="1.32" fill="#ffe4e4"/><circle cx="226.5" cy="74.98" r="1.32" fill="#ffe4e4"/><circle cx="228.3" cy="74.55" r="1.32" fill="#ffe4e4"/><circle cx="230.1" cy="73.90" r="1.32" fill="#ffe4e4"/><circle cx="231.8" cy="73.04" r="1.32" fill="#ffe4e4"/><circle cx="233.2" cy="71.82" r="1.32" fill="#ffe4e4"/><circle cx="234.6" cy="70.55" r="1.32" fill="#ffe4e4"/><circle cx="235.9" cy="69.19" r="1.32" fill="#ffe4e4"/><circle cx="237.0" cy="67.62" r="1.32" fill="#ffe4e4"/><circle cx="238.0" cy="66.05" r="1.32" fill="#ffe4e4"/><circle cx="238.7" cy="65.50" r="1.32" fill="#ffe4e4"/><circle cx="240.0" cy="67.99" r="1.32" fill="#ffe4e4"/><circle cx="240.8" cy="69.74" r="1.32" fill="#ffe4e4"/><circle cx="241.9" cy="71.28" r="1.32" fill="#ffe4e4"/><circle cx="243.2" cy="72.67" r="1.32" fill="#ffe4e4"/><circle cx="244.5" cy="73.97" r="1.32" fill="#ffe4e4"/><circle cx="246.1" cy="75.08" r="1.32" fill="#ffe4e4"/><circle cx="247.8" cy="75.79" r="1.32" fill="#ffe4e4"/><circle cx="249.6" cy="76.30" r="1.32" fill="#ffe4e4"/><circle cx="251.5" cy="76.63" r="1.32" fill="#ffe4e4"/><circle cx="253.4" cy="76.86" r="1.32" fill="#ffe4e4"/><circle cx="255.3" cy="77.03" r="1.33" fill="#ffe4e4"/><circle cx="257.2" cy="77.18" r="1.33" fill="#ffe4e4"/><circle cx="259.1" cy="77.30" r="1.33" fill="#ffe4e4"/><circle cx="261.0" cy="77.41" r="1.33" fill="#ffe4e4"/></g>
<polyline points="197.0,76.72 197.5,76.33 198.0,75.88 198.5,75.77 199.0,75.91 199.5,75.84 200.0,75.65 200.5,75.49 201.0,73.84 201.5,75.68 202.0,76.09 202.5,74.82 203.0,74.72 203.5,74.37 204.0,76.56 204.5,76.33 205.0,73.72 205.5,74.33 206.0,74.78 206.5,74.83 207.0,74.25 207.5,76.24 208.0,74.44 208.5,74.42 209.0,74.18 209.5,74.67 210.0,74.72 210.5,74.83 211.0,76.51 211.5,74.36 212.0,74.65 212.5,75.30 213.0,74.21 213.5,74.24 214.0,74.79 214.5,73.90 215.0,73.46 215.5,74.51 216.0,74.62 216.5,74.59 217.0,74.48 217.5,74.50 218.0,73.94 218.5,74.45 219.0,73.82 219.5,73.63 220.0,74.02 220.5,73.68 221.0,73.72 221.5,73.84 222.0,73.88 222.5,72.72 223.0,73.65 223.5,73.75 224.0,73.86 224.5,73.92 225.0,73.98 225.5,74.03 226.0,73.82 226.5,73.83 227.0,73.80 227.5,73.48 228.0,73.41 228.5,72.93 229.0,73.11 229.5,73.15 230.0,72.45 230.5,72.84 231.0,72.05 231.5,72.25 232.0,72.07 232.5,71.23 233.0,70.60 233.5,71.59 234.0,69.70" fill="none" stroke="#111" stroke-width="0.9" stroke-opacity="0.85"/>
<path d="M77.9,64.5 L79.1,62.2 L80.4,64.5 Z" fill="#111"/>
<polyline points="50.0,68.83 50.5,68.73 51.0,68.51 51.5,68.34 52.0,68.24 52.5,68.12 53.0,67.97 53.5,67.91" fill="none" stroke="#555" stroke-width="1.0"/>
<polyline points="54.0,67.99 54.5,67.97 55.0,67.96 55.5,67.95 56.0,67.94 56.5,67.88 57.0,67.89 57.5,67.94 58.0,67.83 58.5,67.97 59.0,67.86 59.5,68.10 60.0,68.26 60.5,68.48 61.0,69.10 61.5,69.52 62.0,70.47 62.5,71.01 63.0,71.40 63.5,71.80 64.0,72.46 64.5,72.85 65.0,73.20 65.5,73.49 66.0,73.66 66.5,74.02 67.0,74.45 67.5,74.58 68.0,74.96 68.5,75.69 69.0,75.60 69.5,75.93 70.0,75.91 70.5,76.44 71.0,76.41 71.5,76.71 72.0,76.94 72.5,77.00 73.0,77.43 73.5,77.09 74.0,77.35 74.5,77.65 75.0,77.70 75.5,77.96 76.0,78.42 76.5,78.16 77.0,78.43 77.5,78.48 78.0,78.61 78.5,78.60 79.0,79.20 79.5,79.53 80.0,79.45 80.5,79.80 81.0,79.49 81.5,79.82 82.0,79.96 82.5,80.24 83.0,80.24 83.5,80.45 84.0,80.72 84.5,80.37 85.0,80.64 85.5,80.87 86.0,80.87 86.5,81.25 87.0,81.06 87.5,81.38 88.0,81.70 88.5,81.60 89.0,82.46 89.5,82.55 90.0,82.56 90.5,82.59 91.0,82.70 91.5,82.60 92.0,82.70 92.5,82.44 93.0,82.97 93.5,82.77 94.0,82.45 94.5,82.65 95.0,82.89 95.5,82.51 96.0,82.68 96.5,82.33 97.0,82.54 97.5,82.51 98.0,81.98 98.5,82.15 99.0,82.23 99.5,81.95 100.0,82.14 100.5,81.88 101.0,81.70 101.5,81.05 102.0,80.87 102.5,80.85 103.0,80.62 103.5,80.15 104.0,79.89 104.5,79.40 105.0,79.00 105.5,78.53 106.0,77.98 106.5,77.04 107.0,76.36 107.5,75.45 108.0,74.62 108.5,73.67 109.0,72.27 109.5,71.59 110.0,70.34 110.5,69.23 111.0,68.37 111.5,68.30 112.0,69.58 112.5,71.51 113.0,72.94 113.5,74.58 114.0,75.60 114.5,76.52 115.0,77.26 115.5,77.97 116.0,78.71 116.5,79.12 117.0,79.84 117.5,79.94 118.0,80.23 118.5,80.65 119.0,80.73 119.5,80.97 120.0,81.39 120.5,81.57 121.0,81.58 121.5,81.59 122.0,81.91 122.5,82.30 123.0,82.09 123.5,82.50 124.0,82.71 124.5,82.62 125.0,83.25 125.5,83.15 126.0,83.15 126.5,83.47 127.0,83.94 127.5,84.32 128.0,84.34 128.5,84.53 129.0,84.67 129.5,85.18 130.0,85.32 130.5,85.00 131.0,85.47 131.5,85.74 132.0,85.78 132.5,86.06 133.0,86.26 133.5,86.16 134.0,86.70 134.5,86.67 135.0,86.99 135.5,87.02 136.0,87.06 136.5,87.41 137.0,87.34 137.5,87.64 138.0,87.57 138.5,87.94 139.0,87.51 139.5,87.75 140.0,87.68 140.5,87.70 141.0,87.98 141.5,87.75 142.0,88.05 142.5,88.35 143.0,88.28 143.5,88.14 144.0,88.23 144.5,88.45 145.0,88.63 145.5,88.35 146.0,88.44 146.5,88.53 147.0,88.44 147.5,88.56 148.0,88.57 148.5,88.78 149.0,88.46 149.5,88.59 150.0,88.65 150.5,88.47 151.0,88.54 151.5,88.58 152.0,88.32 152.5,88.48 153.0,88.34 153.5,88.43 154.0,88.37 154.5,88.38 155.0,88.55 155.5,88.61 156.0,88.51 156.5,88.17 157.0,88.29 157.5,87.93 158.0,88.16 158.5,88.08 159.0,87.79 159.5,87.74 160.0,87.76 160.5,87.63 161.0,87.29 161.5,87.14 162.0,86.85 162.5,86.96 163.0,86.78 163.5,86.74 164.0,86.69 164.5,86.19 165.0,86.13 165.5,86.02 166.0,85.62 166.5,85.65 167.0,85.29 167.5,85.02 168.0,84.61 168.5,84.10 169.0,83.38 169.5,82.86 170.0,82.18 170.5,81.59 171.0,80.27 171.5,79.56 172.0,78.38 172.5,77.41 173.0,76.26 173.5,74.18 174.0,72.39 174.5,71.89 175.0,73.47 175.5,75.51 176.0,77.30 176.5,78.90 177.0,79.75 177.5,80.55 178.0,81.86 178.5,82.90 179.0,83.77 179.5,84.58 180.0,85.31 180.5,85.98 181.0,86.45 181.5,86.45 182.0,86.96 182.5,87.37 183.0,87.58 183.5,87.95 184.0,88.17 184.5,88.20 185.0,88.27 185.5,88.78 186.0,88.49 186.5,88.76 187.0,89.26 187.5,89.15 188.0,89.27 188.5,89.28 189.0,89.60 189.5,90.01 190.0,89.66 190.5,89.66 191.0,89.99 191.5,90.20 192.0,90.02 192.5,89.89 193.0,90.17 193.5,90.05 194.0,90.42 194.5,90.29 195.0,90.48 195.5,90.46 196.0,90.62 196.5,90.00 197.0,90.27 197.5,90.11 198.0,89.99 198.5,89.54 199.0,89.88 199.5,89.39 200.0,89.48 200.5,89.06 201.0,89.01 201.5,88.79 202.0,88.31 202.5,87.16 203.0,88.86 203.5,88.00 204.0,88.21 204.5,87.68 205.0,88.50 205.5,87.80 206.0,87.86 206.5,88.15 207.0,88.35 207.5,87.81 208.0,88.16 208.5,88.33 209.0,88.17 209.5,87.94 210.0,88.28 210.5,88.47 211.0,88.80 211.5,88.49 212.0,87.62 212.5,88.47 213.0,87.56 213.5,88.16 214.0,88.26 214.5,88.37 215.0,87.95 215.5,87.66 216.0,87.92 216.5,88.18 217.0,87.81 217.5,87.77 218.0,87.58 218.5,88.09 219.0,87.61 219.5,87.84 220.0,87.68 220.5,88.25 221.0,88.15 221.5,88.51 222.0,87.61 222.5,87.51 223.0,87.85 223.5,88.16 224.0,87.57 224.5,87.88 225.0,87.67 225.5,87.86 226.0,87.36 226.5,87.39 227.0,87.41 227.5,87.60 228.0,87.56 228.5,87.45 229.0,86.97 229.5,86.55 230.0,86.45 230.5,86.36 231.0,85.70 231.5,85.63 232.0,85.08 232.5,85.29 233.0,84.85 233.5,84.07 234.0,84.16 234.5,83.46 235.0,82.93 235.5,82.67 236.0,83.06 236.5,81.12 237.0,82.59 237.5,79.67 238.0,79.61 238.5,78.91 239.0,79.00 239.5,79.12 240.0,80.19 240.5,82.59 241.0,83.99 241.5,84.30 242.0,85.74 242.5,85.83 243.0,86.99 243.5,87.14 244.0,87.19 244.5,87.62 245.0,87.92 245.5,87.34 246.0,88.54 246.5,88.35 247.0,88.72 247.5,87.71 248.0,89.75 248.5,88.56 249.0,88.22 249.5,89.09 250.0,88.73 250.5,88.26 251.0,88.34 251.5,87.49 252.0,89.18 252.5,88.85 253.0,88.62 253.5,89.30 254.0,88.64 254.5,91.09 255.0,89.08 255.5,88.88 256.0,88.77 256.5,88.80 257.0,88.99 257.5,89.42 258.0,89.02 258.5,88.80 259.0,89.46 259.5,89.38 260.0,89.12 260.5,89.46 261.0,89.16 261.5,89.64 262.0,89.07 262.5,88.89 263.0,88.97 263.5,89.12 264.0,89.12 264.5,88.90 265.0,88.90 265.5,89.78 266.0,88.86 266.5,89.48 267.0,88.93 267.5,88.69 268.0,88.76 268.5,88.72 269.0,88.90 269.5,88.68 270.0,88.80 270.5,88.66 271.0,88.83 271.5,89.33 272.0,88.89 272.5,89.27 273.0,88.86 273.5,89.15 274.0,91.64 274.5,88.68 275.0,89.11 275.5,88.65 276.0,88.98 276.5,88.81 277.0,90.49 277.5,87.26 278.0,88.43 278.5,89.23 279.0,89.10 279.5,91.49 280.0,89.15 280.5,89.12 281.0,88.85 281.5,90.54 282.0,91.01 282.5,88.75 283.0,89.50 283.5,89.51 284.0,89.24 284.5,89.43 285.0,89.94 285.5,88.90 286.0,89.76 286.5,88.97 287.0,89.40 287.5,88.78 288.0,89.12 288.5,89.24 289.0,88.48 289.5,88.52 290.0,88.74 290.5,88.83 291.0,88.93 291.5,88.68 292.0,88.67 292.5,88.57 293.0,88.56 293.5,88.95 294.0,88.68 294.5,88.49 295.0,88.44 295.5,88.53 296.0,88.26 296.5,88.76 297.0,88.78 297.5,88.21 298.0,88.27 298.5,90.22 299.0,87.64 299.5,86.67 300.0,86.41 300.5,85.80 301.0,85.43 301.5,85.18 302.0,86.10 302.5,85.33 303.0,85.14 303.5,85.27 304.0,84.98 304.5,85.43 305.0,87.13 305.5,86.32 306.0,86.90 306.5,86.86 307.0,87.31 307.5,87.46 308.0,87.85 308.5,88.04 309.0,88.45 309.5,88.18 310.0,88.46 310.5,88.49 311.0,88.82 311.5,89.03 312.0,88.92 312.5,87.37 313.0,88.69 313.5,88.73 314.0,87.71 314.5,88.70 315.0,88.77 315.5,89.14 316.0,89.04 316.5,89.28 317.0,88.37 317.5,88.54 318.0,88.47 318.5,89.13 319.0,88.67 319.5,88.65 320.0,88.66 320.5,88.89 321.0,89.20 321.5,89.26 322.0,90.75 322.5,89.06 323.0,88.73 323.5,89.26 324.0,89.55 324.5,88.94 325.0,88.96 325.5,88.01 326.0,90.64 326.5,88.26 327.0,88.58 327.5,90.34 328.0,88.28 328.5,91.30 329.0,88.58 329.5,88.97 330.0,88.58 330.5,88.94 331.0,88.56 331.5,90.64 332.0,88.03 332.5,89.00 333.0,88.92 333.5,88.61 334.0,87.92 334.5,88.38 335.0,88.48 335.5,88.77 336.0,88.78 336.5,88.03 337.0,89.03 337.5,88.98 338.0,88.80 338.5,88.78 339.0,88.61 339.5,90.49 340.0,88.45 340.5,88.43 341.0,88.76 341.5,88.23 342.0,88.56 342.5,88.20 343.0,88.40 343.5,89.69 344.0,88.16 344.5,88.94 345.0,88.46 345.5,88.30 346.0,88.19 346.5,88.81 347.0,88.52 347.5,88.63 348.0,89.12 348.5,88.21 349.0,87.98 349.5,88.66 350.0,89.02 350.5,88.66 351.0,89.03 351.5,90.05" fill="none" stroke="#111" stroke-width="1.35" stroke-linejoin="round"/>
<g stroke="#ff4040" stroke-width="0.65"><circle cx="55.0" cy="67.90" r="1.30" fill="#ffcdcd"/><circle cx="56.4" cy="67.91" r="1.30" fill="#ffcdcd"/><circle cx="57.8" cy="67.93" r="1.30" fill="#ffcdcd"/><circle cx="59.2" cy="67.98" r="1.30" fill="#ffcdcd"/><circle cx="60.4" cy="68.52" r="1.30" fill="#ffcdcd"/><circle cx="61.4" cy="69.51" r="1.30" fill="#ffcdcd"/><circle cx="62.3" cy="70.58" r="1.30" fill="#ffcdcd"/><circle cx="63.2" cy="71.63" r="1.30" fill="#ffcdcd"/><circle cx="64.3" cy="72.59" r="1.30" fill="#ffcdcd"/><circle cx="65.4" cy="73.47" r="1.30" fill="#ffcdcd"/><circle cx="66.5" cy="74.26" r="1.30" fill="#ffcdcd"/><circle cx="67.7" cy="74.98" r="1.30" fill="#ffcdcd"/><circle cx="69.0" cy="75.58" r="1.30" fill="#ffcdcd"/><circle cx="70.3" cy="76.11" r="1.30" fill="#ffcdcd"/><circle cx="71.6" cy="76.59" r="1.30" fill="#ffcdcd"/><circle cx="72.9" cy="77.05" r="1.30" fill="#ffcdcd"/><circle cx="74.2" cy="77.48" r="1.30" fill="#ffcdcd"/><circle cx="75.6" cy="77.90" r="1.30" fill="#ffcdcd"/><circle cx="76.9" cy="78.34" r="1.30" fill="#ffcdcd"/><circle cx="78.2" cy="78.83" r="1.30" fill="#ffcdcd"/><circle cx="79.5" cy="79.29" r="1.30" fill="#ffcdcd"/><circle cx="80.9" cy="79.68" r="1.30" fill="#ffcece"/><circle cx="82.2" cy="80.05" r="1.30" fill="#ffd0d0"/><circle cx="83.7" cy="80.38" r="1.30" fill="#ffd1d1"/><circle cx="85.1" cy="80.67" r="1.30" fill="#ffd3d3"/><circle cx="86.6" cy="80.95" r="1.30" fill="#ffd5d5"/><circle cx="88.1" cy="81.21" r="1.30" fill="#ffd6d6"/><circle cx="89.6" cy="81.38" r="1.30" fill="#ffd8d8"/><circle cx="91.2" cy="81.40" r="1.30" fill="#ffdada"/><circle cx="92.9" cy="81.40" r="1.30" fill="#ffdcdc"/><circle cx="94.5" cy="81.40" r="1.30" fill="#ffdede"/><circle cx="96.2" cy="81.35" r="1.30" fill="#ffe0e0"/><circle cx="97.9" cy="81.04" r="1.30" fill="#ffe2e2"/><circle cx="99.6" cy="80.59" r="1.30" fill="#ffe4e4"/><circle cx="101.3" cy="80.17" r="1.30" fill="#ffe4e4"/><circle cx="103.1" cy="79.72" r="1.30" fill="#ffe4e4"/><circle cx="104.7" cy="78.99" r="1.30" fill="#ffe4e4"/><circle cx="106.0" cy="77.69" r="1.30" fill="#ffe4e4"/><circle cx="107.0" cy="76.21" r="1.30" fill="#ffe4e4"/><circle cx="107.9" cy="74.67" r="1.30" fill="#ffe4e4"/><circle cx="108.7" cy="73.04" r="1.30" fill="#ffe4e4"/><circle cx="109.5" cy="71.42" r="1.30" fill="#ffe4e4"/><circle cx="110.2" cy="69.75" r="1.30" fill="#ffe4e4"/><circle cx="111.2" cy="68.20" r="1.30" fill="#ffe4e4"/><circle cx="112.0" cy="69.64" r="1.30" fill="#ffe4e4"/><circle cx="112.5" cy="71.39" r="1.30" fill="#ffe4e4"/><circle cx="112.9" cy="73.14" r="1.30" fill="#ffe4e4"/><circle cx="113.5" cy="74.83" r="1.30" fill="#ffe4e4"/><circle cx="114.4" cy="76.43" r="1.30" fill="#ffe4e4"/><circle cx="115.4" cy="77.96" r="1.30" fill="#ffe4e4"/><circle cx="116.6" cy="79.29" r="1.30" fill="#ffe4e4"/><circle cx="118.1" cy="80.29" r="1.30" fill="#ffe4e4"/><circle cx="119.7" cy="81.07" r="1.30" fill="#ffe4e4"/><circle cx="121.4" cy="81.78" r="1.30" fill="#ffe4e4"/><circle cx="123.1" cy="82.42" r="1.30" fill="#ffe4e4"/><circle cx="124.8" cy="82.98" r="1.30" fill="#ffe4e4"/><circle cx="126.5" cy="83.50" r="1.30" fill="#ffe4e4"/><circle cx="128.3" cy="83.98" r="1.30" fill="#ffe4e4"/><circle cx="130.1" cy="84.40" r="1.30" fill="#ffe4e4"/><circle cx="131.9" cy="84.76" r="1.30" fill="#ffe4e4"/><circle cx="133.6" cy="85.07" r="1.30" fill="#ffe4e4"/><circle cx="135.4" cy="85.38" r="1.30" fill="#ffe4e4"/><circle cx="137.2" cy="85.72" r="1.30" fill="#ffe4e4"/><circle cx="139.0" cy="86.06" r="1.31" fill="#ffe4e4"/><circle cx="140.8" cy="86.33" r="1.31" fill="#ffe4e4"/><circle cx="142.7" cy="86.54" r="1.31" fill="#ffe4e4"/><circle cx="144.5" cy="86.72" r="1.31" fill="#ffe4e4"/><circle cx="146.3" cy="86.84" r="1.31" fill="#ffe4e4"/><circle cx="148.1" cy="86.93" r="1.31" fill="#ffe4e4"/><circle cx="150.0" cy="86.99" r="1.31" fill="#ffe4e4"/><circle cx="151.8" cy="86.98" r="1.31" fill="#ffe4e4"/><circle cx="153.6" cy="86.91" r="1.31" fill="#ffe4e4"/><circle cx="155.5" cy="86.80" r="1.31" fill="#ffe4e4"/><circle cx="157.3" cy="86.60" r="1.31" fill="#ffe4e4"/><circle cx="159.1" cy="86.23" r="1.31" fill="#ffe4e4"/><circle cx="160.9" cy="85.82" r="1.31" fill="#ffe4e4"/><circle cx="162.7" cy="85.38" r="1.31" fill="#ffe4e4"/><circle cx="164.4" cy="84.86" r="1.31" fill="#ffe4e4"/><circle cx="166.2" cy="84.23" r="1.31" fill="#ffe4e4"/><circle cx="167.8" cy="83.41" r="1.31" fill="#ffe4e4"/><circle cx="169.3" cy="82.30" r="1.31" fill="#ffe4e4"/><circle cx="170.5" cy="80.95" r="1.31" fill="#ffe4e4"/><circle cx="171.6" cy="79.41" r="1.31" fill="#ffe4e4"/><circle cx="172.4" cy="77.75" r="1.31" fill="#ffe4e4"/><circle cx="173.0" cy="76.03" r="1.31" fill="#ffe4e4"/><circle cx="173.5" cy="74.23" r="1.31" fill="#ffe4e4"/><circle cx="174.3" cy="71.80" r="1.31" fill="#ffe4e4"/><circle cx="174.8" cy="72.78" r="1.31" fill="#ffe4e4"/><circle cx="175.3" cy="74.57" r="1.31" fill="#ffe4e4"/><circle cx="175.7" cy="76.37" r="1.31" fill="#ffe4e4"/><circle cx="176.2" cy="78.15" r="1.31" fill="#ffe4e4"/><circle cx="177.0" cy="79.81" r="1.31" fill="#ffe4e4"/><circle cx="178.0" cy="81.37" r="1.31" fill="#ffe4e4"/><circle cx="179.2" cy="82.83" r="1.31" fill="#ffe4e4"/><circle cx="180.4" cy="84.24" r="1.31" fill="#ffe4e4"/><circle cx="181.8" cy="85.45" r="1.31" fill="#ffe4e4"/><circle cx="183.4" cy="86.28" r="1.31" fill="#ffe4e4"/><circle cx="185.2" cy="86.89" r="1.31" fill="#ffe4e4"/><circle cx="187.0" cy="87.41" r="1.31" fill="#ffe4e4"/><circle cx="188.8" cy="87.85" r="1.31" fill="#ffe4e4"/><circle cx="190.6" cy="88.22" r="1.31" fill="#ffe4e4"/><circle cx="192.4" cy="88.53" r="1.31" fill="#ffe4e4"/><circle cx="194.3" cy="88.80" r="1.31" fill="#ffe4e4"/><circle cx="196.1" cy="89.01" r="1.31" fill="#ffe4e4"/><circle cx="198.0" cy="89.20" r="1.32" fill="#ffe4e4"/><circle cx="199.8" cy="89.34" r="1.32" fill="#ffe4e4"/><circle cx="201.7" cy="89.42" r="1.32" fill="#ffe4e4"/><circle cx="203.6" cy="89.47" r="1.32" fill="#ffe4e4"/><circle cx="205.4" cy="89.50" r="1.32" fill="#ffe4e4"/><circle cx="207.3" cy="89.49" r="1.32" fill="#ffe4e4"/><circle cx="209.2" cy="89.47" r="1.32" fill="#ffe4e4"/><circle cx="211.0" cy="89.43" r="1.32" fill="#ffe4e4"/><circle cx="212.9" cy="89.39" r="1.32" fill="#ffe4e4"/><circle cx="214.8" cy="89.33" r="1.32" fill="#ffe4e4"/><circle cx="216.7" cy="89.28" r="1.32" fill="#ffe4e4"/><circle cx="218.5" cy="89.23" r="1.32" fill="#ffe4e4"/><circle cx="220.4" cy="89.18" r="1.32" fill="#ffe4e4"/><circle cx="222.3" cy="89.10" r="1.32" fill="#ffe4e4"/><circle cx="224.2" cy="89.00" r="1.32" fill="#ffe4e4"/><circle cx="226.1" cy="88.87" r="1.32" fill="#ffe4e4"/><circle cx="227.9" cy="88.55" r="1.32" fill="#ffe4e4"/><circle cx="229.7" cy="87.98" r="1.32" fill="#ffe4e4"/><circle cx="231.4" cy="87.23" r="1.32" fill="#ffe4e4"/><circle cx="233.0" cy="86.12" r="1.32" fill="#ffe4e4"/><circle cx="234.4" cy="84.86" r="1.32" fill="#ffe4e4"/><circle cx="235.7" cy="83.54" r="1.32" fill="#ffe4e4"/><circle cx="236.9" cy="82.07" r="1.32" fill="#ffe4e4"/><circle cx="237.9" cy="80.45" r="1.32" fill="#ffe4e4"/><circle cx="239.0" cy="79.30" r="1.32" fill="#ffe4e4"/><circle cx="240.1" cy="81.09" r="1.32" fill="#ffe4e4"/><circle cx="240.8" cy="82.86" r="1.32" fill="#ffe4e4"/><circle cx="241.7" cy="84.48" r="1.32" fill="#ffe4e4"/><circle cx="242.9" cy="85.93" r="1.32" fill="#ffe4e4"/><circle cx="244.3" cy="87.25" r="1.32" fill="#ffe4e4"/><circle cx="245.7" cy="88.50" r="1.32" fill="#ffe4e4"/><circle cx="247.4" cy="89.33" r="1.32" fill="#ffe4e4"/><circle cx="249.2" cy="89.91" r="1.32" fill="#ffe4e4"/><circle cx="251.1" cy="90.32" r="1.32" fill="#ffe4e4"/><circle cx="253.0" cy="90.58" r="1.32" fill="#ffe4e4"/><circle cx="254.9" cy="90.77" r="1.32" fill="#ffe4e4"/><circle cx="256.8" cy="90.92" r="1.33" fill="#ffe4e4"/><circle cx="258.7" cy="91.05" r="1.33" fill="#ffe4e4"/><circle cx="260.6" cy="91.17" r="1.33" fill="#ffe4e4"/></g>
<polyline points="197.0,90.27 197.5,90.11 198.0,89.99 198.5,89.54 199.0,89.88 199.5,89.39 200.0,89.48 200.5,89.06 201.0,89.01 201.5,88.79 202.0,88.31 202.5,87.16 203.0,88.86 203.5,88.00 204.0,88.21 204.5,87.68 205.0,88.50 205.5,87.80 206.0,87.86 206.5,88.15 207.0,88.35 207.5,87.81 208.0,88.16 208.5,88.33 209.0,88.17 209.5,87.94 210.0,88.28 210.5,88.47 211.0,88.80 211.5,88.49 212.0,87.62 212.5,88.47 213.0,87.56 213.5,88.16 214.0,88.26 214.5,88.37 215.0,87.95 215.5,87.66 216.0,87.92 216.5,88.18 217.0,87.81 217.5,87.77 218.0,87.58 218.5,88.09 219.0,87.61 219.5,87.84 220.0,87.68 220.5,88.25 221.0,88.15 221.5,88.51 222.0,87.61 222.5,87.51 223.0,87.85 223.5,88.16 224.0,87.57 224.5,87.88 225.0,87.67 225.5,87.86 226.0,87.36 226.5,87.39 227.0,87.41 227.5,87.60 228.0,87.56 228.5,87.45 229.0,86.97 229.5,86.55 230.0,86.45 230.5,86.36 231.0,85.70 231.5,85.63 232.0,85.08 232.5,85.29 233.0,84.85 233.5,84.07 234.0,84.16" fill="none" stroke="#111" stroke-width="0.9" stroke-opacity="0.85"/>
<path d="M77.9,78.3 L79.1,76.0 L80.4,78.3 Z" fill="#111"/>
<polyline points="50.0,81.99 50.5,81.76 51.0,81.72 51.5,81.56 52.0,81.39 52.5,81.23 53.0,81.09 53.5,81.03" fill="none" stroke="#555" stroke-width="1.0"/>
<polyline points="54.0,81.04 54.5,81.03 55.0,80.91 55.5,80.96 56.0,80.86 56.5,80.91 57.0,80.96 57.5,81.05 58.0,81.03 58.5,81.06 59.0,81.04 59.5,81.02 60.0,81.38 60.5,81.78 61.0,81.95 61.5,82.61 62.0,83.32 62.5,83.67 63.0,84.29 63.5,85.02 64.0,85.44 64.5,86.04 65.0,86.22 65.5,86.76 66.0,87.09 66.5,87.68 67.0,87.50 67.5,87.93 68.0,88.02 68.5,88.56 69.0,88.81 69.5,89.20 70.0,89.06 70.5,89.44 71.0,89.51 71.5,89.96 72.0,89.84 72.5,89.97 73.0,90.33 73.5,90.32 74.0,90.37 74.5,90.32 75.0,90.89 75.5,91.20 76.0,91.15 76.5,91.48 77.0,91.40 77.5,91.79 78.0,92.00 78.5,91.95 79.0,91.94 79.5,92.32 80.0,92.53 80.5,92.80 81.0,92.46 81.5,93.22 82.0,93.19 82.5,93.16 83.0,93.13 83.5,93.32 84.0,93.63 84.5,93.73 85.0,93.81 85.5,93.58 86.0,93.98 86.5,94.25 87.0,94.41 87.5,94.52 88.0,94.85 88.5,95.22 89.0,94.92 89.5,95.53 90.0,95.25 90.5,95.36 91.0,95.45 91.5,95.87 92.0,95.92 92.5,96.10 93.0,95.76 93.5,95.69 94.0,96.29 94.5,96.00 95.0,95.45 95.5,95.71 96.0,95.89 96.5,96.09 97.0,96.09 97.5,95.45 98.0,95.66 98.5,95.37 99.0,95.22 99.5,95.07 100.0,94.79 100.5,94.71 101.0,94.58 101.5,94.50 102.0,93.93 102.5,94.20 103.0,93.61 103.5,93.55 104.0,92.91 104.5,92.53 105.0,92.50 105.5,91.80 106.0,90.62 106.5,90.28 107.0,89.16 107.5,88.78 108.0,87.97 108.5,86.81 109.0,85.69 109.5,84.69 110.0,83.58 110.5,82.23 111.0,81.58 111.5,81.28 112.0,82.11 112.5,84.25 113.0,86.43 113.5,87.80 114.0,88.57 114.5,89.39 115.0,90.27 115.5,91.36 116.0,91.88 116.5,92.09 117.0,92.68 117.5,93.26 118.0,93.30 118.5,93.58 119.0,93.70 119.5,93.72 120.0,94.41 120.5,94.58 121.0,94.81 121.5,95.11 122.0,95.06 122.5,95.19 123.0,95.53 123.5,95.40 124.0,95.43 124.5,95.89 125.0,95.99 125.5,96.10 126.0,96.49 126.5,96.83 127.0,96.80 127.5,96.76 128.0,97.03 128.5,97.38 129.0,97.71 129.5,97.95 130.0,98.24 130.5,98.71 131.0,98.34 131.5,98.89 132.0,98.84 132.5,99.07 133.0,99.15 133.5,99.57 134.0,99.69 134.5,99.98 135.0,100.25 135.5,99.79 136.0,100.14 136.5,100.42 137.0,100.54 137.5,100.56 138.0,100.43 138.5,101.02 139.0,100.58 139.5,101.00 140.0,100.83 140.5,100.93 141.0,101.21 141.5,100.96 142.0,101.32 142.5,101.25 143.0,101.09 143.5,101.32 144.0,101.43 144.5,101.55 145.0,101.67 145.5,101.25 146.0,101.38 146.5,101.42 147.0,101.32 147.5,101.97 148.0,101.55 148.5,101.60 149.0,101.60 149.5,101.53 150.0,101.87 150.5,101.73 151.0,101.58 151.5,101.65 152.0,101.77 152.5,101.73 153.0,101.82 153.5,101.87 154.0,101.52 154.5,101.41 155.0,101.47 155.5,101.55 156.0,101.38 156.5,101.50 157.0,101.15 157.5,101.29 158.0,101.27 158.5,100.95 159.0,101.13 159.5,101.18 160.0,100.21 160.5,100.51 161.0,100.50 161.5,100.56 162.0,100.12 162.5,100.21 163.0,100.30 163.5,99.96 164.0,99.66 164.5,99.50 165.0,99.49 165.5,99.35 166.0,99.16 166.5,98.89 167.0,98.26 167.5,98.10 168.0,97.75 168.5,97.34 169.0,96.88 169.5,96.08 170.0,95.68 170.5,95.13 171.0,94.17 171.5,93.31 172.0,92.02 172.5,90.84 173.0,89.93 173.5,88.23 174.0,86.39 174.5,84.96 175.0,85.73 175.5,87.58 176.0,89.90 176.5,91.14 177.0,92.76 177.5,93.54 178.0,94.63 178.5,95.51 179.0,96.73 179.5,97.07 180.0,98.29 180.5,98.83 181.0,99.48 181.5,99.87 182.0,99.88 182.5,100.06 183.0,100.21 183.5,100.76 184.0,101.11 184.5,101.23 185.0,101.29 185.5,101.61 186.0,101.41 186.5,102.04 187.0,102.22 187.5,102.30 188.0,102.34 188.5,102.65 189.0,102.18 189.5,102.36 190.0,102.66 190.5,102.75 191.0,102.78 191.5,103.02 192.0,102.95 192.5,103.39 193.0,103.18 193.5,102.81 194.0,103.24 194.5,103.25 195.0,103.18 195.5,103.68 196.0,103.38 196.5,103.16 197.0,103.29 197.5,103.57 198.0,103.10 198.5,103.30 199.0,102.93 199.5,103.00 200.0,102.72 200.5,102.55 201.0,101.32 201.5,101.65 202.0,100.73 202.5,101.69 203.0,101.93 203.5,101.71 204.0,101.52 204.5,100.66 205.0,102.33 205.5,101.20 206.0,101.42 206.5,101.31 207.0,100.99 207.5,100.81 208.0,101.56 208.5,100.94 209.0,101.19 209.5,101.24 210.0,101.37 210.5,100.98 211.0,100.84 211.5,101.13 212.0,100.91 212.5,101.21 213.0,100.69 213.5,101.92 214.0,102.84 214.5,101.78 215.0,100.55 215.5,100.93 216.0,100.97 216.5,100.89 217.0,100.65 217.5,100.74 218.0,100.96 218.5,101.47 219.0,101.40 219.5,103.41 220.0,103.05 220.5,101.03 221.0,101.37 221.5,101.12 222.0,101.01 222.5,100.95 223.0,101.16 223.5,100.71 224.0,100.94 224.5,100.57 225.0,101.02 225.5,100.92 226.0,100.71 226.5,100.26 227.0,100.57 227.5,101.02 228.0,100.25 228.5,100.39 229.0,99.60 229.5,99.65 230.0,99.78 230.5,99.87 231.0,99.64 231.5,98.99 232.0,100.40 232.5,97.71 233.0,97.70 233.5,98.07 234.0,97.69 234.5,97.39 235.0,96.14 235.5,96.83 236.0,94.99 236.5,94.62 237.0,96.00 237.5,93.61 238.0,92.92 238.5,92.65 239.0,92.02 239.5,92.18 240.0,93.44 240.5,94.40 241.0,96.25 241.5,97.26 242.0,98.50 242.5,98.55 243.0,99.16 243.5,100.11 244.0,99.67 244.5,101.19 245.0,101.11 245.5,101.10 246.0,101.23 246.5,101.62 247.0,101.65 247.5,101.26 248.0,101.64 248.5,101.34 249.0,101.44 249.5,101.57 250.0,103.41 250.5,101.50 251.0,101.60 251.5,101.55 252.0,101.62 252.5,102.24 253.0,102.24 253.5,101.56 254.0,101.84 254.5,102.16 255.0,102.52 255.5,101.91 256.0,103.87 256.5,102.05 257.0,102.17 257.5,101.94 258.0,102.11 258.5,102.06 259.0,102.07 259.5,102.22 260.0,101.76 260.5,102.53 261.0,102.23 261.5,102.26 262.0,103.64 262.5,101.58 263.0,102.16 263.5,102.04 264.0,101.43 264.5,102.52 265.0,102.61 265.5,102.04 266.0,102.27 266.5,102.56 267.0,104.06 267.5,101.20 268.0,102.44 268.5,101.48 269.0,101.89 269.5,102.50 270.0,101.76 270.5,101.54 271.0,101.96 271.5,101.90 272.0,100.66 272.5,102.44 273.0,103.46 273.5,101.95 274.0,102.68 274.5,102.05 275.0,102.44 275.5,103.16 276.0,101.86 276.5,102.21 277.0,102.17 277.5,102.31 278.0,101.85 278.5,103.94 279.0,102.32 279.5,101.84 280.0,102.32 280.5,102.16 281.0,102.61 281.5,102.69 282.0,102.28 282.5,101.83 283.0,102.17 283.5,101.90 284.0,101.92 284.5,102.55 285.0,102.32 285.5,102.05 286.0,101.81 286.5,102.19 287.0,102.52 287.5,102.28 288.0,102.16 288.5,102.15 289.0,102.48 289.5,102.32 290.0,102.10 290.5,101.39 291.0,102.23 291.5,102.06 292.0,103.60 292.5,102.32 293.0,103.47 293.5,102.04 294.0,101.97 294.5,101.48 295.0,101.84 295.5,101.92 296.0,102.19 296.5,101.99 297.0,101.78 297.5,101.97 298.0,101.06 298.5,101.33 299.0,100.73 299.5,100.54 300.0,101.79 300.5,99.75 301.0,101.01 301.5,99.00 302.0,98.91 302.5,97.85 303.0,98.24 303.5,97.89 304.0,97.38 304.5,100.54 305.0,99.13 305.5,98.41 306.0,99.79 306.5,99.72 307.0,99.96 307.5,100.30 308.0,100.60 308.5,101.18 309.0,101.38 309.5,101.14 310.0,101.40 310.5,101.51 311.0,101.98 311.5,102.04 312.0,102.14 312.5,101.67 313.0,102.08 313.5,101.81 314.0,101.68 314.5,104.28 315.0,101.88 315.5,102.13 316.0,102.11 316.5,101.96 317.0,102.12 317.5,102.04 318.0,101.93 318.5,101.70 319.0,102.23 319.5,102.20 320.0,102.23 320.5,101.62 321.0,101.62 321.5,103.63 322.0,102.16 322.5,102.91 323.0,102.23 323.5,101.59 324.0,102.06 324.5,103.70 325.0,101.64 325.5,101.56 326.0,102.05 326.5,101.69 327.0,101.87 327.5,102.12 328.0,100.95 328.5,102.13 329.0,101.57 329.5,102.24 330.0,101.55 330.5,101.48 331.0,101.96 331.5,102.24 332.0,101.29 332.5,102.12 333.0,102.17 333.5,104.02 334.0,101.40 334.5,102.50 335.0,101.95 335.5,101.14 336.0,102.13 336.5,102.32 337.0,101.40 337.5,101.44 338.0,101.99 338.5,101.57 339.0,101.98 339.5,101.64 340.0,101.62 340.5,101.73 341.0,101.96 341.5,101.94 342.0,101.74 342.5,102.17 343.0,102.22 343.5,101.99 344.0,101.33 344.5,101.55 345.0,103.08 345.5,101.89 346.0,102.14 346.5,101.55 347.0,102.11 347.5,101.37 348.0,101.82 348.5,102.93 349.0,101.64 349.5,102.09 350.0,101.60 350.5,101.74 351.0,102.24 351.5,102.62" fill="none" stroke="#111" stroke-width="1.35" stroke-linejoin="round"/>
<g stroke="#ff4040" stroke-width="0.65"><circle cx="55.0" cy="81.00" r="1.30" fill="#ffcdcd"/><circle cx="56.4" cy="81.01" r="1.30" fill="#ffcdcd"/><circle cx="57.8" cy="81.03" r="1.30" fill="#ffcdcd"/><circle cx="59.2" cy="81.08" r="1.30" fill="#ffcdcd"/><circle cx="60.4" cy="81.60" r="1.30" fill="#ffcdcd"/><circle cx="61.4" cy="82.60" r="1.30" fill="#ffcdcd"/><circle cx="62.3" cy="83.66" r="1.30" fill="#ffcdcd"/><circle cx="63.3" cy="84.71" r="1.30" fill="#ffcdcd"/><circle cx="64.3" cy="85.67" r="1.30" fill="#ffcdcd"/><circle cx="65.4" cy="86.55" r="1.30" fill="#ffcdcd"/><circle cx="66.5" cy="87.35" r="1.30" fill="#ffcdcd"/><circle cx="67.7" cy="88.06" r="1.30" fill="#ffcdcd"/><circle cx="69.0" cy="88.67" r="1.30" fill="#ffcdcd"/><circle cx="70.3" cy="89.20" r="1.30" fill="#ffcdcd"/><circle cx="71.6" cy="89.68" r="1.30" fill="#ffcdcd"/><circle cx="72.9" cy="90.14" r="1.30" fill="#ffcdcd"/><circle cx="74.2" cy="90.56" r="1.30" fill="#ffcdcd"/><circle cx="75.6" cy="90.98" r="1.30" fill="#ffcdcd"/><circle cx="76.9" cy="91.43" r="1.30" fill="#ffcdcd"/><circle cx="78.2" cy="91.91" r="1.30" fill="#ffcdcd"/><circle cx="79.5" cy="92.37" r="1.30" fill="#ffcdcd"/><circle cx="80.9" cy="92.77" r="1.30" fill="#ffcece"/><circle cx="82.3" cy="93.13" r="1.30" fill="#ffd0d0"/><circle cx="83.7" cy="93.47" r="1.30" fill="#ffd1d1"/><circle cx="85.1" cy="93.76" r="1.30" fill="#ffd3d3"/><circle cx="86.6" cy="94.03" r="1.30" fill="#ffd5d5"/><circle cx="88.1" cy="94.30" r="1.30" fill="#ffd6d6"/><circle cx="89.6" cy="94.48" r="1.30" fill="#ffd8d8"/><circle cx="91.2" cy="94.50" r="1.30" fill="#ffdada"/><circle cx="92.9" cy="94.50" r="1.30" fill="#ffdcdc"/><circle cx="94.5" cy="94.50" r="1.30" fill="#ffdede"/><circle cx="96.2" cy="94.46" r="1.30" fill="#ffe0e0"/><circle cx="97.9" cy="94.16" r="1.30" fill="#ffe2e2"/><circle cx="99.6" cy="93.71" r="1.30" fill="#ffe4e4"/><circle cx="101.3" cy="93.29" r="1.30" fill="#ffe4e4"/><circle cx="103.1" cy="92.84" r="1.30" fill="#ffe4e4"/><circle cx="104.7" cy="92.14" r="1.30" fill="#ffe4e4"/><circle cx="106.0" cy="90.86" r="1.30" fill="#ffe4e4"/><circle cx="107.0" cy="89.39" r="1.30" fill="#ffe4e4"/><circle cx="108.0" cy="87.85" r="1.30" fill="#ffe4e4"/><circle cx="108.8" cy="86.23" r="1.30" fill="#ffe4e4"/><circle cx="109.6" cy="84.60" r="1.30" fill="#ffe4e4"/><circle cx="110.3" cy="82.94" r="1.30" fill="#ffe4e4"/><circle cx="111.3" cy="81.30" r="1.30" fill="#ffe4e4"/><circle cx="112.1" cy="82.65" r="1.30" fill="#ffe4e4"/><circle cx="112.6" cy="84.39" r="1.30" fill="#ffe4e4"/><circle cx="113.0" cy="86.14" r="1.30" fill="#ffe4e4"/><circle cx="113.6" cy="87.85" r="1.30" fill="#ffe4e4"/><circle cx="114.5" cy="89.45" r="1.30" fill="#ffe4e4"/><circle cx="115.4" cy="90.98" r="1.30" fill="#ffe4e4"/><circle cx="116.6" cy="92.33" r="1.30" fill="#ffe4e4"/><circle cx="118.1" cy="93.34" r="1.30" fill="#ffe4e4"/><circle cx="119.7" cy="94.13" r="1.30" fill="#ffe4e4"/><circle cx="121.4" cy="94.84" r="1.30" fill="#ffe4e4"/><circle cx="123.1" cy="95.48" r="1.30" fill="#ffe4e4"/><circle cx="124.8" cy="96.05" r="1.30" fill="#ffe4e4"/><circle cx="126.6" cy="96.57" r="1.30" fill="#ffe4e4"/><circle cx="128.3" cy="97.05" r="1.30" fill="#ffe4e4"/><circle cx="130.1" cy="97.47" r="1.30" fill="#ffe4e4"/><circle cx="131.9" cy="97.84" r="1.30" fill="#ffe4e4"/><circle cx="133.7" cy="98.15" r="1.30" fill="#ffe4e4"/><circle cx="135.5" cy="98.46" r="1.30" fill="#ffe4e4"/><circle cx="137.3" cy="98.79" r="1.30" fill="#ffe4e4"/><circle cx="139.1" cy="99.13" r="1.31" fill="#ffe4e4"/><circle cx="140.9" cy="99.41" r="1.31" fill="#ffe4e4"/><circle cx="142.7" cy="99.63" r="1.31" fill="#ffe4e4"/><circle cx="144.5" cy="99.81" r="1.31" fill="#ffe4e4"/><circle cx="146.3" cy="99.93" r="1.31" fill="#ffe4e4"/><circle cx="148.1" cy="100.03" r="1.31" fill="#ffe4e4"/><circle cx="150.0" cy="100.09" r="1.31" fill="#ffe4e4"/><circle cx="151.8" cy="100.09" r="1.31" fill="#ffe4e4"/><circle cx="153.6" cy="100.02" r="1.31" fill="#ffe4e4"/><circle cx="155.5" cy="99.92" r="1.31" fill="#ffe4e4"/><circle cx="157.3" cy="99.72" r="1.31" fill="#ffe4e4"/><circle cx="159.1" cy="99.37" r="1.31" fill="#ffe4e4"/><circle cx="160.9" cy="98.96" r="1.31" fill="#ffe4e4"/><circle cx="162.7" cy="98.53" r="1.31" fill="#ffe4e4"/><circle cx="164.5" cy="98.02" r="1.31" fill="#ffe4e4"/><circle cx="166.2" cy="97.41" r="1.31" fill="#ffe4e4"/><circle cx="167.9" cy="96.61" r="1.31" fill="#ffe4e4"/><circle cx="169.3" cy="95.53" r="1.31" fill="#ffe4e4"/><circle cx="170.6" cy="94.21" r="1.31" fill="#ffe4e4"/><circle cx="171.7" cy="92.69" r="1.31" fill="#ffe4e4"/><circle cx="172.5" cy="91.03" r="1.31" fill="#ffe4e4"/><circle cx="173.2" cy="89.32" r="1.31" fill="#ffe4e4"/><circle cx="173.7" cy="87.53" r="1.31" fill="#ffe4e4"/><circle cx="174.5" cy="85.00" r="1.31" fill="#ffe4e4"/><circle cx="175.0" cy="85.88" r="1.31" fill="#ffe4e4"/><circle cx="175.5" cy="87.67" r="1.31" fill="#ffe4e4"/><circle cx="175.9" cy="89.47" r="1.31" fill="#ffe4e4"/><circle cx="176.4" cy="91.25" r="1.31" fill="#ffe4e4"/><circle cx="177.2" cy="92.91" r="1.31" fill="#ffe4e4"/><circle cx="178.2" cy="94.46" r="1.31" fill="#ffe4e4"/><circle cx="179.4" cy="95.92" r="1.31" fill="#ffe4e4"/><circle cx="180.6" cy="97.33" r="1.31" fill="#ffe4e4"/><circle cx="182.0" cy="98.55" r="1.31" fill="#ffe4e4"/><circle cx="183.6" cy="99.38" r="1.31" fill="#ffe4e4"/><circle cx="185.4" cy="99.99" r="1.31" fill="#ffe4e4"/><circle cx="187.1" cy="100.50" r="1.31" fill="#ffe4e4"/><circle cx="189.0" cy="100.94" r="1.31" fill="#ffe4e4"/><circle cx="190.8" cy="101.31" r="1.31" fill="#ffe4e4"/><circle cx="192.6" cy="101.62" r="1.31" fill="#ffe4e4"/><circle cx="194.4" cy="101.89" r="1.31" fill="#ffe4e4"/><circle cx="196.3" cy="102.11" r="1.31" fill="#ffe4e4"/><circle cx="198.2" cy="102.29" r="1.32" fill="#ffe4e4"/><circle cx="200.0" cy="102.44" r="1.32" fill="#ffe4e4"/><circle cx="201.9" cy="102.52" r="1.32" fill="#ffe4e4"/><circle cx="203.7" cy="102.57" r="1.32" fill="#ffe4e4"/><circle cx="205.6" cy="102.60" r="1.32" fill="#ffe4e4"/><circle cx="207.5" cy="102.59" r="1.32" fill="#ffe4e4"/><circle cx="209.4" cy="102.57" r="1.32" fill="#ffe4e4"/><circle cx="211.2" cy="102.53" r="1.32" fill="#ffe4e4"/><circle cx="213.1" cy="102.49" r="1.32" fill="#ffe4e4"/><circle cx="215.0" cy="102.44" r="1.32" fill="#ffe4e4"/><circle cx="216.9" cy="102.38" r="1.32" fill="#ffe4e4"/><circle cx="218.7" cy="102.33" r="1.32" fill="#ffe4e4"/><circle cx="220.6" cy="102.28" r="1.32" fill="#ffe4e4"/><circle cx="222.5" cy="102.21" r="1.32" fill="#ffe4e4"/><circle cx="224.4" cy="102.11" r="1.32" fill="#ffe4e4"/><circle cx="226.2" cy="101.98" r="1.32" fill="#ffe4e4"/><circle cx="228.1" cy="101.69" r="1.32" fill="#ffe4e4"/><circle cx="229.9" cy="101.13" r="1.32" fill="#ffe4e4"/><circle cx="231.6" cy="100.41" r="1.32" fill="#ffe4e4"/><circle cx="233.2" cy="99.32" r="1.32" fill="#ffe4e4"/><circle cx="234.6" cy="98.07" r="1.32" fill="#ffe4e4"/><circle cx="236.0" cy="96.78" r="1.32" fill="#ffe4e4"/><circle cx="237.2" cy="95.32" r="1.32" fill="#ffe4e4"/><circle cx="238.2" cy="93.71" r="1.32" fill="#ffe4e4"/><circle cx="239.3" cy="92.60" r="1.32" fill="#ffe4e4"/><circle cx="240.4" cy="94.39" r="1.32" fill="#ffe4e4"/><circle cx="241.1" cy="96.15" r="1.32" fill="#ffe4e4"/><circle cx="242.1" cy="97.76" r="1.32" fill="#ffe4e4"/><circle cx="243.3" cy="99.19" r="1.32" fill="#ffe4e4"/><circle cx="244.7" cy="100.50" r="1.32" fill="#ffe4e4"/><circle cx="246.2" cy="101.72" r="1.32" fill="#ffe4e4"/><circle cx="247.9" cy="102.50" r="1.32" fill="#ffe4e4"/><circle cx="249.7" cy="103.07" r="1.32" fill="#ffe4e4"/><circle cx="251.6" cy="103.45" r="1.32" fill="#ffe4e4"/><circle cx="253.4" cy="103.70" r="1.32" fill="#ffe4e4"/><circle cx="255.3" cy="103.88" r="1.33" fill="#ffe4e4"/><circle cx="257.2" cy="104.03" r="1.33" fill="#ffe4e4"/><circle cx="259.1" cy="104.16" r="1.33" fill="#ffe4e4"/><circle cx="261.0" cy="104.28" r="1.33" fill="#ffe4e4"/></g>
<polyline points="197.0,103.29 197.5,103.57 198.0,103.10 198.5,103.30 199.0,102.93 199.5,103.00 200.0,102.72 200.5,102.55 201.0,101.32 201.5,101.65 202.0,100.73 202.5,101.69 203.0,101.93 203.5,101.71 204.0,101.52 204.5,100.66 205.0,102.33 205.5,101.20 206.0,101.42 206.5,101.31 207.0,100.99 207.5,100.81 208.0,101.56 208.5,100.94 209.0,101.19 209.5,101.24 210.0,101.37 210.5,100.98 211.0,100.84 211.5,101.13 212.0,100.91 212.5,101.21 213.0,100.69 213.5,101.92 214.0,102.84 214.5,101.78 215.0,100.55 215.5,100.93 216.0,100.97 216.5,100.89 217.0,100.65 217.5,100.74 218.0,100.96 218.5,101.47 219.0,101.40 219.5,103.41 220.0,103.05 220.5,101.03 221.0,101.37 221.5,101.12 222.0,101.01 222.5,100.95 223.0,101.16 223.5,100.71 224.0,100.94 224.5,100.57 225.0,101.02 225.5,100.92 226.0,100.71 226.5,100.26 227.0,100.57 227.5,101.02 228.0,100.25 228.5,100.39 229.0,99.60 229.5,99.65 230.0,99.78 230.5,99.87 231.0,99.64 231.5,98.99 232.0,100.40 232.5,97.71 233.0,97.70 233.5,98.07 234.0,97.69" fill="none" stroke="#111" stroke-width="0.9" stroke-opacity="0.85"/>
<path d="M77.9,91.4 L79.1,89.1 L80.4,91.4 Z" fill="#111"/>
<polyline points="50.0,95.89 50.5,95.83 51.0,95.66 51.5,95.46 52.0,95.36 52.5,95.35 53.0,95.07 53.5,95.00" fill="none" stroke="#555" stroke-width="1.0"/>
<polyline points="54.0,94.95 54.5,94.89 55.0,94.92 55.5,95.08 56.0,95.04 56.5,95.04 57.0,95.06 57.5,94.98 58.0,95.01 58.5,95.06 59.0,95.15 59.5,95.06 60.0,94.97 60.5,95.47 61.0,96.41 61.5,96.63 62.0,97.00 62.5,97.89 63.0,98.55 63.5,98.78 64.0,99.28 64.5,99.66 65.0,99.95 65.5,100.55 66.0,101.10 66.5,101.41 67.0,101.61 67.5,101.66 68.0,102.20 68.5,102.61 69.0,102.85 69.5,102.77 70.0,102.91 70.5,103.43 71.0,103.47 71.5,103.88 72.0,103.97 72.5,104.18 73.0,104.16 73.5,104.10 74.0,104.55 74.5,104.58 75.0,104.90 75.5,104.91 76.0,105.21 76.5,105.16 77.0,105.46 77.5,105.80 78.0,106.06 78.5,105.77 79.0,106.22 79.5,106.39 80.0,106.54 80.5,106.65 81.0,106.82 81.5,106.85 82.0,107.15 82.5,107.44 83.0,107.01 83.5,107.67 84.0,107.30 84.5,107.57 85.0,107.57 85.5,107.96 86.0,107.99 86.5,108.33 87.0,108.07 87.5,108.60 88.0,108.95 88.5,108.97 89.0,108.95 89.5,109.29 90.0,109.69 90.5,109.68 91.0,109.83 91.5,109.55 92.0,109.81 92.5,109.80 93.0,109.87 93.5,109.73 94.0,109.78 94.5,110.14 95.0,109.68 95.5,110.02 96.0,109.85 96.5,109.73 97.0,109.89 97.5,109.70 98.0,109.79 98.5,109.80 99.0,109.42 99.5,109.10 100.0,108.92 100.5,108.61 101.0,108.69 101.5,108.34 102.0,108.61 102.5,107.88 103.0,107.62 103.5,107.28 104.0,107.13 104.5,106.71 105.0,106.07 105.5,106.02 106.0,105.21 106.5,104.64 107.0,103.72 107.5,102.85 108.0,102.19 108.5,101.02 109.0,100.17 109.5,98.93 110.0,97.90 110.5,96.30 111.0,95.56 111.5,95.38 112.0,96.15 112.5,97.77 113.0,99.92 113.5,101.56 114.0,102.17 114.5,103.34 115.0,104.28 115.5,105.33 116.0,105.67 116.5,106.06 117.0,106.54 117.5,107.13 118.0,106.78 118.5,107.67 119.0,107.95 119.5,107.94 120.0,108.40 120.5,108.28 121.0,108.43 121.5,108.54 122.0,108.99 122.5,109.29 123.0,109.43 123.5,109.33 124.0,109.75 124.5,110.01 125.0,110.14 125.5,110.48 126.0,110.22 126.5,110.70 127.0,110.82 127.5,111.08 128.0,111.18 128.5,111.50 129.0,111.45 129.5,111.79 130.0,112.26 130.5,112.18 131.0,112.41 131.5,112.71 132.0,112.92 132.5,113.21 133.0,113.02 133.5,113.28 134.0,113.26 134.5,113.73 135.0,113.83 135.5,114.01 136.0,113.93 136.5,114.34 137.0,114.10 137.5,114.18 138.0,114.41 138.5,114.44 139.0,114.79 139.5,114.80 140.0,114.73 140.5,115.12 141.0,115.12 141.5,115.02 142.0,114.99 142.5,115.00 143.0,115.29 143.5,115.29 144.0,115.40 144.5,115.45 145.0,115.48 145.5,115.34 146.0,115.56 146.5,115.52 147.0,115.16 147.5,115.49 148.0,115.80 148.5,115.69 149.0,115.57 149.5,115.57 150.0,115.75 150.5,115.62 151.0,115.42 151.5,115.45 152.0,116.09 152.5,115.61 153.0,115.65 153.5,115.66 154.0,115.66 154.5,115.70 155.0,115.56 155.5,115.45 156.0,115.45 156.5,115.43 157.0,115.67 157.5,115.61 158.0,115.35 158.5,115.43 159.0,114.93 159.5,114.76 160.0,114.39 160.5,114.82 161.0,114.63 161.5,114.22 162.0,114.41 162.5,114.14 163.0,114.10 163.5,114.10 164.0,113.89 164.5,113.61 165.0,113.38 165.5,113.45 166.0,112.89 166.5,112.95 167.0,112.83 167.5,112.56 168.0,111.60 168.5,111.48 169.0,110.81 169.5,110.23 170.0,109.79 170.5,108.96 171.0,107.68 171.5,107.39 172.0,106.03 172.5,105.19 173.0,103.80 173.5,102.31 174.0,100.39 174.5,98.78 175.0,98.56 175.5,100.58 176.0,102.41 176.5,104.56 177.0,106.06 177.5,106.77 178.0,107.98 178.5,109.05 179.0,110.02 179.5,110.94 180.0,111.67 180.5,112.40 181.0,112.98 181.5,113.35 182.0,113.53 182.5,114.22 183.0,114.44 183.5,115.14 184.0,114.81 184.5,114.87 185.0,115.15 185.5,115.33 186.0,115.67 186.5,115.65 187.0,115.97 187.5,115.91 188.0,116.05 188.5,116.30 189.0,116.40 189.5,116.25 190.0,116.68 190.5,116.67 191.0,117.14 191.5,116.85 192.0,117.03 192.5,116.89 193.0,117.23 193.5,117.12 194.0,117.32 194.5,117.51 195.0,117.19 195.5,117.12 196.0,117.49 196.5,117.59 197.0,117.53 197.5,117.53 198.0,117.09 198.5,116.97 199.0,116.71 199.5,116.82 200.0,116.92 200.5,116.42 201.0,116.57 201.5,116.01 202.0,115.88 202.5,116.26 203.0,116.09 203.5,115.61 204.0,115.13 204.5,115.35 205.0,117.11 205.5,115.44 206.0,115.17 206.5,115.01 207.0,115.26 207.5,116.01 208.0,115.43 208.5,115.44 209.0,114.93 209.5,115.45 210.0,114.79 210.5,115.07 211.0,115.30 211.5,115.85 212.0,115.00 212.5,115.99 213.0,115.10 213.5,114.61 214.0,115.34 214.5,115.85 215.0,115.36 215.5,114.88 216.0,115.07 216.5,115.24 217.0,114.78 217.5,115.11 218.0,114.86 218.5,115.03 219.0,114.89 219.5,115.02 220.0,115.10 220.5,114.76 221.0,115.41 221.5,114.62 222.0,115.06 222.5,115.47 223.0,115.30 223.5,114.80 224.0,114.97 224.5,114.52 225.0,114.87 225.5,114.43 226.0,115.02 226.5,114.73 227.0,114.38 227.5,114.72 228.0,114.22 228.5,114.33 229.0,113.88 229.5,113.77 230.0,114.02 230.5,114.12 231.0,113.83 231.5,113.41 232.0,112.90 232.5,112.76 233.0,112.08 233.5,110.50 234.0,109.97 234.5,110.96 235.0,110.28 235.5,109.26 236.0,109.20 236.5,108.89 237.0,108.08 237.5,107.04 238.0,106.42 238.5,105.62 239.0,105.20 239.5,104.67 240.0,104.85 240.5,106.85 241.0,107.87 241.5,110.29 242.0,111.45 242.5,111.47 243.0,112.56 243.5,113.38 244.0,115.78 244.5,114.57 245.0,115.15 245.5,114.89 246.0,115.24 246.5,115.01 247.0,115.03 247.5,115.10 248.0,115.92 248.5,115.43 249.0,116.02 249.5,115.21 250.0,115.27 250.5,115.62 251.0,115.92 251.5,115.39 252.0,115.55 252.5,115.53 253.0,116.32 253.5,115.94 254.0,115.99 254.5,115.68 255.0,115.88 255.5,115.73 256.0,116.66 256.5,115.97 257.0,116.08 257.5,115.70 258.0,115.41 258.5,115.71 259.0,115.59 259.5,116.48 260.0,116.07 260.5,115.80 261.0,119.10 261.5,116.04 262.0,116.70 262.5,116.11 263.0,116.19 263.5,116.36 264.0,116.65 264.5,116.16 265.0,116.63 265.5,115.89 266.0,116.78 266.5,116.23 267.0,116.14 267.5,116.03 268.0,118.52 268.5,116.24 269.0,116.11 269.5,115.62 270.0,117.86 270.5,117.47 271.0,115.74 271.5,115.70 272.0,116.21 272.5,116.50 273.0,115.91 273.5,116.47 274.0,116.28 274.5,116.02 275.0,115.73 275.5,116.02 276.0,116.21 276.5,115.78 277.0,115.87 277.5,116.28 278.0,116.03 278.5,116.56 279.0,115.75 279.5,117.25 280.0,115.93 280.5,116.27 281.0,115.98 281.5,116.48 282.0,116.75 282.5,114.92 283.0,118.48 283.5,116.03 284.0,116.52 284.5,115.94 285.0,116.14 285.5,117.93 286.0,115.86 286.5,116.36 287.0,116.08 287.5,116.23 288.0,116.87 288.5,115.74 289.0,116.29 289.5,116.13 290.0,118.39 290.5,115.94 291.0,116.20 291.5,115.90 292.0,116.06 292.5,116.47 293.0,115.87 293.5,116.10 294.0,115.83 294.5,116.03 295.0,118.10 295.5,116.14 296.0,115.70 296.5,115.75 297.0,116.30 297.5,115.84 298.0,116.27 298.5,115.63 299.0,115.06 299.5,116.19 300.0,114.41 300.5,113.79 301.0,113.05 301.5,112.56 302.0,113.21 302.5,112.13 303.0,112.31 303.5,114.54 304.0,112.44 304.5,110.50 305.0,112.15 305.5,112.52 306.0,113.40 306.5,113.34 307.0,113.37 307.5,114.21 308.0,114.55 308.5,114.62 309.0,116.70 309.5,115.17 310.0,115.01 310.5,115.43 311.0,115.75 311.5,115.89 312.0,115.87 312.5,115.96 313.0,116.18 313.5,117.23 314.0,115.24 314.5,115.74 315.0,115.98 315.5,116.28 316.0,115.81 316.5,115.78 317.0,116.86 317.5,115.63 318.0,116.13 318.5,115.75 319.0,115.98 319.5,116.02 320.0,116.04 320.5,116.24 321.0,115.84 321.5,115.67 322.0,115.90 322.5,116.53 323.0,116.21 323.5,115.60 324.0,115.51 324.5,115.82 325.0,115.45 325.5,115.48 326.0,116.20 326.5,115.14 327.0,116.14 327.5,116.34 328.0,115.25 328.5,115.90 329.0,115.66 329.5,116.15 330.0,115.54 330.5,115.96 331.0,116.09 331.5,116.12 332.0,115.11 332.5,116.27 333.0,115.86 333.5,115.36 334.0,115.94 334.5,116.26 335.0,116.16 335.5,115.21 336.0,115.52 336.5,115.99 337.0,115.96 337.5,115.82 338.0,115.83 338.5,115.55 339.0,115.94 339.5,116.31 340.0,115.80 340.5,115.27 341.0,115.56 341.5,115.92 342.0,118.12 342.5,115.53 343.0,115.50 343.5,117.72 344.0,115.84 344.5,115.80 345.0,115.74 345.5,115.74 346.0,115.53 346.5,115.17 347.0,115.36 347.5,115.62 348.0,115.96 348.5,115.46 349.0,116.34 349.5,115.68 350.0,115.48 350.5,115.94 351.0,116.08 351.5,117.86" fill="none" stroke="#111" stroke-width="1.35" stroke-linejoin="round"/>
<path d="M267.4,116.1 V123.4" stroke="#222" stroke-width="0.9"/>
<path d="M278.4,116.5 V123.4" stroke="#222" stroke-width="0.9"/>
<g stroke="#ff4040" stroke-width="0.65"><circle cx="55.0" cy="95.00" r="1.30" fill="#ffcdcd"/><circle cx="56.4" cy="95.01" r="1.30" fill="#ffcdcd"/><circle cx="57.8" cy="95.03" r="1.30" fill="#ffcdcd"/><circle cx="59.2" cy="95.08" r="1.30" fill="#ffcdcd"/><circle cx="60.4" cy="95.58" r="1.30" fill="#ffcdcd"/><circle cx="61.4" cy="96.58" r="1.30" fill="#ffcdcd"/><circle cx="62.3" cy="97.64" r="1.30" fill="#ffcdcd"/><circle cx="63.3" cy="98.69" r="1.30" fill="#ffcdcd"/><circle cx="64.3" cy="99.65" r="1.30" fill="#ffcdcd"/><circle cx="65.4" cy="100.53" r="1.30" fill="#ffcdcd"/><circle cx="66.5" cy="101.33" r="1.30" fill="#ffcdcd"/><circle cx="67.7" cy="102.04" r="1.30" fill="#ffcdcd"/><circle cx="69.0" cy="102.65" r="1.30" fill="#ffcdcd"/><circle cx="70.3" cy="103.18" r="1.30" fill="#ffcdcd"/><circle cx="71.6" cy="103.66" r="1.30" fill="#ffcdcd"/><circle cx="72.9" cy="104.13" r="1.30" fill="#ffcdcd"/><circle cx="74.3" cy="104.55" r="1.30" fill="#ffcdcd"/><circle cx="75.6" cy="104.97" r="1.30" fill="#ffcdcd"/><circle cx="76.9" cy="105.41" r="1.30" fill="#ffcdcd"/><circle cx="78.2" cy="105.89" r="1.30" fill="#ffcdcd"/><circle cx="79.5" cy="106.36" r="1.30" fill="#ffcdcd"/><circle cx="80.9" cy="106.76" r="1.30" fill="#ffcece"/><circle cx="82.3" cy="107.12" r="1.30" fill="#ffd0d0"/><circle cx="83.7" cy="107.46" r="1.30" fill="#ffd1d1"/><circle cx="85.1" cy="107.75" r="1.30" fill="#ffd3d3"/><circle cx="86.6" cy="108.02" r="1.30" fill="#ffd5d5"/><circle cx="88.1" cy="108.29" r="1.30" fill="#ffd6d6"/><circle cx="89.6" cy="108.47" r="1.30" fill="#ffd8d8"/><circle cx="91.2" cy="108.50" r="1.30" fill="#ffdada"/><circle cx="92.9" cy="108.50" r="1.30" fill="#ffdcdc"/><circle cx="94.5" cy="108.50" r="1.30" fill="#ffdede"/><circle cx="96.2" cy="108.46" r="1.30" fill="#ffe0e0"/><circle cx="97.9" cy="108.17" r="1.30" fill="#ffe2e2"/><circle cx="99.6" cy="107.73" r="1.30" fill="#ffe4e4"/><circle cx="101.4" cy="107.31" r="1.30" fill="#ffe4e4"/><circle cx="103.1" cy="106.87" r="1.30" fill="#ffe4e4"/><circle cx="104.8" cy="106.19" r="1.30" fill="#ffe4e4"/><circle cx="106.0" cy="104.93" r="1.30" fill="#ffe4e4"/><circle cx="107.1" cy="103.46" r="1.30" fill="#ffe4e4"/><circle cx="108.0" cy="101.93" r="1.30" fill="#ffe4e4"/><circle cx="108.8" cy="100.31" r="1.30" fill="#ffe4e4"/><circle cx="109.6" cy="98.69" r="1.30" fill="#ffe4e4"/><circle cx="110.3" cy="97.02" r="1.30" fill="#ffe4e4"/><circle cx="111.4" cy="95.30" r="1.30" fill="#ffe4e4"/><circle cx="112.2" cy="96.56" r="1.30" fill="#ffe4e4"/><circle cx="112.6" cy="98.30" r="1.30" fill="#ffe4e4"/><circle cx="113.1" cy="100.05" r="1.30" fill="#ffe4e4"/><circle cx="113.7" cy="101.76" r="1.30" fill="#ffe4e4"/><circle cx="114.5" cy="103.36" r="1.30" fill="#ffe4e4"/><circle cx="115.5" cy="104.91" r="1.30" fill="#ffe4e4"/><circle cx="116.6" cy="106.27" r="1.30" fill="#ffe4e4"/><circle cx="118.1" cy="107.29" r="1.30" fill="#ffe4e4"/><circle cx="119.8" cy="108.09" r="1.30" fill="#ffe4e4"/><circle cx="121.4" cy="108.80" r="1.30" fill="#ffe4e4"/><circle cx="123.1" cy="109.44" r="1.30" fill="#ffe4e4"/><circle cx="124.9" cy="110.02" r="1.30" fill="#ffe4e4"/><circle cx="126.6" cy="110.54" r="1.30" fill="#ffe4e4"/><circle cx="128.3" cy="111.02" r="1.30" fill="#ffe4e4"/><circle cx="130.1" cy="111.45" r="1.30" fill="#ffe4e4"/><circle cx="131.9" cy="111.81" r="1.30" fill="#ffe4e4"/><circle cx="133.7" cy="112.13" r="1.30" fill="#ffe4e4"/><circle cx="135.5" cy="112.43" r="1.30" fill="#ffe4e4"/><circle cx="137.3" cy="112.77" r="1.30" fill="#ffe4e4"/><circle cx="139.1" cy="113.11" r="1.31" fill="#ffe4e4"/><circle cx="140.9" cy="113.40" r="1.31" fill="#ffe4e4"/><circle cx="142.7" cy="113.61" r="1.31" fill="#ffe4e4"/><circle cx="144.5" cy="113.80" r="1.31" fill="#ffe4e4"/><circle cx="146.3" cy="113.92" r="1.31" fill="#ffe4e4"/><circle cx="148.2" cy="114.02" r="1.31" fill="#ffe4e4"/><circle cx="150.0" cy="114.09" r="1.31" fill="#ffe4e4"/><circle cx="151.8" cy="114.09" r="1.31" fill="#ffe4e4"/><circle cx="153.7" cy="114.03" r="1.31" fill="#ffe4e4"/><circle cx="155.5" cy="113.92" r="1.31" fill="#ffe4e4"/><circle cx="157.3" cy="113.74" r="1.31" fill="#ffe4e4"/><circle cx="159.1" cy="113.39" r="1.31" fill="#ffe4e4"/><circle cx="160.9" cy="112.98" r="1.31" fill="#ffe4e4"/><circle cx="162.7" cy="112.55" r="1.31" fill="#ffe4e4"/><circle cx="164.5" cy="112.03" r="1.31" fill="#ffe4e4"/><circle cx="166.2" cy="111.41" r="1.31" fill="#ffe4e4"/><circle cx="167.9" cy="110.62" r="1.31" fill="#ffe4e4"/><circle cx="169.4" cy="109.54" r="1.31" fill="#ffe4e4"/><circle cx="170.6" cy="108.21" r="1.31" fill="#ffe4e4"/><circle cx="171.7" cy="106.70" r="1.31" fill="#ffe4e4"/><circle cx="172.5" cy="105.05" r="1.31" fill="#ffe4e4"/><circle cx="173.2" cy="103.34" r="1.31" fill="#ffe4e4"/><circle cx="173.7" cy="101.56" r="1.31" fill="#ffe4e4"/><circle cx="174.2" cy="99.76" r="1.31" fill="#ffe4e4"/><circle cx="174.7" cy="98.30" r="1.31" fill="#ffe4e4"/><circle cx="175.5" cy="100.28" r="1.31" fill="#ffe4e4"/><circle cx="175.9" cy="102.08" r="1.31" fill="#ffe4e4"/><circle cx="176.3" cy="103.88" r="1.31" fill="#ffe4e4"/><circle cx="176.9" cy="105.63" r="1.31" fill="#ffe4e4"/><circle cx="177.8" cy="107.26" r="1.31" fill="#ffe4e4"/><circle cx="178.8" cy="108.80" r="1.31" fill="#ffe4e4"/><circle cx="180.0" cy="110.26" r="1.31" fill="#ffe4e4"/><circle cx="181.2" cy="111.65" r="1.31" fill="#ffe4e4"/><circle cx="182.7" cy="112.76" r="1.31" fill="#ffe4e4"/><circle cx="184.4" cy="113.54" r="1.31" fill="#ffe4e4"/><circle cx="186.1" cy="114.12" r="1.31" fill="#ffe4e4"/><circle cx="187.9" cy="114.62" r="1.31" fill="#ffe4e4"/><circle cx="189.7" cy="115.05" r="1.31" fill="#ffe4e4"/><circle cx="191.5" cy="115.40" r="1.31" fill="#ffe4e4"/><circle cx="193.4" cy="115.70" r="1.31" fill="#ffe4e4"/><circle cx="195.2" cy="115.96" r="1.31" fill="#ffe4e4"/><circle cx="197.1" cy="116.16" r="1.32" fill="#ffe4e4"/><circle cx="198.9" cy="116.34" r="1.32" fill="#ffe4e4"/><circle cx="200.8" cy="116.47" r="1.32" fill="#ffe4e4"/><circle cx="202.7" cy="116.53" r="1.32" fill="#ffe4e4"/><circle cx="204.5" cy="116.58" r="1.32" fill="#ffe4e4"/><circle cx="206.4" cy="116.60" r="1.32" fill="#ffe4e4"/><circle cx="208.3" cy="116.59" r="1.32" fill="#ffe4e4"/><circle cx="210.1" cy="116.56" r="1.32" fill="#ffe4e4"/><circle cx="212.0" cy="116.52" r="1.32" fill="#ffe4e4"/><circle cx="213.9" cy="116.47" r="1.32" fill="#ffe4e4"/><circle cx="215.8" cy="116.42" r="1.32" fill="#ffe4e4"/><circle cx="217.6" cy="116.36" r="1.32" fill="#ffe4e4"/><circle cx="219.5" cy="116.31" r="1.32" fill="#ffe4e4"/><circle cx="221.4" cy="116.25" r="1.32" fill="#ffe4e4"/><circle cx="223.3" cy="116.16" r="1.32" fill="#ffe4e4"/><circle cx="225.2" cy="116.04" r="1.32" fill="#ffe4e4"/><circle cx="227.0" cy="115.87" r="1.32" fill="#ffe4e4"/><circle cx="228.9" cy="115.46" r="1.32" fill="#ffe4e4"/><circle cx="230.6" cy="114.80" r="1.32" fill="#ffe4e4"/><circle cx="232.3" cy="113.94" r="1.32" fill="#ffe4e4"/><circle cx="233.7" cy="112.72" r="1.32" fill="#ffe4e4"/><circle cx="235.1" cy="111.39" r="1.32" fill="#ffe4e4"/><circle cx="236.4" cy="109.99" r="1.32" fill="#ffe4e4"/><circle cx="237.4" cy="108.44" r="1.32" fill="#ffe4e4"/><circle cx="238.3" cy="106.78" r="1.32" fill="#ffe4e4"/><circle cx="239.7" cy="105.00" r="1.32" fill="#ffe4e4"/><circle cx="240.4" cy="106.33" r="1.32" fill="#ffe4e4"/><circle cx="241.1" cy="108.11" r="1.32" fill="#ffe4e4"/><circle cx="241.7" cy="109.88" r="1.32" fill="#ffe4e4"/><circle cx="242.8" cy="111.47" r="1.32" fill="#ffe4e4"/><circle cx="244.0" cy="112.94" r="1.32" fill="#ffe4e4"/><circle cx="245.3" cy="114.31" r="1.32" fill="#ffe4e4"/><circle cx="246.7" cy="115.56" r="1.32" fill="#ffe4e4"/><circle cx="248.4" cy="116.39" r="1.32" fill="#ffe4e4"/><circle cx="250.2" cy="116.99" r="1.32" fill="#ffe4e4"/><circle cx="252.0" cy="117.40" r="1.32" fill="#ffe4e4"/><circle cx="253.9" cy="117.67" r="1.32" fill="#ffe4e4"/><circle cx="255.8" cy="117.87" r="1.33" fill="#ffe4e4"/><circle cx="257.7" cy="118.02" r="1.33" fill="#ffe4e4"/><circle cx="259.6" cy="118.16" r="1.33" fill="#ffe4e4"/><circle cx="261.5" cy="118.28" r="1.33" fill="#ffe4e4"/></g>
<polyline points="197.0,117.53 197.5,117.53 198.0,117.09 198.5,116.97 199.0,116.71 199.5,116.82 200.0,116.92 200.5,116.42 201.0,116.57 201.5,116.01 202.0,115.88 202.5,116.26 203.0,116.09 203.5,115.61 204.0,115.13 204.5,115.35 205.0,117.11 205.5,115.44 206.0,115.17 206.5,115.01 207.0,115.26 207.5,116.01 208.0,115.43 208.5,115.44 209.0,114.93 209.5,115.45 210.0,114.79 210.5,115.07 211.0,115.30 211.5,115.85 212.0,115.00 212.5,115.99 213.0,115.10 213.5,114.61 214.0,115.34 214.5,115.85 215.0,115.36 215.5,114.88 216.0,115.07 216.5,115.24 217.0,114.78 217.5,115.11 218.0,114.86 218.5,115.03 219.0,114.89 219.5,115.02 220.0,115.10 220.5,114.76 221.0,115.41 221.5,114.62 222.0,115.06 222.5,115.47 223.0,115.30 223.5,114.80 224.0,114.97 224.5,114.52 225.0,114.87 225.5,114.43 226.0,115.02 226.5,114.73 227.0,114.38 227.5,114.72 228.0,114.22 228.5,114.33 229.0,113.88 229.5,113.77 230.0,114.02 230.5,114.12 231.0,113.83 231.5,113.41 232.0,112.90 232.5,112.76 233.0,112.08 233.5,110.50 234.0,109.97" fill="none" stroke="#111" stroke-width="0.9" stroke-opacity="0.85"/>
<path d="M77.9,105.4 L79.1,103.1 L80.4,105.4 Z" fill="#111"/>
<rect x="42.4" y="0.9" width="401.90000000000003" height="122.5" fill="none" stroke="#b0b0b0" stroke-width="1.1"/>
<path d="M45.0,123.4 v-4.0 M45.0,0.9 v4.0 M71.7,123.4 v-2.5 M71.7,0.9 v2.5 M98.3,123.4 v-4.0 M98.3,0.9 v4.0 M124.9,123.4 v-2.5 M124.9,0.9 v2.5 M151.6,123.4 v-4.0 M151.6,0.9 v4.0 M178.2,123.4 v-2.5 M178.2,0.9 v2.5 M204.9,123.4 v-4.0 M204.9,0.9 v4.0 M231.5,123.4 v-2.5 M231.5,0.9 v2.5 M258.2,123.4 v-4.0 M258.2,0.9 v4.0 M284.9,123.4 v-2.5 M284.9,0.9 v2.5 M311.5,123.4 v-4.0 M311.5,0.9 v4.0 M338.1,123.4 v-2.5 M338.1,0.9 v2.5 M364.8,123.4 v-4.0 M364.8,0.9 v4.0 M391.4,123.4 v-2.5 M391.4,0.9 v2.5 M418.1,123.4 v-4.0 M418.1,0.9 v4.0" stroke="#777" stroke-width="0.9" fill="none"/>
<path d="M42.4,118.96 H45.10 L43.50,122.20 H42.4 Z M444.3,118.96 H441.60 L443.20,122.20 H444.3 Z M42.4,114.43 H45.10 L43.50,117.66 H42.4 Z M444.3,114.43 H441.60 L443.20,117.66 H444.3 Z M42.4,109.89 H45.10 L43.50,113.13 H42.4 Z M444.3,109.89 H441.60 L443.20,113.13 H444.3 Z M42.4,105.36 H45.10 L43.50,108.59 H42.4 Z M444.3,105.36 H441.60 L443.20,108.59 H444.3 Z M42.4,100.82 H45.10 L43.50,104.06 H42.4 Z M444.3,100.82 H441.60 L443.20,104.06 H444.3 Z M42.4,96.28 H45.10 L43.50,99.52 H42.4 Z M444.3,96.28 H441.60 L443.20,99.52 H444.3 Z M42.4,91.75 H45.10 L43.50,94.98 H42.4 Z M444.3,91.75 H441.60 L443.20,94.98 H444.3 Z M42.4,87.21 H45.10 L43.50,90.45 H42.4 Z M444.3,87.21 H441.60 L443.20,90.45 H444.3 Z M42.4,82.68 H45.10 L43.50,85.91 H42.4 Z M444.3,82.68 H441.60 L443.20,85.91 H444.3 Z M42.4,78.14 H45.10 L43.50,81.38 H42.4 Z M444.3,78.14 H441.60 L443.20,81.38 H444.3 Z M42.4,73.60 H45.10 L43.50,76.84 H42.4 Z M444.3,73.60 H441.60 L443.20,76.84 H444.3 Z M42.4,69.07 H45.10 L43.50,72.30 H42.4 Z M444.3,69.07 H441.60 L443.20,72.30 H444.3 Z M42.4,64.53 H45.10 L43.50,67.77 H42.4 Z M444.3,64.53 H441.60 L443.20,67.77 H444.3 Z M42.4,60.00 H45.10 L43.50,63.23 H42.4 Z M444.3,60.00 H441.60 L443.20,63.23 H444.3 Z M42.4,55.46 H45.10 L43.50,58.70 H42.4 Z M444.3,55.46 H441.60 L443.20,58.70 H444.3 Z M42.4,50.92 H45.10 L43.50,54.16 H42.4 Z M444.3,50.92 H441.60 L443.20,54.16 H444.3 Z M42.4,46.39 H45.10 L43.50,49.62 H42.4 Z M444.3,46.39 H441.60 L443.20,49.62 H444.3 Z M42.4,41.85 H45.10 L43.50,45.09 H42.4 Z M444.3,41.85 H441.60 L443.20,45.09 H444.3 Z M42.4,37.32 H45.10 L43.50,40.55 H42.4 Z M444.3,37.32 H441.60 L443.20,40.55 H444.3 Z M42.4,32.78 H45.10 L43.50,36.02 H42.4 Z M444.3,32.78 H441.60 L443.20,36.02 H444.3 Z M42.4,28.24 H45.10 L43.50,31.48 H42.4 Z M444.3,28.24 H441.60 L443.20,31.48 H444.3 Z M42.4,23.71 H45.10 L43.50,26.94 H42.4 Z M444.3,23.71 H441.60 L443.20,26.94 H444.3 Z M42.4,19.17 H45.10 L43.50,22.41 H42.4 Z M444.3,19.17 H441.60 L443.20,22.41 H444.3 Z M42.4,14.64 H45.10 L43.50,17.87 H42.4 Z M444.3,14.64 H441.60 L443.20,17.87 H444.3 Z M42.4,10.10 H45.10 L43.50,13.34 H42.4 Z M444.3,10.10 H441.60 L443.20,13.34 H444.3 Z M42.4,5.56 H45.10 L43.50,8.80 H42.4 Z M444.3,5.56 H441.60 L443.20,8.80 H444.3 Z M42.4,1.03 H45.10 L43.50,4.26 H42.4 Z M444.3,1.03 H441.60 L443.20,4.26 H444.3 Z" fill="#1a1a1a"/>
<path d="M42.4,123.40 h4.5 M444.3,123.40 h-4.5 M42.4,118.86 h4.5 M444.3,118.86 h-4.5 M42.4,114.33 h4.5 M444.3,114.33 h-4.5 M42.4,109.79 h4.5 M444.3,109.79 h-4.5 M42.4,105.26 h4.5 M444.3,105.26 h-4.5 M42.4,100.72 h4.5 M444.3,100.72 h-4.5 M42.4,96.18 h4.5 M444.3,96.18 h-4.5 M42.4,91.65 h4.5 M444.3,91.65 h-4.5 M42.4,87.11 h4.5 M444.3,87.11 h-4.5 M42.4,82.58 h4.5 M444.3,82.58 h-4.5 M42.4,78.04 h4.5 M444.3,78.04 h-4.5 M42.4,73.50 h4.5 M444.3,73.50 h-4.5 M42.4,68.97 h4.5 M444.3,68.97 h-4.5 M42.4,64.43 h4.5 M444.3,64.43 h-4.5 M42.4,59.90 h4.5 M444.3,59.90 h-4.5 M42.4,55.36 h4.5 M444.3,55.36 h-4.5 M42.4,50.82 h4.5 M444.3,50.82 h-4.5 M42.4,46.29 h4.5 M444.3,46.29 h-4.5 M42.4,41.75 h4.5 M444.3,41.75 h-4.5 M42.4,37.22 h4.5 M444.3,37.22 h-4.5 M42.4,32.68 h4.5 M444.3,32.68 h-4.5 M42.4,28.14 h4.5 M444.3,28.14 h-4.5 M42.4,23.61 h4.5 M444.3,23.61 h-4.5 M42.4,19.07 h4.5 M444.3,19.07 h-4.5 M42.4,14.54 h4.5 M444.3,14.54 h-4.5 M42.4,10.00 h4.5 M444.3,10.00 h-4.5 M42.4,5.46 h4.5 M444.3,5.46 h-4.5 M42.4,0.93 h4.5 M444.3,0.93 h-4.5" stroke="#444" stroke-width="0.5" fill="none"/>
<text x="37.2" y="12.9" text-anchor="end" font-family="Liberation Sans" font-size="9.8">10<tspan dy="-4.1" font-size="6.1">24</tspan></text>
<text x="37.2" y="35.6" text-anchor="end" font-family="Liberation Sans" font-size="9.8">10<tspan dy="-4.1" font-size="6.1">19</tspan></text>
<text x="37.2" y="58.3" text-anchor="end" font-family="Liberation Sans" font-size="9.8">10<tspan dy="-4.1" font-size="6.1">14</tspan></text>
<text x="37.2" y="81.0" text-anchor="end" font-family="Liberation Sans" font-size="9.8">10<tspan dy="-4.1" font-size="6.1">9</tspan></text>
<text x="37.2" y="103.7" text-anchor="end" font-family="Liberation Sans" font-size="9.8">10<tspan dy="-4.1" font-size="6.1">4</tspan></text>
<text x="37.2" y="126.3" text-anchor="end" font-family="Liberation Sans" font-size="9.8">10<tspan dy="-4.1" font-size="6.1">-1</tspan></text>
<text x="45.0" y="136.7" text-anchor="middle" font-family="Liberation Sans" font-size="10">0</text>
<text x="98.3" y="136.7" text-anchor="middle" font-family="Liberation Sans" font-size="10">2</text>
<text x="151.6" y="136.7" text-anchor="middle" font-family="Liberation Sans" font-size="10">4</text>
<text x="204.9" y="136.7" text-anchor="middle" font-family="Liberation Sans" font-size="10">6</text>
<text x="258.2" y="136.7" text-anchor="middle" font-family="Liberation Sans" font-size="10">8</text>
<text x="311.5" y="136.7" text-anchor="middle" font-family="Liberation Sans" font-size="10">10</text>
<text x="364.8" y="136.7" text-anchor="middle" font-family="Liberation Sans" font-size="10">12</text>
<text x="418.1" y="136.7" text-anchor="middle" font-family="Liberation Sans" font-size="10">14</text>
<text x="206.2" y="14.9" font-family="Liberation Serif" stroke="#000" stroke-width="0.05" font-size="10.6">Mo<tspan dy="3.6" font-size="7.2">x</tspan><tspan dy="-3.6">C</tspan><tspan dy="3.6" dx="1.5" font-size="7.2">1-x</tspan><tspan dy="-3.6">/B</tspan><tspan dy="3.6" font-size="7.2">4</tspan><tspan dy="-3.6">C</tspan></text><text x="150" y="143" font-family="Liberation Serif" stroke="#000" stroke-width="0.05" font-size="12.2">Grazing incident angle:2theta(deg)</text><text transform="translate(9.8,104.9) rotate(-90)" font-family="Liberation Serif" stroke="#000" stroke-width="0.05" font-size="13.0">Intensity(a.u)</text><text x="357.2" y="37.2" font-family="Liberation Serif" stroke="#000" stroke-width="0.05" font-size="11.2">Annealed at 600<tspan dy="-4.2" font-size="6.9">o</tspan><tspan dy="4.2">C</tspan></text><text x="357.6" y="50.5" font-family="Liberation Serif" stroke="#000" stroke-width="0.05" font-size="11.2">Annealed at 500<tspan dy="-4.2" font-size="6.9">o</tspan><tspan dy="4.2">C</tspan></text><text x="357.4" y="64.3" font-family="Liberation Serif" stroke="#000" stroke-width="0.05" font-size="11.2">Annealed at 400<tspan dy="-4.2" font-size="6.9">o</tspan><tspan dy="4.2">C</tspan></text><text x="357.3" y="78.0" font-family="Liberation Serif" stroke="#000" stroke-width="0.05" font-size="11.2">Annealed at 300<tspan dy="-4.2" font-size="6.9">o</tspan><tspan dy="4.2">C</tspan></text><text x="357.0" y="93.4" font-family="Liberation Serif" stroke="#000" stroke-width="0.05" font-size="11.2">Annealed at 200<tspan dy="-4.2" font-size="6.9">o</tspan><tspan dy="4.2">C</tspan></text><text x="355.6" y="107.6" font-family="Liberation Serif" stroke="#000" stroke-width="0.05" font-size="11.2">Annealed at 100<tspan dy="-4.2" font-size="6.9">o</tspan><tspan dy="4.2">C</tspan></text><text x="365.0" y="118.6" font-family="Liberation Serif" stroke="#000" stroke-width="0.05" font-size="11.2">As-prepared</text><path d="M331.5,5.4 H357.3" stroke="#111" stroke-width="1"/><text x="360.7" y="9.7" font-family="Liberation Serif" stroke="#000" stroke-width="0.05" font-size="11.2">exp</text><circle cx="344.3" cy="20.2" r="1.5" fill="none" stroke="#ff5a5a" stroke-width="0.8"/><text x="360.7" y="24.3" font-family="Liberation Serif" stroke="#000" stroke-width="0.05" font-size="11.2">fitting</text>
<polyline points="50.0,171.23 50.5,171.21 51.0,170.89 51.5,170.89 52.0,170.57 52.5,170.44 53.0,170.48 53.5,170.31" fill="none" stroke="#555" stroke-width="1.0"/>
<polyline points="54.0,170.18 54.5,170.31 55.0,170.21 55.5,170.09 56.0,170.22 56.5,170.29 57.0,170.21 57.5,170.27 58.0,170.16 58.5,170.02 59.0,170.08 59.5,170.25 60.0,170.54 60.5,171.02 61.0,171.62 61.5,171.49 62.0,172.02 62.5,172.79 63.0,173.15 63.5,173.52 64.0,174.17 64.5,175.08 65.0,175.07 65.5,175.03 66.0,176.27 66.5,176.16 67.0,176.85 67.5,176.65 68.0,176.54 68.5,177.20 69.0,177.22 69.5,177.91 70.0,178.14 70.5,178.21 71.0,179.01 71.5,178.47 72.0,178.63 72.5,179.25 73.0,179.63 73.5,179.68 74.0,179.65 74.5,180.34 75.0,179.72 75.5,180.14 76.0,180.60 76.5,180.38 77.0,181.07 77.5,181.15 78.0,181.41 78.5,181.68 79.0,181.98 79.5,182.06 80.0,182.21 80.5,181.84 81.0,182.45 81.5,182.44 82.0,182.68 82.5,182.34 83.0,182.88 83.5,183.23 84.0,183.82 84.5,183.25 85.0,183.20 85.5,183.85 86.0,184.47 86.5,184.36 87.0,184.21 87.5,184.54 88.0,184.37 88.5,184.78 89.0,184.74 89.5,185.47 90.0,184.77 90.5,185.21 91.0,185.25 91.5,185.17 92.0,185.32 92.5,185.89 93.0,184.88 93.5,185.30 94.0,185.48 94.5,184.95 95.0,184.86 95.5,184.69 96.0,185.62 96.5,185.17 97.0,184.76 97.5,184.68 98.0,184.63 98.5,184.68 99.0,184.22 99.5,184.51 100.0,184.38 100.5,184.36 101.0,183.90 101.5,183.73 102.0,183.41 102.5,183.35 103.0,182.91 103.5,182.39 104.0,181.97 104.5,181.60 105.0,181.34 105.5,180.59 106.0,180.24" fill="none" stroke="#1a1a1a" stroke-width="1.45" stroke-linejoin="round"/>
<polyline points="116.5,181.05 117.0,181.74 117.5,181.14 118.0,181.79 118.5,182.19 119.0,182.35 119.5,182.82 120.0,182.61 120.5,182.85 121.0,183.08 121.5,183.40 122.0,183.54 122.5,183.70 123.0,183.90 123.5,184.37 124.0,184.28 124.5,184.38 125.0,185.06 125.5,184.90 126.0,185.04 126.5,185.36 127.0,185.29 127.5,185.31 128.0,185.95 128.5,186.14 129.0,185.70 129.5,186.02 130.0,186.34 130.5,186.70 131.0,186.73 131.5,186.89 132.0,186.73 132.5,187.06 133.0,187.44 133.5,187.00 134.0,187.69 134.5,187.64 135.0,187.54 135.5,187.99 136.0,188.06 136.5,187.89 137.0,188.11 137.5,188.04 138.0,188.31 138.5,188.17 139.0,188.19 139.5,188.91 140.0,188.38 140.5,188.51 141.0,188.71 141.5,189.65 142.0,188.78 142.5,189.16 143.0,189.19 143.5,189.69 144.0,189.36 144.5,189.98 145.0,189.70 145.5,190.12 146.0,189.89 146.5,189.83 147.0,189.54 147.5,189.75 148.0,189.91 148.5,189.90 149.0,190.18 149.5,190.05 150.0,190.32 150.5,190.11 151.0,190.13 151.5,190.51 152.0,190.42 152.5,190.63 153.0,190.58 153.5,190.38 154.0,190.63 154.5,190.71 155.0,190.64 155.5,191.00 156.0,190.05 156.5,190.67 157.0,190.64 157.5,190.87 158.0,190.47 158.5,190.67 159.0,190.42 159.5,190.20 160.0,190.33 160.5,190.95 161.0,190.19 161.5,190.63 162.0,190.09 162.5,190.62 163.0,190.52 163.5,190.30 164.0,190.04 164.5,190.09 165.0,190.08 165.5,189.78 166.0,189.16 166.5,189.72 167.0,189.31 167.5,189.01 168.0,188.63 168.5,187.51 169.0,188.05" fill="none" stroke="#1a1a1a" stroke-width="1.45" stroke-linejoin="round"/>
<polyline points="179.5,189.51 180.0,189.52 180.5,189.71 181.0,189.37 181.5,189.53 182.0,190.20 182.5,190.54 183.0,190.68 183.5,190.66 184.0,190.86 184.5,190.38 185.0,191.14 185.5,191.16 186.0,190.54 186.5,191.62 187.0,191.73 187.5,191.42 188.0,191.31 188.5,192.11 189.0,191.87 189.5,191.59 190.0,191.81 190.5,192.21 191.0,192.00 191.5,192.62 192.0,192.02 192.5,192.49 193.0,192.62 193.5,192.40 194.0,192.56 194.5,192.27 195.0,192.86 195.5,192.52 196.0,192.32 196.5,192.51 197.0,192.84 197.5,192.48 198.0,192.13 198.5,192.26 199.0,192.85 199.5,192.44 200.0,191.99 200.5,192.52 201.0,192.59 201.5,192.66 202.0,192.17 202.5,192.44 203.0,192.46 203.5,192.43 204.0,192.46 204.5,192.38 205.0,192.37 205.5,191.73 206.0,191.89 206.5,192.85 207.0,192.26 207.5,192.02 208.0,192.67 208.5,193.34 209.0,193.31 209.5,192.23 210.0,191.70 210.5,191.81 211.0,192.59 211.5,192.66 212.0,191.95 212.5,191.50 213.0,191.74 213.5,192.20 214.0,191.40 214.5,192.49 215.0,192.00 215.5,191.73 216.0,191.98 216.5,191.56 217.0,192.27 217.5,191.79 218.0,192.13 218.5,192.53 219.0,191.67 219.5,191.80 220.0,190.64 220.5,191.97 221.0,191.80 221.5,191.74 222.0,191.19 222.5,191.10 223.0,190.13 223.5,191.17 224.0,190.72 224.5,190.97 225.0,190.85 225.5,190.74 226.0,189.99 226.5,190.64 227.0,190.30 227.5,189.64 228.0,189.04 228.5,189.14 229.0,188.41 229.5,188.88 230.0,188.31 230.5,188.98 231.0,188.30 231.5,187.18 232.0,186.84" fill="none" stroke="#1a1a1a" stroke-width="1.45" stroke-linejoin="round"/>
<polyline points="243.0,187.53 243.5,188.74 244.0,188.98 244.5,188.18 245.0,189.00 245.5,189.25 246.0,190.59 246.5,190.26 247.0,189.62 247.5,190.27 248.0,191.45 248.5,191.30 249.0,191.18 249.5,190.65 250.0,190.79 250.5,192.83 251.0,191.65 251.5,191.40 252.0,191.34 252.5,193.20 253.0,192.92 253.5,192.61 254.0,192.12 254.5,192.81 255.0,193.09 255.5,192.44 256.0,192.29 256.5,192.56 257.0,192.71 257.5,192.25 258.0,191.52 258.5,193.27 259.0,192.77 259.5,192.08 260.0,192.52 260.5,192.74 261.0,192.79 261.5,192.10 262.0,192.00 262.5,192.12 263.0,192.47 263.5,191.21 264.0,193.09 264.5,192.18 265.0,192.32 265.5,192.01 266.0,192.01 266.5,192.44 267.0,192.25 267.5,192.37 268.0,192.05 268.5,192.83 269.0,192.12 269.5,192.57 270.0,191.93 270.5,192.68 271.0,192.65 271.5,192.65 272.0,192.00 272.5,192.32 273.0,192.46 273.5,192.88 274.0,192.19 274.5,192.43 275.0,192.19 275.5,191.73 276.0,191.48 276.5,191.50 277.0,192.45 277.5,191.08 278.0,191.89 278.5,191.41 279.0,191.98 279.5,191.83 280.0,192.47 280.5,192.10 281.0,191.58 281.5,192.33 282.0,191.81 282.5,192.32 283.0,191.82 283.5,191.19 284.0,192.42 284.5,192.00 285.0,193.22 285.5,192.29 286.0,191.61 286.5,192.07 287.0,192.99 287.5,192.25 288.0,192.08 288.5,192.27 289.0,192.40 289.5,192.14 290.0,191.89 290.5,191.72 291.0,192.77 291.5,193.50 292.0,192.37 292.5,192.68 293.0,192.23 293.5,191.91 294.0,190.98 294.5,191.48 295.0,191.41 295.5,190.99 296.0,190.57 296.5,190.42 297.0,190.02 297.5,189.58 298.0,189.27 298.5,189.30 299.0,189.33 299.5,189.21 300.0,189.12 300.5,189.32 301.0,189.02 301.5,189.25 302.0,189.28 302.5,188.41 303.0,188.95 303.5,189.21 304.0,189.58 304.5,189.48 305.0,191.08 305.5,189.57 306.0,190.54 306.5,191.47 307.0,190.83 307.5,191.70 308.0,192.05 308.5,191.73 309.0,192.37 309.5,191.36 310.0,191.66 310.5,193.02 311.0,192.33 311.5,192.40 312.0,191.47 312.5,192.06 313.0,192.59 313.5,191.85 314.0,191.99 314.5,192.80 315.0,191.88 315.5,194.63 316.0,192.23 316.5,191.82 317.0,192.40 317.5,192.51 318.0,191.49 318.5,192.85 319.0,191.97 319.5,192.03 320.0,192.47 320.5,192.71 321.0,192.84 321.5,191.71 322.0,192.37 322.5,192.78 323.0,192.10 323.5,192.08 324.0,192.36 324.5,192.82 325.0,192.76 325.5,192.56 326.0,192.33 326.5,191.91 327.0,192.04 327.5,191.61 328.0,195.19 328.5,192.58 329.0,192.36 329.5,192.28 330.0,192.54 330.5,191.52 331.0,193.00 331.5,192.68 332.0,192.03 332.5,192.30 333.0,193.31 333.5,192.73 334.0,193.03 334.5,192.42 335.0,191.99 335.5,192.20 336.0,192.83 336.5,192.47 337.0,192.10 337.5,191.15 338.0,192.70 338.5,192.78 339.0,192.33 339.5,192.37 340.0,192.29 340.5,191.77 341.0,192.46 341.5,191.77 342.0,192.29 342.5,192.41 343.0,193.75 343.5,191.81 344.0,191.88 344.5,192.45 345.0,191.69 345.5,191.83 346.0,192.50 346.5,192.03 347.0,192.45 347.5,192.22 348.0,192.32 348.5,192.10 349.0,191.74 349.5,191.58 350.0,192.52 350.5,192.42 351.0,191.85 351.5,192.99" fill="none" stroke="#1a1a1a" stroke-width="1.45" stroke-linejoin="round"/>
<g stroke="#ff4040" stroke-width="0.65"><circle cx="55.0" cy="170.20" r="1.20" fill="#ffcdcd"/><circle cx="56.4" cy="170.20" r="1.20" fill="#ffcdcd"/><circle cx="57.8" cy="170.20" r="1.20" fill="#ffcdcd"/><circle cx="59.2" cy="170.21" r="1.20" fill="#ffcdcd"/><circle cx="60.5" cy="170.77" r="1.20" fill="#ffcdcd"/><circle cx="61.6" cy="171.59" r="1.20" fill="#ffcdcd"/><circle cx="62.6" cy="172.62" r="1.20" fill="#ffcdcd"/><circle cx="63.5" cy="173.63" r="1.20" fill="#ffcdcd"/><circle cx="64.5" cy="174.64" r="1.20" fill="#ffcdcd"/><circle cx="65.6" cy="175.54" r="1.20" fill="#ffcdcd"/><circle cx="66.7" cy="176.33" r="1.20" fill="#ffcdcd"/><circle cx="67.9" cy="177.05" r="1.20" fill="#ffcdcd"/><circle cx="69.2" cy="177.70" r="1.20" fill="#ffcdcd"/><circle cx="70.4" cy="178.30" r="1.20" fill="#ffcdcd"/><circle cx="71.7" cy="178.87" r="1.20" fill="#ffcdcd"/><circle cx="73.0" cy="179.43" r="1.20" fill="#ffcdcd"/><circle cx="74.3" cy="179.99" r="1.20" fill="#ffcdcd"/><circle cx="75.6" cy="180.52" r="1.20" fill="#ffcdcd"/><circle cx="76.9" cy="181.04" r="1.20" fill="#ffcdcd"/><circle cx="78.2" cy="181.54" r="1.20" fill="#ffcdcd"/><circle cx="79.5" cy="182.02" r="1.20" fill="#ffcdcd"/><circle cx="80.8" cy="182.48" r="1.20" fill="#ffcece"/><circle cx="82.1" cy="182.94" r="1.20" fill="#ffcfcf"/><circle cx="83.5" cy="183.36" r="1.20" fill="#ffd1d1"/><circle cx="85.0" cy="183.69" r="1.20" fill="#ffd3d3"/><circle cx="86.4" cy="183.94" r="1.20" fill="#ffd4d4"/><circle cx="87.9" cy="184.16" r="1.20" fill="#ffd6d6"/><circle cx="89.5" cy="184.29" r="1.20" fill="#ffd8d8"/><circle cx="91.1" cy="184.29" r="1.20" fill="#ffdada"/><circle cx="92.7" cy="184.27" r="1.21" fill="#ffdcdc"/><circle cx="94.4" cy="184.22" r="1.21" fill="#ffdede"/><circle cx="96.0" cy="184.11" r="1.22" fill="#ffdfdf"/><circle cx="97.7" cy="183.78" r="1.22" fill="#ffe1e1"/><circle cx="99.4" cy="183.35" r="1.22" fill="#ffe3e3"/><circle cx="101.2" cy="182.88" r="1.23" fill="#ffe4e4"/><circle cx="102.9" cy="182.31" r="1.23" fill="#ffe4e4"/><circle cx="104.5" cy="181.52" r="1.24" fill="#ffe4e4"/><circle cx="105.9" cy="180.38" r="1.24" fill="#ffe4e4"/><circle cx="107.1" cy="179.07" r="1.24" fill="#ffe4e4"/><circle cx="108.2" cy="177.61" r="1.25" fill="#ffe4e4"/><circle cx="109.1" cy="176.04" r="1.25" fill="#ffe4e4"/><circle cx="109.7" cy="174.34" r="1.25" fill="#ffe4e4"/><circle cx="110.2" cy="172.60" r="1.25" fill="#ffe4e4"/><circle cx="111.1" cy="170.80" r="1.25" fill="#ffe4e4"/><circle cx="111.7" cy="172.14" r="1.25" fill="#ffe4e4"/><circle cx="112.1" cy="173.89" r="1.25" fill="#ffe4e4"/><circle cx="112.6" cy="175.66" r="1.25" fill="#ffe4e4"/><circle cx="113.2" cy="177.34" r="1.25" fill="#ffe4e4"/><circle cx="114.1" cy="178.88" r="1.25" fill="#ffe4e4"/><circle cx="115.3" cy="180.25" r="1.25" fill="#ffe4e4"/><circle cx="116.8" cy="181.26" r="1.25" fill="#ffe4e4"/><circle cx="118.5" cy="181.93" r="1.25" fill="#ffe4e4"/><circle cx="120.2" cy="182.58" r="1.25" fill="#ffe4e4"/><circle cx="121.8" cy="183.37" r="1.25" fill="#ffe4e4"/><circle cx="123.4" cy="184.16" r="1.25" fill="#ffe4e4"/><circle cx="125.1" cy="184.84" r="1.25" fill="#ffe4e4"/><circle cx="126.9" cy="185.39" r="1.25" fill="#ffe4e4"/><circle cx="128.6" cy="185.86" r="1.25" fill="#ffe4e4"/><circle cx="130.4" cy="186.29" r="1.25" fill="#ffe4e4"/><circle cx="132.2" cy="186.72" r="1.25" fill="#ffe4e4"/><circle cx="133.9" cy="187.10" r="1.25" fill="#ffe4e4"/><circle cx="135.7" cy="187.42" r="1.25" fill="#ffe4e4"/><circle cx="137.5" cy="187.66" r="1.25" fill="#ffe4e4"/><circle cx="139.3" cy="187.90" r="1.26" fill="#ffe4e4"/><circle cx="141.1" cy="188.20" r="1.26" fill="#ffe4e4"/><circle cx="142.9" cy="188.57" r="1.26" fill="#ffe4e4"/><circle cx="144.7" cy="188.87" r="1.26" fill="#ffe4e4"/><circle cx="146.6" cy="189.04" r="1.26" fill="#ffe4e4"/><circle cx="148.4" cy="189.18" r="1.26" fill="#ffe4e4"/><circle cx="150.2" cy="189.32" r="1.26" fill="#ffe4e4"/><circle cx="152.0" cy="189.54" r="1.26" fill="#ffe4e4"/><circle cx="153.9" cy="189.75" r="1.26" fill="#ffe4e4"/><circle cx="155.7" cy="189.80" r="1.26" fill="#ffe4e4"/><circle cx="157.5" cy="189.80" r="1.26" fill="#ffe4e4"/><circle cx="159.4" cy="189.80" r="1.26" fill="#ffe4e4"/><circle cx="161.2" cy="189.76" r="1.26" fill="#ffe4e4"/><circle cx="163.0" cy="189.55" r="1.26" fill="#ffe4e4"/><circle cx="164.8" cy="189.23" r="1.26" fill="#ffe4e4"/><circle cx="166.6" cy="188.69" r="1.26" fill="#ffe4e4"/><circle cx="168.2" cy="187.82" r="1.26" fill="#ffe4e4"/><circle cx="169.7" cy="186.69" r="1.26" fill="#ffe4e4"/><circle cx="170.8" cy="185.24" r="1.26" fill="#ffe4e4"/><circle cx="171.8" cy="183.67" r="1.26" fill="#ffe4e4"/><circle cx="172.6" cy="182.02" r="1.26" fill="#ffe4e4"/><circle cx="173.3" cy="180.29" r="1.26" fill="#ffe4e4"/><circle cx="174.2" cy="178.70" r="1.26" fill="#ffe4e4"/><circle cx="174.8" cy="180.37" r="1.26" fill="#ffe4e4"/><circle cx="175.1" cy="182.19" r="1.26" fill="#ffe4e4"/><circle cx="175.5" cy="184.00" r="1.26" fill="#ffe4e4"/><circle cx="176.0" cy="185.77" r="1.26" fill="#ffe4e4"/><circle cx="176.6" cy="187.53" r="1.26" fill="#ffe4e4"/><circle cx="177.9" cy="188.77" r="1.26" fill="#ffe4e4"/><circle cx="179.6" cy="189.38" r="1.26" fill="#ffe4e4"/><circle cx="181.4" cy="189.95" r="1.26" fill="#ffe4e4"/><circle cx="183.2" cy="190.44" r="1.26" fill="#ffe4e4"/><circle cx="185.0" cy="190.90" r="1.26" fill="#ffe4e4"/><circle cx="186.8" cy="191.35" r="1.26" fill="#ffe4e4"/><circle cx="188.6" cy="191.76" r="1.26" fill="#ffe4e4"/><circle cx="190.4" cy="192.06" r="1.26" fill="#ffe4e4"/><circle cx="192.3" cy="192.24" r="1.26" fill="#ffe4e4"/><circle cx="194.1" cy="192.41" r="1.26" fill="#ffe4e4"/><circle cx="196.0" cy="192.64" r="1.26" fill="#ffe4e4"/><circle cx="197.8" cy="192.98" r="1.27" fill="#ffe4e4"/><circle cx="199.7" cy="193.19" r="1.27" fill="#ffe4e4"/><circle cx="201.5" cy="193.19" r="1.27" fill="#ffe4e4"/><circle cx="203.4" cy="193.17" r="1.27" fill="#ffe4e4"/><circle cx="205.3" cy="193.13" r="1.27" fill="#ffe4e4"/><circle cx="207.1" cy="193.08" r="1.27" fill="#ffe4e4"/><circle cx="209.0" cy="193.03" r="1.27" fill="#ffe4e4"/><circle cx="210.9" cy="192.97" r="1.27" fill="#ffe4e4"/><circle cx="212.8" cy="192.91" r="1.27" fill="#ffe4e4"/><circle cx="214.6" cy="192.83" r="1.27" fill="#ffe4e4"/><circle cx="216.5" cy="192.74" r="1.27" fill="#ffe4e4"/><circle cx="218.4" cy="192.62" r="1.27" fill="#ffe4e4"/><circle cx="220.3" cy="192.47" r="1.27" fill="#ffe4e4"/><circle cx="222.1" cy="192.22" r="1.27" fill="#ffe4e4"/><circle cx="224.0" cy="191.84" r="1.27" fill="#ffe4e4"/><circle cx="225.8" cy="191.35" r="1.27" fill="#ffe4e4"/><circle cx="227.5" cy="190.65" r="1.27" fill="#ffe4e4"/><circle cx="229.2" cy="189.80" r="1.27" fill="#ffe4e4"/><circle cx="230.8" cy="188.81" r="1.27" fill="#ffe4e4"/><circle cx="232.3" cy="187.63" r="1.27" fill="#ffe4e4"/><circle cx="233.7" cy="186.35" r="1.27" fill="#ffe4e4"/><circle cx="234.9" cy="184.96" r="1.27" fill="#ffe4e4"/><circle cx="236.2" cy="183.54" r="1.27" fill="#ffe4e4"/><circle cx="237.5" cy="182.10" r="1.27" fill="#ffe4e4"/><circle cx="238.9" cy="183.10" r="1.27" fill="#ffe4e4"/><circle cx="240.1" cy="184.60" r="1.27" fill="#ffe4e4"/><circle cx="241.4" cy="186.01" r="1.27" fill="#ffe4e4"/><circle cx="242.7" cy="187.36" r="1.27" fill="#ffe4e4"/><circle cx="244.1" cy="188.66" r="1.27" fill="#ffe4e4"/><circle cx="245.6" cy="189.71" r="1.27" fill="#ffe4e4"/><circle cx="247.3" cy="190.56" r="1.27" fill="#ffe4e4"/><circle cx="249.1" cy="191.26" r="1.27" fill="#ffe4e4"/><circle cx="250.9" cy="191.88" r="1.27" fill="#ffe4e4"/><circle cx="252.7" cy="192.43" r="1.27" fill="#ffe4e4"/><circle cx="254.6" cy="192.89" r="1.27" fill="#ffe4e4"/><circle cx="256.4" cy="193.30" r="1.28" fill="#ffe4e4"/><circle cx="258.3" cy="193.67" r="1.28" fill="#ffe4e4"/><circle cx="260.2" cy="193.91" r="1.28" fill="#ffe4e4"/><circle cx="262.1" cy="194.07" r="1.28" fill="#ffe4e4"/><circle cx="264.0" cy="194.21" r="1.28" fill="#ffe4e4"/><circle cx="265.9" cy="194.29" r="1.28" fill="#ffe4e4"/></g>
<polyline points="192.0,192.02 192.5,192.49 193.0,192.62 193.5,192.40 194.0,192.56 194.5,192.27 195.0,192.86 195.5,192.52 196.0,192.32 196.5,192.51 197.0,192.84 197.5,192.48 198.0,192.13 198.5,192.26 199.0,192.85 199.5,192.44 200.0,191.99 200.5,192.52 201.0,192.59 201.5,192.66 202.0,192.17 202.5,192.44 203.0,192.46 203.5,192.43 204.0,192.46 204.5,192.38 205.0,192.37 205.5,191.73 206.0,191.89 206.5,192.85 207.0,192.26 207.5,192.02 208.0,192.67 208.5,193.34 209.0,193.31 209.5,192.23 210.0,191.70 210.5,191.81 211.0,192.59 211.5,192.66 212.0,191.95 212.5,191.50 213.0,191.74 213.5,192.20 214.0,191.40 214.5,192.49 215.0,192.00 215.5,191.73 216.0,191.98 216.5,191.56 217.0,192.27 217.5,191.79 218.0,192.13 218.5,192.53 219.0,191.67 219.5,191.80 220.0,190.64 220.5,191.97 221.0,191.80 221.5,191.74 222.0,191.19 222.5,191.10 223.0,190.13 223.5,191.17 224.0,190.72 224.5,190.97 225.0,190.85 225.5,190.74 226.0,189.99 226.5,190.64 227.0,190.30 227.5,189.64 228.0,189.04 228.5,189.14 229.0,188.41 229.5,188.88 230.0,188.31 230.5,188.98 231.0,188.30 231.5,187.18 232.0,186.84" fill="none" stroke="#111" stroke-width="0.7" stroke-opacity="0.85"/>
<path d="M77.9,181.0 L79.1,178.7 L80.4,181.0 Z" fill="#111"/>
<polyline points="50.0,184.99 50.5,184.86 51.0,184.82 51.5,184.57 52.0,184.23 52.5,183.96 53.0,184.07 53.5,184.00" fill="none" stroke="#555" stroke-width="1.0"/>
<polyline points="54.0,184.19 54.5,183.91 55.0,183.75 55.5,183.95 56.0,183.85 56.5,184.07 57.0,183.99 57.5,183.99 58.0,183.95 58.5,183.92 59.0,183.85 59.5,183.98 60.0,184.69 60.5,184.81 61.0,184.82 61.5,185.24 62.0,185.67 62.5,185.87 63.0,186.70 63.5,187.31 64.0,187.90 64.5,188.33 65.0,189.21 65.5,189.34 66.0,189.31 66.5,189.56 67.0,190.01 67.5,190.40 68.0,190.95 68.5,191.62 69.0,191.14 69.5,191.13 70.0,191.63 70.5,192.08 71.0,192.45 71.5,192.38 72.0,193.07 72.5,193.04 73.0,193.53 73.5,193.57 74.0,193.85 74.5,194.03 75.0,193.81 75.5,193.49 76.0,194.75 76.5,194.26 77.0,194.56 77.5,195.21 78.0,195.65 78.5,195.69 79.0,195.45 79.5,195.93 80.0,195.65 80.5,195.94 81.0,196.61 81.5,196.06 82.0,196.06 82.5,196.52 83.0,197.06 83.5,196.79 84.0,197.07 84.5,197.42 85.0,196.87 85.5,198.17 86.0,197.41 86.5,198.28 87.0,197.61 87.5,198.11 88.0,198.41 88.5,198.68 89.0,198.84 89.5,198.69 90.0,198.17 90.5,198.81 91.0,198.74 91.5,198.70 92.0,199.25 92.5,198.61 93.0,199.52 93.5,199.05 94.0,198.86 94.5,199.08 95.0,199.21 95.5,198.79 96.0,199.02 96.5,198.89 97.0,198.54 97.5,198.69 98.0,198.32 98.5,198.48 99.0,198.11 99.5,198.30 100.0,198.24 100.5,198.14 101.0,197.71 101.5,197.08 102.0,196.99 102.5,196.50 103.0,196.94 103.5,195.98 104.0,196.32 104.5,195.85 105.0,195.10 105.5,194.61 106.0,194.09" fill="none" stroke="#1a1a1a" stroke-width="1.45" stroke-linejoin="round"/>
<polyline points="116.5,194.60 117.0,195.16 117.5,195.22 118.0,195.48 118.5,195.23 119.0,195.81 119.5,195.57 120.0,196.16 120.5,196.15 121.0,196.79 121.5,196.76 122.0,196.54 122.5,197.18 123.0,197.58 123.5,197.93 124.0,198.24 124.5,198.25 125.0,198.87 125.5,198.19 126.0,198.64 126.5,198.47 127.0,198.82 127.5,198.81 128.0,199.06 128.5,199.68 129.0,199.50 129.5,200.05 130.0,199.89 130.5,200.12 131.0,200.46 131.5,200.10 132.0,200.35 132.5,200.85 133.0,200.78 133.5,200.72 134.0,201.81 134.5,200.68 135.0,201.29 135.5,201.48 136.0,201.46 136.5,201.77 137.0,201.76 137.5,201.93 138.0,202.01 138.5,201.99 139.0,202.29 139.5,201.94 140.0,202.47 140.5,202.21 141.0,202.89 141.5,203.12 142.0,202.62 142.5,202.44 143.0,202.53 143.5,202.95 144.0,203.07 144.5,203.32 145.0,203.55 145.5,203.32 146.0,203.24 146.5,204.23 147.0,203.56 147.5,203.63 148.0,203.42 148.5,203.72 149.0,203.67 149.5,203.87 150.0,203.73 150.5,203.39 151.0,203.47 151.5,204.13 152.0,204.14 152.5,204.02 153.0,204.26 153.5,204.54 154.0,203.96 154.5,204.58 155.0,204.78 155.5,204.64 156.0,204.19 156.5,204.46 157.0,204.25 157.5,204.01 158.0,204.08 158.5,204.15 159.0,204.16 159.5,204.27 160.0,203.91 160.5,203.75 161.0,204.05 161.5,204.50 162.0,204.21 162.5,204.25 163.0,203.93 163.5,203.82 164.0,203.88 164.5,203.88 165.0,203.84 165.5,204.15 166.0,203.83 166.5,203.50 167.0,202.67 167.5,202.78 168.0,202.54 168.5,201.99 169.0,202.02 169.5,201.48" fill="none" stroke="#1a1a1a" stroke-width="1.45" stroke-linejoin="round"/>
<polyline points="180.0,203.01 180.5,202.95 181.0,202.96 181.5,203.69 182.0,204.09 182.5,204.07 183.0,203.77 183.5,204.58 184.0,204.58 184.5,203.98 185.0,204.51 185.5,204.53 186.0,204.35 186.5,204.92 187.0,205.03 187.5,204.61 188.0,204.35 188.5,205.01 189.0,205.21 189.5,205.19 190.0,205.46 190.5,206.00 191.0,205.79 191.5,205.54 192.0,205.42 192.5,205.69 193.0,205.72 193.5,205.90 194.0,206.25 194.5,205.66 195.0,206.16 195.5,206.47 196.0,206.26 196.5,206.22 197.0,205.93 197.5,206.05 198.0,206.69 198.5,206.27 199.0,206.33 199.5,206.13 200.0,205.33 200.5,206.12 201.0,206.15 201.5,205.85 202.0,206.71 202.5,206.44 203.0,205.43 203.5,205.97 204.0,205.56 204.5,204.90 205.0,204.79 205.5,206.12 206.0,206.10 206.5,205.55 207.0,206.70 207.5,206.21 208.0,205.98 208.5,206.03 209.0,205.85 209.5,206.28 210.0,205.73 210.5,206.15 211.0,205.44 211.5,205.37 212.0,206.34 212.5,205.52 213.0,205.89 213.5,205.33 214.0,205.73 214.5,205.44 215.0,205.42 215.5,205.67 216.0,205.81 216.5,205.54 217.0,206.24 217.5,205.71 218.0,205.35 218.5,205.57 219.0,205.64 219.5,205.80 220.0,205.11 220.5,204.61 221.0,204.57 221.5,204.39 222.0,205.62 222.5,204.22 223.0,205.55 223.5,204.92 224.0,205.05 224.5,203.88 225.0,204.28 225.5,204.79 226.0,203.83 226.5,204.68 227.0,204.04 227.5,203.57 228.0,203.92 228.5,203.02 229.0,202.91 229.5,202.68 230.0,201.59 230.5,201.98 231.0,201.94 231.5,201.50 232.0,201.29 232.5,200.28 233.0,199.22" fill="none" stroke="#1a1a1a" stroke-width="1.45" stroke-linejoin="round"/>
<polyline points="243.5,200.26 244.0,200.93 244.5,202.03 245.0,201.89 245.5,202.33 246.0,202.90 246.5,203.14 247.0,202.94 247.5,203.06 248.0,204.20 248.5,204.28 249.0,204.44 249.5,204.47 250.0,204.44 250.5,204.85 251.0,204.74 251.5,204.89 252.0,205.26 252.5,205.79 253.0,205.35 253.5,206.01 254.0,206.21 254.5,205.93 255.0,205.71 255.5,206.25 256.0,206.30 256.5,206.97 257.0,206.08 257.5,206.50 258.0,206.63 258.5,206.82 259.0,205.32 259.5,206.25 260.0,205.96 260.5,205.78 261.0,204.88 261.5,205.54 262.0,205.69 262.5,206.19 263.0,205.52 263.5,206.15 264.0,205.39 264.5,205.95 265.0,206.19 265.5,205.70 266.0,205.76 266.5,206.11 267.0,206.82 267.5,206.08 268.0,205.53 268.5,206.10 269.0,206.48 269.5,206.80 270.0,206.27 270.5,206.26 271.0,206.23 271.5,206.33 272.0,206.28 272.5,205.93 273.0,206.44 273.5,205.74 274.0,205.21 274.5,205.71 275.0,205.66 275.5,206.09 276.0,205.46 276.5,204.72 277.0,205.24 277.5,205.59 278.0,205.30 278.5,205.30 279.0,206.07 279.5,205.43 280.0,206.12 280.5,205.99 281.0,206.01 281.5,205.66 282.0,205.47 282.5,206.14 283.0,205.52 283.5,205.95 284.0,205.86 284.5,205.55 285.0,204.85 285.5,205.89 286.0,206.14 286.5,205.69 287.0,206.51 287.5,205.86 288.0,205.74 288.5,206.35 289.0,205.52 289.5,206.31 290.0,207.00 290.5,207.08 291.0,206.00 291.5,206.44 292.0,206.53 292.5,205.96 293.0,206.00 293.5,206.07 294.0,206.11 294.5,205.34 295.0,205.39 295.5,205.74 296.0,206.69 296.5,204.71 297.0,205.33 297.5,203.62 298.0,203.66 298.5,203.76 299.0,203.67 299.5,202.69 300.0,202.96 300.5,202.98 301.0,202.35 301.5,202.67 302.0,202.45 302.5,202.07 303.0,201.78 303.5,202.49 304.0,202.85 304.5,202.52 305.0,202.85 305.5,203.02 306.0,202.96 306.5,204.01 307.0,204.56 307.5,205.27 308.0,204.70 308.5,205.81 309.0,205.76 309.5,205.52 310.0,205.99 310.5,205.70 311.0,206.42 311.5,205.81 312.0,206.25 312.5,207.02 313.0,206.13 313.5,206.08 314.0,206.31 314.5,205.96 315.0,206.07 315.5,206.50 316.0,205.73 316.5,206.60 317.0,205.86 317.5,205.61 318.0,206.86 318.5,205.60 319.0,205.90 319.5,206.39 320.0,206.12 320.5,206.69 321.0,206.16 321.5,206.04 322.0,206.11 322.5,206.09 323.0,206.47 323.5,206.02 324.0,206.54 324.5,206.29 325.0,205.99 325.5,206.47 326.0,205.39 326.5,206.31 327.0,205.94 327.5,205.88 328.0,205.47 328.5,206.29 329.0,207.04 329.5,206.21 330.0,206.19 330.5,205.56 331.0,206.71 331.5,206.35 332.0,206.00 332.5,206.61 333.0,206.22 333.5,205.77 334.0,206.27 334.5,206.04 335.0,206.78 335.5,205.90 336.0,206.33 336.5,205.96 337.0,206.14 337.5,205.78 338.0,205.92 338.5,205.51 339.0,206.00 339.5,206.19 340.0,206.28 340.5,206.14 341.0,206.48 341.5,205.66 342.0,205.89 342.5,205.74 343.0,205.35 343.5,205.75 344.0,205.16 344.5,205.87 345.0,206.25 345.5,206.15 346.0,205.26 346.5,206.73 347.0,206.33 347.5,205.61 348.0,205.34 348.5,206.09 349.0,206.03 349.5,205.74 350.0,205.76 350.5,205.98 351.0,206.14 351.5,206.60" fill="none" stroke="#1a1a1a" stroke-width="1.45" stroke-linejoin="round"/>
<g stroke="#ff4040" stroke-width="0.65"><circle cx="55.0" cy="183.90" r="1.20" fill="#ffcdcd"/><circle cx="56.4" cy="183.90" r="1.20" fill="#ffcdcd"/><circle cx="57.8" cy="183.90" r="1.20" fill="#ffcdcd"/><circle cx="59.2" cy="183.91" r="1.20" fill="#ffcdcd"/><circle cx="60.5" cy="184.44" r="1.20" fill="#ffcdcd"/><circle cx="61.6" cy="185.25" r="1.20" fill="#ffcdcd"/><circle cx="62.6" cy="186.27" r="1.20" fill="#ffcdcd"/><circle cx="63.5" cy="187.28" r="1.20" fill="#ffcdcd"/><circle cx="64.5" cy="188.29" r="1.20" fill="#ffcdcd"/><circle cx="65.6" cy="189.19" r="1.20" fill="#ffcdcd"/><circle cx="66.7" cy="189.99" r="1.20" fill="#ffcdcd"/><circle cx="67.9" cy="190.71" r="1.20" fill="#ffcdcd"/><circle cx="69.2" cy="191.36" r="1.20" fill="#ffcdcd"/><circle cx="70.4" cy="191.96" r="1.20" fill="#ffcdcd"/><circle cx="71.7" cy="192.53" r="1.20" fill="#ffcdcd"/><circle cx="73.0" cy="193.09" r="1.20" fill="#ffcdcd"/><circle cx="74.3" cy="193.65" r="1.20" fill="#ffcdcd"/><circle cx="75.6" cy="194.18" r="1.20" fill="#ffcdcd"/><circle cx="76.9" cy="194.70" r="1.20" fill="#ffcdcd"/><circle cx="78.2" cy="195.20" r="1.20" fill="#ffcdcd"/><circle cx="79.5" cy="195.68" r="1.20" fill="#ffcdcd"/><circle cx="80.8" cy="196.13" r="1.20" fill="#ffcece"/><circle cx="82.2" cy="196.59" r="1.20" fill="#ffcfcf"/><circle cx="83.5" cy="197.02" r="1.20" fill="#ffd1d1"/><circle cx="85.0" cy="197.37" r="1.20" fill="#ffd3d3"/><circle cx="86.5" cy="197.62" r="1.20" fill="#ffd4d4"/><circle cx="88.0" cy="197.85" r="1.20" fill="#ffd6d6"/><circle cx="89.5" cy="197.98" r="1.20" fill="#ffd8d8"/><circle cx="91.1" cy="198.00" r="1.20" fill="#ffdada"/><circle cx="92.7" cy="197.97" r="1.21" fill="#ffdcdc"/><circle cx="94.4" cy="197.93" r="1.21" fill="#ffdede"/><circle cx="96.1" cy="197.83" r="1.22" fill="#ffdfdf"/><circle cx="97.8" cy="197.53" r="1.22" fill="#ffe1e1"/><circle cx="99.5" cy="197.10" r="1.22" fill="#ffe3e3"/><circle cx="101.2" cy="196.64" r="1.23" fill="#ffe4e4"/><circle cx="102.9" cy="196.09" r="1.23" fill="#ffe4e4"/><circle cx="104.5" cy="195.33" r="1.24" fill="#ffe4e4"/><circle cx="106.0" cy="194.23" r="1.24" fill="#ffe4e4"/><circle cx="107.2" cy="192.94" r="1.24" fill="#ffe4e4"/><circle cx="108.3" cy="191.50" r="1.25" fill="#ffe4e4"/><circle cx="109.2" cy="189.95" r="1.25" fill="#ffe4e4"/><circle cx="109.9" cy="188.26" r="1.25" fill="#ffe4e4"/><circle cx="110.4" cy="186.52" r="1.25" fill="#ffe4e4"/><circle cx="111.4" cy="184.50" r="1.25" fill="#ffe4e4"/><circle cx="111.9" cy="185.61" r="1.25" fill="#ffe4e4"/><circle cx="112.4" cy="187.36" r="1.25" fill="#ffe4e4"/><circle cx="112.8" cy="189.13" r="1.25" fill="#ffe4e4"/><circle cx="113.3" cy="190.84" r="1.25" fill="#ffe4e4"/><circle cx="114.3" cy="192.38" r="1.25" fill="#ffe4e4"/><circle cx="115.4" cy="193.79" r="1.25" fill="#ffe4e4"/><circle cx="116.9" cy="194.85" r="1.25" fill="#ffe4e4"/><circle cx="118.5" cy="195.55" r="1.25" fill="#ffe4e4"/><circle cx="120.2" cy="196.18" r="1.25" fill="#ffe4e4"/><circle cx="121.9" cy="196.95" r="1.25" fill="#ffe4e4"/><circle cx="123.5" cy="197.75" r="1.25" fill="#ffe4e4"/><circle cx="125.2" cy="198.45" r="1.25" fill="#ffe4e4"/><circle cx="126.9" cy="199.01" r="1.25" fill="#ffe4e4"/><circle cx="128.7" cy="199.48" r="1.25" fill="#ffe4e4"/><circle cx="130.4" cy="199.92" r="1.25" fill="#ffe4e4"/><circle cx="132.2" cy="200.35" r="1.25" fill="#ffe4e4"/><circle cx="134.0" cy="200.74" r="1.25" fill="#ffe4e4"/><circle cx="135.8" cy="201.07" r="1.25" fill="#ffe4e4"/><circle cx="137.6" cy="201.32" r="1.25" fill="#ffe4e4"/><circle cx="139.4" cy="201.56" r="1.26" fill="#ffe4e4"/><circle cx="141.2" cy="201.84" r="1.26" fill="#ffe4e4"/><circle cx="143.0" cy="202.20" r="1.26" fill="#ffe4e4"/><circle cx="144.8" cy="202.52" r="1.26" fill="#ffe4e4"/><circle cx="146.6" cy="202.72" r="1.26" fill="#ffe4e4"/><circle cx="148.4" cy="202.85" r="1.26" fill="#ffe4e4"/><circle cx="150.3" cy="202.99" r="1.26" fill="#ffe4e4"/><circle cx="152.1" cy="203.19" r="1.26" fill="#ffe4e4"/><circle cx="153.9" cy="203.41" r="1.26" fill="#ffe4e4"/><circle cx="155.7" cy="203.50" r="1.26" fill="#ffe4e4"/><circle cx="157.6" cy="203.49" r="1.26" fill="#ffe4e4"/><circle cx="159.4" cy="203.49" r="1.26" fill="#ffe4e4"/><circle cx="161.3" cy="203.46" r="1.26" fill="#ffe4e4"/><circle cx="163.1" cy="203.27" r="1.26" fill="#ffe4e4"/><circle cx="164.9" cy="202.96" r="1.26" fill="#ffe4e4"/><circle cx="166.7" cy="202.47" r="1.26" fill="#ffe4e4"/><circle cx="168.3" cy="201.62" r="1.26" fill="#ffe4e4"/><circle cx="169.8" cy="200.54" r="1.26" fill="#ffe4e4"/><circle cx="171.0" cy="199.12" r="1.26" fill="#ffe4e4"/><circle cx="172.0" cy="197.56" r="1.26" fill="#ffe4e4"/><circle cx="172.8" cy="195.91" r="1.26" fill="#ffe4e4"/><circle cx="173.5" cy="194.20" r="1.26" fill="#ffe4e4"/><circle cx="174.1" cy="192.45" r="1.26" fill="#ffe4e4"/><circle cx="174.7" cy="191.50" r="1.26" fill="#ffe4e4"/><circle cx="175.4" cy="193.91" r="1.26" fill="#ffe4e4"/><circle cx="175.7" cy="195.74" r="1.26" fill="#ffe4e4"/><circle cx="176.1" cy="197.53" r="1.26" fill="#ffe4e4"/><circle cx="176.6" cy="199.32" r="1.26" fill="#ffe4e4"/><circle cx="177.2" cy="201.07" r="1.26" fill="#ffe4e4"/><circle cx="178.6" cy="202.26" r="1.26" fill="#ffe4e4"/><circle cx="180.3" cy="202.95" r="1.26" fill="#ffe4e4"/><circle cx="182.1" cy="203.58" r="1.26" fill="#ffe4e4"/><circle cx="183.9" cy="204.11" r="1.26" fill="#ffe4e4"/><circle cx="185.6" cy="204.58" r="1.26" fill="#ffe4e4"/><circle cx="187.4" cy="205.05" r="1.26" fill="#ffe4e4"/><circle cx="189.3" cy="205.46" r="1.26" fill="#ffe4e4"/><circle cx="191.1" cy="205.76" r="1.26" fill="#ffe4e4"/><circle cx="192.9" cy="205.95" r="1.26" fill="#ffe4e4"/><circle cx="194.8" cy="206.11" r="1.26" fill="#ffe4e4"/><circle cx="196.6" cy="206.35" r="1.26" fill="#ffe4e4"/><circle cx="198.5" cy="206.69" r="1.27" fill="#ffe4e4"/><circle cx="200.3" cy="206.89" r="1.27" fill="#ffe4e4"/><circle cx="202.2" cy="206.89" r="1.27" fill="#ffe4e4"/><circle cx="204.1" cy="206.87" r="1.27" fill="#ffe4e4"/><circle cx="205.9" cy="206.83" r="1.27" fill="#ffe4e4"/><circle cx="207.8" cy="206.78" r="1.27" fill="#ffe4e4"/><circle cx="209.7" cy="206.72" r="1.27" fill="#ffe4e4"/><circle cx="211.6" cy="206.66" r="1.27" fill="#ffe4e4"/><circle cx="213.4" cy="206.60" r="1.27" fill="#ffe4e4"/><circle cx="215.3" cy="206.52" r="1.27" fill="#ffe4e4"/><circle cx="217.2" cy="206.41" r="1.27" fill="#ffe4e4"/><circle cx="219.0" cy="206.28" r="1.27" fill="#ffe4e4"/><circle cx="220.9" cy="206.11" r="1.27" fill="#ffe4e4"/><circle cx="222.8" cy="205.83" r="1.27" fill="#ffe4e4"/><circle cx="224.6" cy="205.41" r="1.27" fill="#ffe4e4"/><circle cx="226.4" cy="204.86" r="1.27" fill="#ffe4e4"/><circle cx="228.1" cy="204.09" r="1.27" fill="#ffe4e4"/><circle cx="229.8" cy="203.14" r="1.27" fill="#ffe4e4"/><circle cx="231.3" cy="202.05" r="1.27" fill="#ffe4e4"/><circle cx="232.7" cy="200.76" r="1.27" fill="#ffe4e4"/><circle cx="233.9" cy="199.36" r="1.27" fill="#ffe4e4"/><circle cx="235.1" cy="197.86" r="1.27" fill="#ffe4e4"/><circle cx="236.1" cy="196.30" r="1.27" fill="#ffe4e4"/><circle cx="237.1" cy="194.68" r="1.27" fill="#ffe4e4"/><circle cx="238.3" cy="192.80" r="1.27" fill="#ffe4e4"/><circle cx="239.3" cy="193.98" r="1.27" fill="#ffe4e4"/><circle cx="240.3" cy="195.60" r="1.27" fill="#ffe4e4"/><circle cx="241.3" cy="197.23" r="1.27" fill="#ffe4e4"/><circle cx="242.4" cy="198.75" r="1.27" fill="#ffe4e4"/><circle cx="243.6" cy="200.23" r="1.27" fill="#ffe4e4"/><circle cx="244.8" cy="201.64" r="1.27" fill="#ffe4e4"/><circle cx="246.3" cy="202.83" r="1.27" fill="#ffe4e4"/><circle cx="247.9" cy="203.81" r="1.27" fill="#ffe4e4"/><circle cx="249.6" cy="204.62" r="1.27" fill="#ffe4e4"/><circle cx="251.4" cy="205.32" r="1.27" fill="#ffe4e4"/><circle cx="253.2" cy="205.92" r="1.27" fill="#ffe4e4"/><circle cx="255.0" cy="206.44" r="1.28" fill="#ffe4e4"/><circle cx="256.9" cy="206.88" r="1.28" fill="#ffe4e4"/><circle cx="258.8" cy="207.27" r="1.28" fill="#ffe4e4"/><circle cx="260.6" cy="207.56" r="1.28" fill="#ffe4e4"/><circle cx="262.5" cy="207.73" r="1.28" fill="#ffe4e4"/><circle cx="264.4" cy="207.87" r="1.28" fill="#ffe4e4"/><circle cx="266.4" cy="207.97" r="1.28" fill="#ffe4e4"/></g>
<polyline points="192.0,205.42 192.5,205.69 193.0,205.72 193.5,205.90 194.0,206.25 194.5,205.66 195.0,206.16 195.5,206.47 196.0,206.26 196.5,206.22 197.0,205.93 197.5,206.05 198.0,206.69 198.5,206.27 199.0,206.33 199.5,206.13 200.0,205.33 200.5,206.12 201.0,206.15 201.5,205.85 202.0,206.71 202.5,206.44 203.0,205.43 203.5,205.97 204.0,205.56 204.5,204.90 205.0,204.79 205.5,206.12 206.0,206.10 206.5,205.55 207.0,206.70 207.5,206.21 208.0,205.98 208.5,206.03 209.0,205.85 209.5,206.28 210.0,205.73 210.5,206.15 211.0,205.44 211.5,205.37 212.0,206.34 212.5,205.52 213.0,205.89 213.5,205.33 214.0,205.73 214.5,205.44 215.0,205.42 215.5,205.67 216.0,205.81 216.5,205.54 217.0,206.24 217.5,205.71 218.0,205.35 218.5,205.57 219.0,205.64 219.5,205.80 220.0,205.11 220.5,204.61 221.0,204.57 221.5,204.39 222.0,205.62 222.5,204.22 223.0,205.55 223.5,204.92 224.0,205.05 224.5,203.88 225.0,204.28 225.5,204.79 226.0,203.83 226.5,204.68 227.0,204.04 227.5,203.57 228.0,203.92 228.5,203.02 229.0,202.91 229.5,202.68 230.0,201.59 230.5,201.98 231.0,201.94 231.5,201.50 232.0,201.29" fill="none" stroke="#111" stroke-width="0.7" stroke-opacity="0.85"/>
<path d="M77.9,194.7 L79.1,192.4 L80.4,194.7 Z" fill="#111"/>
<polyline points="50.0,199.34 50.5,199.21 51.0,198.84 51.5,198.82 52.0,198.59 52.5,198.32 53.0,198.43 53.5,198.43" fill="none" stroke="#555" stroke-width="1.0"/>
<polyline points="54.0,198.37 54.5,198.23 55.0,198.39 55.5,198.10 56.0,198.19 56.5,198.18 57.0,198.18 57.5,198.21 58.0,198.13 58.5,198.28 59.0,198.17 59.5,198.27 60.0,198.37 60.5,198.65 61.0,199.29 61.5,198.95 62.0,199.87 62.5,199.71 63.0,200.97 63.5,201.21 64.0,202.06 64.5,202.51 65.0,203.27 65.5,203.50 66.0,203.93 66.5,204.39 67.0,204.24 67.5,205.03 68.0,205.14 68.5,205.74 69.0,205.22 69.5,205.95 70.0,205.96 70.5,206.13 71.0,206.28 71.5,207.27 72.0,206.76 72.5,207.11 73.0,206.95 73.5,206.76 74.0,207.87 74.5,208.39 75.0,208.10 75.5,207.96 76.0,208.32 76.5,209.04 77.0,208.90 77.5,209.62 78.0,209.11 78.5,209.91 79.0,209.20 79.5,209.79 80.0,209.54 80.5,210.55 81.0,210.68 81.5,210.75 82.0,210.76 82.5,210.85 83.0,210.83 83.5,211.21 84.0,211.30 84.5,211.77 85.0,211.39 85.5,211.17 86.0,212.10 86.5,212.11 87.0,212.61 87.5,212.50 88.0,212.73 88.5,212.25 89.0,213.01 89.5,212.98 90.0,213.50 90.5,213.17 91.0,213.11 91.5,212.77 92.0,213.38 92.5,213.73 93.0,213.21 93.5,213.03 94.0,213.41 94.5,213.05 95.0,213.45 95.5,213.21 96.0,213.48 96.5,213.35 97.0,213.10 97.5,213.21 98.0,212.58 98.5,212.88 99.0,212.55 99.5,212.52 100.0,212.77 100.5,211.99 101.0,212.06 101.5,211.85 102.0,211.70 102.5,211.21 103.0,211.31 103.5,211.16 104.0,210.25 104.5,209.97 105.0,209.91 105.5,209.65 106.0,208.77 106.5,208.38" fill="none" stroke="#1a1a1a" stroke-width="1.45" stroke-linejoin="round"/>
<polyline points="117.0,209.16 117.5,209.54 118.0,209.33 118.5,209.92 119.0,209.86 119.5,210.11 120.0,210.17 120.5,210.35 121.0,210.58 121.5,210.98 122.0,211.33 122.5,211.23 123.0,211.85 123.5,211.61 124.0,212.16 124.5,212.49 125.0,212.74 125.5,212.78 126.0,212.87 126.5,213.11 127.0,212.79 127.5,213.48 128.0,213.40 128.5,213.07 129.0,213.62 129.5,213.82 130.0,214.13 130.5,213.97 131.0,214.27 131.5,214.02 132.0,214.20 132.5,214.68 133.0,215.05 133.5,214.85 134.0,215.21 134.5,215.12 135.0,215.98 135.5,215.48 136.0,215.68 136.5,216.34 137.0,216.27 137.5,216.06 138.0,216.38 138.5,216.25 139.0,216.70 139.5,216.17 140.0,216.30 140.5,216.63 141.0,216.64 141.5,216.54 142.0,216.92 142.5,217.12 143.0,217.41 143.5,217.82 144.0,217.29 144.5,216.88 145.0,217.61 145.5,217.25 146.0,217.48 146.5,217.50 147.0,217.49 147.5,217.88 148.0,218.15 148.5,218.14 149.0,217.97 149.5,218.28 150.0,218.37 150.5,218.31 151.0,217.81 151.5,218.25 152.0,217.85 152.5,218.52 153.0,217.96 153.5,218.53 154.0,218.64 154.5,218.76 155.0,218.96 155.5,218.34 156.0,217.99 156.5,218.55 157.0,218.85 157.5,218.41 158.0,218.69 158.5,218.78 159.0,218.90 159.5,218.12 160.0,218.66 160.5,218.82 161.0,218.44 161.5,219.20 162.0,218.84 162.5,218.48 163.0,218.81 163.5,218.37 164.0,218.42 164.5,218.04 165.0,218.09 165.5,217.64 166.0,217.51 166.5,217.75 167.0,217.33 167.5,217.18 168.0,217.36 168.5,217.38 169.0,216.62 169.5,216.27 170.0,215.61" fill="none" stroke="#1a1a1a" stroke-width="1.45" stroke-linejoin="round"/>
<polyline points="180.5,217.29 181.0,217.34 181.5,217.67 182.0,217.76 182.5,218.09 183.0,217.98 183.5,217.85 184.0,218.19 184.5,218.03 185.0,218.14 185.5,218.86 186.0,218.99 186.5,218.92 187.0,219.39 187.5,219.06 188.0,219.53 188.5,219.02 189.0,219.88 189.5,219.35 190.0,220.07 190.5,220.01 191.0,220.73 191.5,220.17 192.0,220.27 192.5,219.77 193.0,219.91 193.5,220.12 194.0,220.19 194.5,220.15 195.0,220.39 195.5,220.50 196.0,219.91 196.5,220.81 197.0,220.98 197.5,220.75 198.0,220.21 198.5,220.53 199.0,220.72 199.5,220.30 200.0,220.38 200.5,219.90 201.0,221.29 201.5,221.40 202.0,220.06 202.5,220.14 203.0,220.54 203.5,220.35 204.0,220.27 204.5,220.91 205.0,220.02 205.5,220.20 206.0,220.40 206.5,220.09 207.0,219.43 207.5,220.05 208.0,221.14 208.5,220.46 209.0,220.61 209.5,220.28 210.0,221.04 210.5,219.65 211.0,220.72 211.5,220.60 212.0,220.59 212.5,219.89 213.0,220.47 213.5,220.20 214.0,220.23 214.5,220.46 215.0,219.68 215.5,219.97 216.0,219.67 216.5,220.18 217.0,220.65 217.5,220.53 218.0,219.61 218.5,220.10 219.0,220.31 219.5,219.42 220.0,220.25 220.5,219.89 221.0,219.94 221.5,218.91 222.0,219.82 222.5,220.10 223.0,218.98 223.5,219.23 224.0,218.82 224.5,218.79 225.0,218.09 225.5,218.86 226.0,218.43 226.5,218.93 227.0,218.75 227.5,218.08 228.0,217.48 228.5,217.78 229.0,217.65 229.5,217.56 230.0,217.49 230.5,215.82 231.0,215.89 231.5,215.71 232.0,215.66 232.5,214.27 233.0,214.05 233.5,214.14 234.0,212.88" fill="none" stroke="#1a1a1a" stroke-width="1.45" stroke-linejoin="round"/>
<polyline points="244.5,214.21 245.0,215.35 245.5,215.37 246.0,216.19 246.5,216.39 247.0,216.35 247.5,216.86 248.0,217.70 248.5,217.25 249.0,218.21 249.5,218.14 250.0,219.00 250.5,219.43 251.0,218.63 251.5,221.54 252.0,220.11 252.5,219.47 253.0,219.80 253.5,219.62 254.0,220.79 254.5,220.49 255.0,220.29 255.5,220.75 256.0,219.83 256.5,219.53 257.0,220.26 257.5,220.76 258.0,220.36 258.5,220.36 259.0,221.01 259.5,221.27 260.0,219.26 260.5,220.10 261.0,220.48 261.5,220.65 262.0,219.64 262.5,219.28 263.0,220.45 263.5,219.77 264.0,219.83 264.5,220.36 265.0,218.91 265.5,220.75 266.0,219.63 266.5,221.03 267.0,219.62 267.5,220.46 268.0,219.48 268.5,220.73 269.0,219.71 269.5,223.18 270.0,221.23 270.5,220.24 271.0,220.82 271.5,220.10 272.0,220.34 272.5,219.47 273.0,220.10 273.5,221.17 274.0,220.17 274.5,220.45 275.0,219.44 275.5,219.23 276.0,219.99 276.5,220.25 277.0,220.37 277.5,220.08 278.0,220.32 278.5,219.88 279.0,219.79 279.5,220.20 280.0,220.09 280.5,218.83 281.0,219.71 281.5,220.30 282.0,220.31 282.5,219.96 283.0,218.72 283.5,220.86 284.0,219.84 284.5,219.95 285.0,221.78 285.5,219.65 286.0,220.50 286.5,219.16 287.0,220.29 287.5,220.21 288.0,219.91 288.5,219.50 289.0,220.20 289.5,220.08 290.0,221.36 290.5,220.48 291.0,220.42 291.5,220.66 292.0,220.49 292.5,220.65 293.0,220.74 293.5,220.66 294.0,220.94 294.5,219.61 295.0,219.89 295.5,218.52 296.0,219.44 296.5,219.06 297.0,219.70 297.5,218.00 298.0,218.70 298.5,218.21 299.0,217.52 299.5,217.69 300.0,217.64 300.5,218.46 301.0,217.03 301.5,216.86 302.0,216.94 302.5,216.53 303.0,217.32 303.5,216.55 304.0,216.57 304.5,217.32 305.0,216.25 305.5,217.69 306.0,217.28 306.5,217.92 307.0,218.25 307.5,218.37 308.0,219.03 308.5,218.62 309.0,219.42 309.5,219.61 310.0,219.42 310.5,219.48 311.0,219.60 311.5,220.39 312.0,220.88 312.5,219.79 313.0,220.38 313.5,220.49 314.0,220.67 314.5,220.03 315.0,220.26 315.5,220.28 316.0,220.69 316.5,220.24 317.0,220.05 317.5,220.88 318.0,220.54 318.5,221.38 319.0,220.73 319.5,220.11 320.0,221.14 320.5,220.52 321.0,220.03 321.5,221.28 322.0,220.40 322.5,220.05 323.0,220.55 323.5,220.80 324.0,220.37 324.5,220.57 325.0,220.89 325.5,220.68 326.0,219.70 326.5,220.34 327.0,220.53 327.5,220.08 328.0,221.23 328.5,220.62 329.0,220.29 329.5,221.30 330.0,219.47 330.5,220.65 331.0,220.15 331.5,220.73 332.0,221.50 332.5,220.82 333.0,220.00 333.5,219.92 334.0,221.30 334.5,220.12 335.0,221.44 335.5,220.66 336.0,220.98 336.5,220.43 337.0,220.95 337.5,220.17 338.0,221.03 338.5,220.00 339.0,219.86 339.5,220.08 340.0,219.94 340.5,220.07 341.0,220.31 341.5,220.03 342.0,220.50 342.5,221.21 343.0,220.72 343.5,220.80 344.0,220.53 344.5,220.63 345.0,219.99 345.5,219.90 346.0,220.82 346.5,220.29 347.0,220.02 347.5,220.58 348.0,220.30 348.5,221.13 349.0,220.11 349.5,220.03 350.0,220.12 350.5,220.85 351.0,220.85 351.5,221.19" fill="none" stroke="#1a1a1a" stroke-width="1.45" stroke-linejoin="round"/>
<g stroke="#ff4040" stroke-width="0.65"><circle cx="55.0" cy="198.20" r="1.20" fill="#ffcdcd"/><circle cx="56.4" cy="198.20" r="1.20" fill="#ffcdcd"/><circle cx="57.8" cy="198.20" r="1.20" fill="#ffcdcd"/><circle cx="59.2" cy="198.20" r="1.20" fill="#ffcdcd"/><circle cx="60.5" cy="198.70" r="1.20" fill="#ffcdcd"/><circle cx="61.6" cy="199.50" r="1.20" fill="#ffcdcd"/><circle cx="62.6" cy="200.52" r="1.20" fill="#ffcdcd"/><circle cx="63.6" cy="201.53" r="1.20" fill="#ffcdcd"/><circle cx="64.5" cy="202.54" r="1.20" fill="#ffcdcd"/><circle cx="65.6" cy="203.45" r="1.20" fill="#ffcdcd"/><circle cx="66.8" cy="204.25" r="1.20" fill="#ffcdcd"/><circle cx="68.0" cy="204.97" r="1.20" fill="#ffcdcd"/><circle cx="69.2" cy="205.63" r="1.20" fill="#ffcdcd"/><circle cx="70.5" cy="206.22" r="1.20" fill="#ffcdcd"/><circle cx="71.7" cy="206.79" r="1.20" fill="#ffcdcd"/><circle cx="73.0" cy="207.35" r="1.20" fill="#ffcdcd"/><circle cx="74.3" cy="207.90" r="1.20" fill="#ffcdcd"/><circle cx="75.6" cy="208.44" r="1.20" fill="#ffcdcd"/><circle cx="76.9" cy="208.96" r="1.20" fill="#ffcdcd"/><circle cx="78.2" cy="209.46" r="1.20" fill="#ffcdcd"/><circle cx="79.5" cy="209.94" r="1.20" fill="#ffcdcd"/><circle cx="80.8" cy="210.39" r="1.20" fill="#ffcece"/><circle cx="82.2" cy="210.85" r="1.20" fill="#ffd0d0"/><circle cx="83.6" cy="211.29" r="1.20" fill="#ffd1d1"/><circle cx="85.0" cy="211.64" r="1.20" fill="#ffd3d3"/><circle cx="86.5" cy="211.90" r="1.20" fill="#ffd4d4"/><circle cx="88.0" cy="212.13" r="1.20" fill="#ffd6d6"/><circle cx="89.5" cy="212.28" r="1.20" fill="#ffd8d8"/><circle cx="91.1" cy="212.30" r="1.20" fill="#ffdada"/><circle cx="92.7" cy="212.28" r="1.21" fill="#ffdcdc"/><circle cx="94.4" cy="212.23" r="1.21" fill="#ffdede"/><circle cx="96.1" cy="212.15" r="1.22" fill="#ffdfdf"/><circle cx="97.8" cy="211.87" r="1.22" fill="#ffe1e1"/><circle cx="99.5" cy="211.45" r="1.22" fill="#ffe3e3"/><circle cx="101.2" cy="211.00" r="1.23" fill="#ffe4e4"/><circle cx="102.9" cy="210.46" r="1.23" fill="#ffe4e4"/><circle cx="104.6" cy="209.74" r="1.24" fill="#ffe4e4"/><circle cx="106.0" cy="208.68" r="1.24" fill="#ffe4e4"/><circle cx="107.3" cy="207.40" r="1.24" fill="#ffe4e4"/><circle cx="108.4" cy="205.99" r="1.25" fill="#ffe4e4"/><circle cx="109.4" cy="204.45" r="1.25" fill="#ffe4e4"/><circle cx="110.0" cy="202.78" r="1.25" fill="#ffe4e4"/><circle cx="110.6" cy="201.05" r="1.25" fill="#ffe4e4"/><circle cx="111.6" cy="198.80" r="1.25" fill="#ffe4e4"/><circle cx="112.1" cy="199.68" r="1.25" fill="#ffe4e4"/><circle cx="112.6" cy="201.43" r="1.25" fill="#ffe4e4"/><circle cx="113.0" cy="203.20" r="1.25" fill="#ffe4e4"/><circle cx="113.5" cy="204.93" r="1.25" fill="#ffe4e4"/><circle cx="114.4" cy="206.49" r="1.25" fill="#ffe4e4"/><circle cx="115.5" cy="207.91" r="1.25" fill="#ffe4e4"/><circle cx="116.9" cy="209.03" r="1.25" fill="#ffe4e4"/><circle cx="118.6" cy="209.76" r="1.25" fill="#ffe4e4"/><circle cx="120.3" cy="210.38" r="1.25" fill="#ffe4e4"/><circle cx="122.0" cy="211.13" r="1.25" fill="#ffe4e4"/><circle cx="123.6" cy="211.93" r="1.25" fill="#ffe4e4"/><circle cx="125.2" cy="212.66" r="1.25" fill="#ffe4e4"/><circle cx="127.0" cy="213.23" r="1.25" fill="#ffe4e4"/><circle cx="128.7" cy="213.71" r="1.25" fill="#ffe4e4"/><circle cx="130.5" cy="214.15" r="1.25" fill="#ffe4e4"/><circle cx="132.3" cy="214.58" r="1.25" fill="#ffe4e4"/><circle cx="134.0" cy="214.98" r="1.25" fill="#ffe4e4"/><circle cx="135.8" cy="215.32" r="1.25" fill="#ffe4e4"/><circle cx="137.6" cy="215.58" r="1.25" fill="#ffe4e4"/><circle cx="139.4" cy="215.81" r="1.26" fill="#ffe4e4"/><circle cx="141.2" cy="216.08" r="1.26" fill="#ffe4e4"/><circle cx="143.0" cy="216.43" r="1.26" fill="#ffe4e4"/><circle cx="144.8" cy="216.77" r="1.26" fill="#ffe4e4"/><circle cx="146.7" cy="216.98" r="1.26" fill="#ffe4e4"/><circle cx="148.5" cy="217.12" r="1.26" fill="#ffe4e4"/><circle cx="150.3" cy="217.25" r="1.26" fill="#ffe4e4"/><circle cx="152.1" cy="217.44" r="1.26" fill="#ffe4e4"/><circle cx="154.0" cy="217.67" r="1.26" fill="#ffe4e4"/><circle cx="155.8" cy="217.79" r="1.26" fill="#ffe4e4"/><circle cx="157.6" cy="217.79" r="1.26" fill="#ffe4e4"/><circle cx="159.5" cy="217.78" r="1.26" fill="#ffe4e4"/><circle cx="161.3" cy="217.77" r="1.26" fill="#ffe4e4"/><circle cx="163.1" cy="217.62" r="1.26" fill="#ffe4e4"/><circle cx="164.9" cy="217.31" r="1.26" fill="#ffe4e4"/><circle cx="166.7" cy="216.88" r="1.26" fill="#ffe4e4"/><circle cx="168.4" cy="216.09" r="1.26" fill="#ffe4e4"/><circle cx="169.9" cy="215.04" r="1.26" fill="#ffe4e4"/><circle cx="171.2" cy="213.68" r="1.26" fill="#ffe4e4"/><circle cx="172.2" cy="212.15" r="1.26" fill="#ffe4e4"/><circle cx="173.0" cy="210.50" r="1.26" fill="#ffe4e4"/><circle cx="173.8" cy="208.81" r="1.26" fill="#ffe4e4"/><circle cx="174.4" cy="207.05" r="1.26" fill="#ffe4e4"/><circle cx="175.2" cy="205.30" r="1.26" fill="#ffe4e4"/><circle cx="175.8" cy="206.91" r="1.26" fill="#ffe4e4"/><circle cx="176.1" cy="208.73" r="1.26" fill="#ffe4e4"/><circle cx="176.4" cy="210.55" r="1.26" fill="#ffe4e4"/><circle cx="176.9" cy="212.34" r="1.26" fill="#ffe4e4"/><circle cx="177.4" cy="214.12" r="1.26" fill="#ffe4e4"/><circle cx="178.2" cy="215.74" r="1.26" fill="#ffe4e4"/><circle cx="179.8" cy="216.72" r="1.26" fill="#ffe4e4"/><circle cx="181.5" cy="217.41" r="1.26" fill="#ffe4e4"/><circle cx="183.3" cy="218.03" r="1.26" fill="#ffe4e4"/><circle cx="185.0" cy="218.55" r="1.26" fill="#ffe4e4"/><circle cx="186.8" cy="219.03" r="1.26" fill="#ffe4e4"/><circle cx="188.6" cy="219.49" r="1.26" fill="#ffe4e4"/><circle cx="190.5" cy="219.87" r="1.26" fill="#ffe4e4"/><circle cx="192.3" cy="220.12" r="1.26" fill="#ffe4e4"/><circle cx="194.2" cy="220.30" r="1.26" fill="#ffe4e4"/><circle cx="196.0" cy="220.47" r="1.26" fill="#ffe4e4"/><circle cx="197.8" cy="220.76" r="1.27" fill="#ffe4e4"/><circle cx="199.7" cy="221.08" r="1.27" fill="#ffe4e4"/><circle cx="201.5" cy="221.20" r="1.27" fill="#ffe4e4"/><circle cx="203.4" cy="221.18" r="1.27" fill="#ffe4e4"/><circle cx="205.3" cy="221.15" r="1.27" fill="#ffe4e4"/><circle cx="207.2" cy="221.11" r="1.27" fill="#ffe4e4"/><circle cx="209.0" cy="221.06" r="1.27" fill="#ffe4e4"/><circle cx="210.9" cy="221.00" r="1.27" fill="#ffe4e4"/><circle cx="212.8" cy="220.94" r="1.27" fill="#ffe4e4"/><circle cx="214.6" cy="220.87" r="1.27" fill="#ffe4e4"/><circle cx="216.5" cy="220.78" r="1.27" fill="#ffe4e4"/><circle cx="218.4" cy="220.67" r="1.27" fill="#ffe4e4"/><circle cx="220.3" cy="220.52" r="1.27" fill="#ffe4e4"/><circle cx="222.1" cy="220.32" r="1.27" fill="#ffe4e4"/><circle cx="224.0" cy="219.99" r="1.27" fill="#ffe4e4"/><circle cx="225.8" cy="219.52" r="1.27" fill="#ffe4e4"/><circle cx="227.6" cy="218.90" r="1.27" fill="#ffe4e4"/><circle cx="229.3" cy="218.05" r="1.27" fill="#ffe4e4"/><circle cx="230.9" cy="217.03" r="1.27" fill="#ffe4e4"/><circle cx="232.3" cy="215.86" r="1.27" fill="#ffe4e4"/><circle cx="233.6" cy="214.50" r="1.27" fill="#ffe4e4"/><circle cx="234.8" cy="213.04" r="1.27" fill="#ffe4e4"/><circle cx="235.9" cy="211.49" r="1.27" fill="#ffe4e4"/><circle cx="236.9" cy="209.89" r="1.27" fill="#ffe4e4"/><circle cx="237.8" cy="208.24" r="1.27" fill="#ffe4e4"/><circle cx="239.0" cy="206.00" r="1.27" fill="#ffe4e4"/><circle cx="239.8" cy="206.98" r="1.27" fill="#ffe4e4"/><circle cx="240.8" cy="208.62" r="1.27" fill="#ffe4e4"/><circle cx="241.7" cy="210.29" r="1.27" fill="#ffe4e4"/><circle cx="242.7" cy="211.90" r="1.27" fill="#ffe4e4"/><circle cx="243.8" cy="213.42" r="1.27" fill="#ffe4e4"/><circle cx="244.9" cy="214.91" r="1.27" fill="#ffe4e4"/><circle cx="246.3" cy="216.28" r="1.27" fill="#ffe4e4"/><circle cx="247.8" cy="217.41" r="1.27" fill="#ffe4e4"/><circle cx="249.4" cy="218.34" r="1.27" fill="#ffe4e4"/><circle cx="251.2" cy="219.13" r="1.27" fill="#ffe4e4"/><circle cx="252.9" cy="219.81" r="1.27" fill="#ffe4e4"/><circle cx="254.7" cy="220.40" r="1.27" fill="#ffe4e4"/><circle cx="256.6" cy="220.89" r="1.28" fill="#ffe4e4"/><circle cx="258.4" cy="221.32" r="1.28" fill="#ffe4e4"/><circle cx="260.3" cy="221.68" r="1.28" fill="#ffe4e4"/><circle cx="262.2" cy="221.92" r="1.28" fill="#ffe4e4"/><circle cx="264.1" cy="222.08" r="1.28" fill="#ffe4e4"/><circle cx="266.0" cy="222.21" r="1.28" fill="#ffe4e4"/></g>
<polyline points="192.0,220.27 192.5,219.77 193.0,219.91 193.5,220.12 194.0,220.19 194.5,220.15 195.0,220.39 195.5,220.50 196.0,219.91 196.5,220.81 197.0,220.98 197.5,220.75 198.0,220.21 198.5,220.53 199.0,220.72 199.5,220.30 200.0,220.38 200.5,219.90 201.0,221.29 201.5,221.40 202.0,220.06 202.5,220.14 203.0,220.54 203.5,220.35 204.0,220.27 204.5,220.91 205.0,220.02 205.5,220.20 206.0,220.40 206.5,220.09 207.0,219.43 207.5,220.05 208.0,221.14 208.5,220.46 209.0,220.61 209.5,220.28 210.0,221.04 210.5,219.65 211.0,220.72 211.5,220.60 212.0,220.59 212.5,219.89 213.0,220.47 213.5,220.20 214.0,220.23 214.5,220.46 215.0,219.68 215.5,219.97 216.0,219.67 216.5,220.18 217.0,220.65 217.5,220.53 218.0,219.61 218.5,220.10 219.0,220.31 219.5,219.42 220.0,220.25 220.5,219.89 221.0,219.94 221.5,218.91 222.0,219.82 222.5,220.10 223.0,218.98 223.5,219.23 224.0,218.82 224.5,218.79 225.0,218.09 225.5,218.86 226.0,218.43 226.5,218.93 227.0,218.75 227.5,218.08 228.0,217.48 228.5,217.78 229.0,217.65 229.5,217.56 230.0,217.49 230.5,215.82 231.0,215.89 231.5,215.71 232.0,215.66" fill="none" stroke="#111" stroke-width="0.7" stroke-opacity="0.85"/>
<path d="M77.9,209.0 L79.1,206.7 L80.4,209.0 Z" fill="#111"/>
<polyline points="50.0,213.52 50.5,213.08 51.0,213.01 51.5,212.74 52.0,212.63 52.5,212.41 53.0,212.56 53.5,212.50" fill="none" stroke="#555" stroke-width="1.0"/>
<polyline points="54.0,212.42 54.5,212.27 55.0,212.23 55.5,212.24 56.0,212.32 56.5,212.12 57.0,212.25 57.5,212.45 58.0,212.16 58.5,212.05 59.0,212.24 59.5,212.43 60.0,211.98 60.5,212.87 61.0,213.19 61.5,213.07 62.0,213.60 62.5,214.04 63.0,214.66 63.5,215.51 64.0,215.89 64.5,216.71 65.0,216.97 65.5,217.71 66.0,217.62 66.5,218.12 67.0,218.64 67.5,218.75 68.0,219.19 68.5,219.28 69.0,219.85 69.5,219.31 70.0,219.84 70.5,220.17 71.0,220.70 71.5,220.63 72.0,221.26 72.5,220.91 73.0,221.17 73.5,221.83 74.0,221.64 74.5,221.51 75.0,222.02 75.5,223.01 76.0,222.18 76.5,222.54 77.0,223.14 77.5,222.93 78.0,223.85 78.5,223.23 79.0,223.85 79.5,223.78 80.0,223.87 80.5,224.00 81.0,224.77 81.5,224.61 82.0,224.34 82.5,225.14 83.0,224.73 83.5,225.26 84.0,224.79 84.5,225.91 85.0,225.78 85.5,225.52 86.0,225.69 86.5,226.53 87.0,226.72 87.5,226.54 88.0,226.60 88.5,226.40 89.0,226.78 89.5,227.02 90.0,226.24 90.5,227.00 91.0,226.53 91.5,226.60 92.0,227.02 92.5,227.53 93.0,227.18 93.5,227.27 94.0,227.38 94.5,227.09 95.0,227.01 95.5,227.23 96.0,227.33 96.5,226.80 97.0,226.81 97.5,227.06 98.0,227.11 98.5,226.77 99.0,226.60 99.5,226.62 100.0,226.19 100.5,226.01 101.0,226.41 101.5,226.10 102.0,225.56 102.5,225.35 103.0,225.34 103.5,224.84 104.0,224.47 104.5,224.48 105.0,223.79 105.5,223.28 106.0,222.88 106.5,222.14" fill="none" stroke="#1a1a1a" stroke-width="1.45" stroke-linejoin="round"/>
<polyline points="117.0,223.13 117.5,222.85 118.0,223.68 118.5,223.94 119.0,223.79 119.5,223.89 120.0,224.24 120.5,225.00 121.0,224.34 121.5,224.22 122.0,224.77 122.5,225.50 123.0,225.47 123.5,225.63 124.0,225.64 124.5,226.16 125.0,226.49 125.5,226.17 126.0,227.05 126.5,227.37 127.0,227.06 127.5,226.79 128.0,228.11 128.5,227.67 129.0,227.81 129.5,227.89 130.0,227.71 130.5,227.48 131.0,228.00 131.5,228.66 132.0,228.63 132.5,228.62 133.0,228.30 133.5,229.04 134.0,228.79 134.5,229.16 135.0,229.72 135.5,229.74 136.0,229.43 136.5,229.23 137.0,229.90 137.5,229.83 138.0,230.27 138.5,230.29 139.0,230.68 139.5,230.28 140.0,230.22 140.5,230.80 141.0,230.39 141.5,230.53 142.0,231.03 142.5,231.28 143.0,231.08 143.5,230.95 144.0,230.87 144.5,230.73 145.0,231.55 145.5,231.32 146.0,231.17 146.5,231.57 147.0,231.37 147.5,231.89 148.0,231.31 148.5,232.13 149.0,231.78 149.5,231.84 150.0,232.00 150.5,231.59 151.0,232.03 151.5,231.94 152.0,231.92 152.5,232.32 153.0,232.10 153.5,232.72 154.0,232.30 154.5,232.54 155.0,232.50 155.5,232.70 156.0,232.70 156.5,232.22 157.0,232.72 157.5,232.55 158.0,232.82 158.5,232.40 159.0,232.88 159.5,232.80 160.0,232.43 160.5,232.37 161.0,232.78 161.5,232.70 162.0,232.47 162.5,232.91 163.0,232.64 163.5,232.58 164.0,232.33 164.5,232.07 165.0,231.94 165.5,231.32 166.0,231.93 166.5,231.91 167.0,231.18 167.5,231.63 168.0,231.33 168.5,230.79 169.0,230.36 169.5,230.25 170.0,230.64 170.5,230.07" fill="none" stroke="#1a1a1a" stroke-width="1.45" stroke-linejoin="round"/>
<polyline points="181.0,231.47 181.5,231.49 182.0,231.63 182.5,231.58 183.0,232.24 183.5,232.00 184.0,231.28 184.5,231.99 185.0,232.45 185.5,232.73 186.0,232.69 186.5,232.99 187.0,233.20 187.5,232.41 188.0,233.06 188.5,233.15 189.0,233.02 189.5,233.07 190.0,233.87 190.5,233.77 191.0,233.97 191.5,233.74 192.0,234.18 192.5,233.68 193.0,234.03 193.5,233.51 194.0,234.35 194.5,234.27 195.0,234.27 195.5,234.32 196.0,234.42 196.5,234.61 197.0,234.57 197.5,234.67 198.0,234.40 198.5,234.24 199.0,234.23 199.5,234.68 200.0,233.50 200.5,234.85 201.0,234.49 201.5,235.61 202.0,234.41 202.5,234.57 203.0,234.83 203.5,235.08 204.0,234.16 204.5,233.48 205.0,234.70 205.5,234.70 206.0,234.70 206.5,233.67 207.0,234.80 207.5,234.39 208.0,233.84 208.5,234.37 209.0,234.70 209.5,233.40 210.0,235.47 210.5,234.85 211.0,235.12 211.5,234.65 212.0,233.85 212.5,234.60 213.0,233.68 213.5,235.15 214.0,234.21 214.5,234.23 215.0,233.38 215.5,234.36 216.0,234.44 216.5,233.67 217.0,233.67 217.5,233.21 218.0,233.62 218.5,233.49 219.0,233.78 219.5,233.74 220.0,234.16 220.5,234.26 221.0,233.61 221.5,233.00 222.0,233.98 222.5,234.21 223.0,233.47 223.5,233.63 224.0,232.87 224.5,233.79 225.0,233.54 225.5,231.61 226.0,232.74 226.5,232.15 227.0,232.51 227.5,232.44 228.0,232.60 228.5,231.99 229.0,231.75 229.5,231.57 230.0,230.89 230.5,230.72 231.0,230.26 231.5,230.45 232.0,229.84 232.5,228.62 233.0,228.81 233.5,228.58 234.0,227.91 234.5,226.85" fill="none" stroke="#1a1a1a" stroke-width="1.45" stroke-linejoin="round"/>
<polyline points="245.0,226.47 245.5,228.41 246.0,229.31 246.5,229.58 247.0,229.87 247.5,230.63 248.0,230.11 248.5,231.68 249.0,233.64 249.5,232.11 250.0,231.88 250.5,232.24 251.0,232.83 251.5,233.01 252.0,233.65 252.5,233.32 253.0,232.72 253.5,234.21 254.0,233.55 254.5,234.30 255.0,234.42 255.5,235.90 256.0,233.80 256.5,233.42 257.0,234.21 257.5,233.40 258.0,234.85 258.5,234.47 259.0,234.42 259.5,234.11 260.0,234.17 260.5,233.96 261.0,232.93 261.5,233.92 262.0,233.86 262.5,234.46 263.0,233.60 263.5,234.25 264.0,234.45 264.5,234.43 265.0,233.81 265.5,234.04 266.0,233.79 266.5,234.06 267.0,234.40 267.5,234.08 268.0,234.33 268.5,234.34 269.0,234.68 269.5,234.61 270.0,234.63 270.5,234.76 271.0,234.26 271.5,234.18 272.0,234.47 272.5,234.91 273.0,234.50 273.5,234.96 274.0,234.47 274.5,233.77 275.0,234.13 275.5,234.43 276.0,234.36 276.5,233.74 277.0,234.08 277.5,234.03 278.0,233.44 278.5,234.56 279.0,234.56 279.5,234.49 280.0,233.22 280.5,233.75 281.0,233.77 281.5,233.99 282.0,233.49 282.5,234.82 283.0,234.36 283.5,233.93 284.0,233.81 284.5,233.26 285.0,234.46 285.5,234.18 286.0,234.22 286.5,234.51 287.0,233.70 287.5,233.13 288.0,235.16 288.5,233.99 289.0,234.55 289.5,233.65 290.0,234.57 290.5,235.10 291.0,234.53 291.5,233.75 292.0,234.10 292.5,233.60 293.0,234.28 293.5,234.77 294.0,234.60 294.5,234.04 295.0,234.25 295.5,234.03 296.0,233.29 296.5,233.36 297.0,233.76 297.5,234.27 298.0,233.27 298.5,233.10 299.0,232.20 299.5,232.66 300.0,231.33 300.5,231.87 301.0,231.72 301.5,231.33 302.0,230.90 302.5,230.73 303.0,231.55 303.5,231.23 304.0,230.87 304.5,231.12 305.0,230.49 305.5,230.73 306.0,230.58 306.5,230.81 307.0,231.28 307.5,232.21 308.0,231.71 308.5,233.05 309.0,232.67 309.5,233.68 310.0,233.04 310.5,235.03 311.0,233.89 311.5,233.87 312.0,234.15 312.5,233.90 313.0,234.02 313.5,233.78 314.0,237.30 314.5,233.79 315.0,234.65 315.5,234.64 316.0,234.26 316.5,234.71 317.0,234.80 317.5,234.72 318.0,233.69 318.5,234.86 319.0,234.76 319.5,234.49 320.0,234.13 320.5,234.26 321.0,233.31 321.5,234.86 322.0,233.61 322.5,234.94 323.0,234.54 323.5,235.03 324.0,233.89 324.5,234.06 325.0,234.33 325.5,233.39 326.0,233.84 326.5,234.61 327.0,235.35 327.5,233.85 328.0,234.76 328.5,234.09 329.0,234.44 329.5,234.71 330.0,234.28 330.5,234.37 331.0,234.26 331.5,234.35 332.0,234.53 332.5,234.68 333.0,234.19 333.5,234.16 334.0,234.15 334.5,233.97 335.0,234.49 335.5,234.85 336.0,234.92 336.5,233.86 337.0,234.10 337.5,234.29 338.0,234.48 338.5,234.91 339.0,234.26 339.5,233.88 340.0,234.90 340.5,234.84 341.0,234.39 341.5,234.21 342.0,232.52 342.5,234.18 343.0,233.68 343.5,234.24 344.0,234.29 344.5,234.51 345.0,234.77 345.5,235.66 346.0,234.28 346.5,234.41 347.0,234.89 347.5,233.96 348.0,234.66 348.5,234.70 349.0,234.21 349.5,234.99 350.0,233.84 350.5,234.51 351.0,234.13 351.5,234.31" fill="none" stroke="#1a1a1a" stroke-width="1.45" stroke-linejoin="round"/>
<g stroke="#ff4040" stroke-width="0.65"><circle cx="55.0" cy="212.20" r="1.20" fill="#ffcdcd"/><circle cx="56.4" cy="212.20" r="1.20" fill="#ffcdcd"/><circle cx="57.8" cy="212.20" r="1.20" fill="#ffcdcd"/><circle cx="59.2" cy="212.20" r="1.20" fill="#ffcdcd"/><circle cx="60.5" cy="212.67" r="1.20" fill="#ffcdcd"/><circle cx="61.7" cy="213.46" r="1.20" fill="#ffcdcd"/><circle cx="62.6" cy="214.47" r="1.20" fill="#ffcdcd"/><circle cx="63.6" cy="215.48" r="1.20" fill="#ffcdcd"/><circle cx="64.6" cy="216.49" r="1.20" fill="#ffcdcd"/><circle cx="65.6" cy="217.40" r="1.20" fill="#ffcdcd"/><circle cx="66.8" cy="218.20" r="1.20" fill="#ffcdcd"/><circle cx="68.0" cy="218.93" r="1.20" fill="#ffcdcd"/><circle cx="69.2" cy="219.59" r="1.20" fill="#ffcdcd"/><circle cx="70.5" cy="220.18" r="1.20" fill="#ffcdcd"/><circle cx="71.8" cy="220.75" r="1.20" fill="#ffcdcd"/><circle cx="73.0" cy="221.31" r="1.20" fill="#ffcdcd"/><circle cx="74.3" cy="221.86" r="1.20" fill="#ffcdcd"/><circle cx="75.6" cy="222.40" r="1.20" fill="#ffcdcd"/><circle cx="76.9" cy="222.91" r="1.20" fill="#ffcdcd"/><circle cx="78.2" cy="223.42" r="1.20" fill="#ffcdcd"/><circle cx="79.5" cy="223.90" r="1.20" fill="#ffcdcd"/><circle cx="80.9" cy="224.35" r="1.20" fill="#ffcece"/><circle cx="82.2" cy="224.81" r="1.20" fill="#ffd0d0"/><circle cx="83.6" cy="225.25" r="1.20" fill="#ffd1d1"/><circle cx="85.0" cy="225.61" r="1.20" fill="#ffd3d3"/><circle cx="86.5" cy="225.87" r="1.20" fill="#ffd4d4"/><circle cx="88.0" cy="226.10" r="1.20" fill="#ffd6d6"/><circle cx="89.5" cy="226.27" r="1.20" fill="#ffd8d8"/><circle cx="91.1" cy="226.30" r="1.20" fill="#ffdada"/><circle cx="92.8" cy="226.28" r="1.21" fill="#ffdcdc"/><circle cx="94.4" cy="226.24" r="1.21" fill="#ffdede"/><circle cx="96.1" cy="226.17" r="1.22" fill="#ffe0e0"/><circle cx="97.8" cy="225.91" r="1.22" fill="#ffe1e1"/><circle cx="99.5" cy="225.50" r="1.22" fill="#ffe3e3"/><circle cx="101.2" cy="225.05" r="1.23" fill="#ffe4e4"/><circle cx="103.0" cy="224.53" r="1.23" fill="#ffe4e4"/><circle cx="104.6" cy="223.84" r="1.24" fill="#ffe4e4"/><circle cx="106.1" cy="222.83" r="1.24" fill="#ffe4e4"/><circle cx="107.4" cy="221.57" r="1.24" fill="#ffe4e4"/><circle cx="108.6" cy="220.18" r="1.25" fill="#ffe4e4"/><circle cx="109.5" cy="218.66" r="1.25" fill="#ffe4e4"/><circle cx="110.2" cy="217.00" r="1.25" fill="#ffe4e4"/><circle cx="110.8" cy="215.27" r="1.25" fill="#ffe4e4"/><circle cx="111.3" cy="213.56" r="1.25" fill="#ffe4e4"/><circle cx="111.9" cy="212.80" r="1.25" fill="#ffe4e4"/><circle cx="112.8" cy="215.21" r="1.25" fill="#ffe4e4"/><circle cx="113.2" cy="216.97" r="1.25" fill="#ffe4e4"/><circle cx="113.7" cy="218.71" r="1.25" fill="#ffe4e4"/><circle cx="114.6" cy="220.29" r="1.25" fill="#ffe4e4"/><circle cx="115.6" cy="221.74" r="1.25" fill="#ffe4e4"/><circle cx="117.0" cy="222.91" r="1.25" fill="#ffe4e4"/><circle cx="118.7" cy="223.68" r="1.25" fill="#ffe4e4"/><circle cx="120.4" cy="224.28" r="1.25" fill="#ffe4e4"/><circle cx="122.0" cy="225.02" r="1.25" fill="#ffe4e4"/><circle cx="123.7" cy="225.82" r="1.25" fill="#ffe4e4"/><circle cx="125.3" cy="226.56" r="1.25" fill="#ffe4e4"/><circle cx="127.0" cy="227.15" r="1.25" fill="#ffe4e4"/><circle cx="128.8" cy="227.64" r="1.25" fill="#ffe4e4"/><circle cx="130.5" cy="228.08" r="1.25" fill="#ffe4e4"/><circle cx="132.3" cy="228.51" r="1.25" fill="#ffe4e4"/><circle cx="134.1" cy="228.91" r="1.25" fill="#ffe4e4"/><circle cx="135.9" cy="229.26" r="1.25" fill="#ffe4e4"/><circle cx="137.7" cy="229.54" r="1.25" fill="#ffe4e4"/><circle cx="139.5" cy="229.77" r="1.26" fill="#ffe4e4"/><circle cx="141.3" cy="230.02" r="1.26" fill="#ffe4e4"/><circle cx="143.1" cy="230.36" r="1.26" fill="#ffe4e4"/><circle cx="144.9" cy="230.71" r="1.26" fill="#ffe4e4"/><circle cx="146.7" cy="230.95" r="1.26" fill="#ffe4e4"/><circle cx="148.5" cy="231.10" r="1.26" fill="#ffe4e4"/><circle cx="150.4" cy="231.23" r="1.26" fill="#ffe4e4"/><circle cx="152.2" cy="231.40" r="1.26" fill="#ffe4e4"/><circle cx="154.0" cy="231.63" r="1.26" fill="#ffe4e4"/><circle cx="155.8" cy="231.79" r="1.26" fill="#ffe4e4"/><circle cx="157.7" cy="231.79" r="1.26" fill="#ffe4e4"/><circle cx="159.5" cy="231.79" r="1.26" fill="#ffe4e4"/><circle cx="161.3" cy="231.78" r="1.26" fill="#ffe4e4"/><circle cx="163.2" cy="231.67" r="1.26" fill="#ffe4e4"/><circle cx="165.0" cy="231.40" r="1.26" fill="#ffe4e4"/><circle cx="166.8" cy="231.02" r="1.26" fill="#ffe4e4"/><circle cx="168.5" cy="230.33" r="1.26" fill="#ffe4e4"/><circle cx="170.1" cy="229.34" r="1.26" fill="#ffe4e4"/><circle cx="171.4" cy="228.08" r="1.26" fill="#ffe4e4"/><circle cx="172.5" cy="226.57" r="1.26" fill="#ffe4e4"/><circle cx="173.4" cy="224.96" r="1.26" fill="#ffe4e4"/><circle cx="174.2" cy="223.28" r="1.26" fill="#ffe4e4"/><circle cx="174.8" cy="221.54" r="1.26" fill="#ffe4e4"/><circle cx="175.8" cy="219.50" r="1.26" fill="#ffe4e4"/><circle cx="176.2" cy="220.80" r="1.26" fill="#ffe4e4"/><circle cx="176.6" cy="222.62" r="1.26" fill="#ffe4e4"/><circle cx="176.9" cy="224.44" r="1.26" fill="#ffe4e4"/><circle cx="177.4" cy="226.23" r="1.26" fill="#ffe4e4"/><circle cx="177.9" cy="228.01" r="1.26" fill="#ffe4e4"/><circle cx="178.6" cy="229.69" r="1.26" fill="#ffe4e4"/><circle cx="180.2" cy="230.70" r="1.26" fill="#ffe4e4"/><circle cx="181.9" cy="231.37" r="1.26" fill="#ffe4e4"/><circle cx="183.6" cy="231.99" r="1.26" fill="#ffe4e4"/><circle cx="185.4" cy="232.51" r="1.26" fill="#ffe4e4"/><circle cx="187.2" cy="232.98" r="1.26" fill="#ffe4e4"/><circle cx="189.0" cy="233.44" r="1.26" fill="#ffe4e4"/><circle cx="190.8" cy="233.84" r="1.26" fill="#ffe4e4"/><circle cx="192.7" cy="234.10" r="1.26" fill="#ffe4e4"/><circle cx="194.5" cy="234.28" r="1.26" fill="#ffe4e4"/><circle cx="196.4" cy="234.45" r="1.26" fill="#ffe4e4"/><circle cx="198.2" cy="234.72" r="1.27" fill="#ffe4e4"/><circle cx="200.0" cy="235.04" r="1.27" fill="#ffe4e4"/><circle cx="201.9" cy="235.20" r="1.27" fill="#ffe4e4"/><circle cx="203.8" cy="235.19" r="1.27" fill="#ffe4e4"/><circle cx="205.6" cy="235.16" r="1.27" fill="#ffe4e4"/><circle cx="207.5" cy="235.12" r="1.27" fill="#ffe4e4"/><circle cx="209.4" cy="235.07" r="1.27" fill="#ffe4e4"/><circle cx="211.3" cy="235.01" r="1.27" fill="#ffe4e4"/><circle cx="213.1" cy="234.95" r="1.27" fill="#ffe4e4"/><circle cx="215.0" cy="234.88" r="1.27" fill="#ffe4e4"/><circle cx="216.9" cy="234.79" r="1.27" fill="#ffe4e4"/><circle cx="218.8" cy="234.68" r="1.27" fill="#ffe4e4"/><circle cx="220.6" cy="234.54" r="1.27" fill="#ffe4e4"/><circle cx="222.5" cy="234.35" r="1.27" fill="#ffe4e4"/><circle cx="224.4" cy="234.03" r="1.27" fill="#ffe4e4"/><circle cx="226.2" cy="233.58" r="1.27" fill="#ffe4e4"/><circle cx="228.0" cy="232.98" r="1.27" fill="#ffe4e4"/><circle cx="229.7" cy="232.15" r="1.27" fill="#ffe4e4"/><circle cx="231.2" cy="231.14" r="1.27" fill="#ffe4e4"/><circle cx="232.7" cy="229.98" r="1.27" fill="#ffe4e4"/><circle cx="234.1" cy="228.64" r="1.27" fill="#ffe4e4"/><circle cx="235.3" cy="227.18" r="1.27" fill="#ffe4e4"/><circle cx="236.3" cy="225.63" r="1.27" fill="#ffe4e4"/><circle cx="237.3" cy="224.01" r="1.27" fill="#ffe4e4"/><circle cx="238.2" cy="222.36" r="1.27" fill="#ffe4e4"/><circle cx="239.0" cy="220.64" r="1.27" fill="#ffe4e4"/><circle cx="239.8" cy="219.20" r="1.27" fill="#ffe4e4"/><circle cx="241.0" cy="221.01" r="1.27" fill="#ffe4e4"/><circle cx="241.8" cy="222.69" r="1.27" fill="#ffe4e4"/><circle cx="242.7" cy="224.38" r="1.27" fill="#ffe4e4"/><circle cx="243.7" cy="225.97" r="1.27" fill="#ffe4e4"/><circle cx="244.8" cy="227.52" r="1.27" fill="#ffe4e4"/><circle cx="246.0" cy="229.01" r="1.27" fill="#ffe4e4"/><circle cx="247.3" cy="230.36" r="1.27" fill="#ffe4e4"/><circle cx="248.9" cy="231.47" r="1.27" fill="#ffe4e4"/><circle cx="250.5" cy="232.41" r="1.27" fill="#ffe4e4"/><circle cx="252.3" cy="233.19" r="1.27" fill="#ffe4e4"/><circle cx="254.0" cy="233.87" r="1.27" fill="#ffe4e4"/><circle cx="255.8" cy="234.45" r="1.28" fill="#ffe4e4"/><circle cx="257.7" cy="234.93" r="1.28" fill="#ffe4e4"/><circle cx="259.5" cy="235.36" r="1.28" fill="#ffe4e4"/><circle cx="261.4" cy="235.72" r="1.28" fill="#ffe4e4"/><circle cx="263.3" cy="235.93" r="1.28" fill="#ffe4e4"/><circle cx="265.2" cy="236.10" r="1.28" fill="#ffe4e4"/></g>
<polyline points="192.0,234.18 192.5,233.68 193.0,234.03 193.5,233.51 194.0,234.35 194.5,234.27 195.0,234.27 195.5,234.32 196.0,234.42 196.5,234.61 197.0,234.57 197.5,234.67 198.0,234.40 198.5,234.24 199.0,234.23 199.5,234.68 200.0,233.50 200.5,234.85 201.0,234.49 201.5,235.61 202.0,234.41 202.5,234.57 203.0,234.83 203.5,235.08 204.0,234.16 204.5,233.48 205.0,234.70 205.5,234.70 206.0,234.70 206.5,233.67 207.0,234.80 207.5,234.39 208.0,233.84 208.5,234.37 209.0,234.70 209.5,233.40 210.0,235.47 210.5,234.85 211.0,235.12 211.5,234.65 212.0,233.85 212.5,234.60 213.0,233.68 213.5,235.15 214.0,234.21 214.5,234.23 215.0,233.38 215.5,234.36 216.0,234.44 216.5,233.67 217.0,233.67 217.5,233.21 218.0,233.62 218.5,233.49 219.0,233.78 219.5,233.74 220.0,234.16 220.5,234.26 221.0,233.61 221.5,233.00 222.0,233.98 222.5,234.21 223.0,233.47 223.5,233.63 224.0,232.87 224.5,233.79 225.0,233.54 225.5,231.61 226.0,232.74 226.5,232.15 227.0,232.51 227.5,232.44 228.0,232.60 228.5,231.99 229.0,231.75 229.5,231.57 230.0,230.89 230.5,230.72 231.0,230.26 231.5,230.45 232.0,229.84" fill="none" stroke="#111" stroke-width="0.7" stroke-opacity="0.85"/>
<path d="M77.9,223.0 L79.1,220.7 L80.4,223.0 Z" fill="#111"/>
<polyline points="50.0,226.91 50.5,226.74 51.0,226.59 51.5,226.50 52.0,226.17 52.5,226.15 53.0,226.18 53.5,226.15" fill="none" stroke="#555" stroke-width="1.0"/>
<polyline points="54.0,225.91 54.5,225.86 55.0,225.74 55.5,225.80 56.0,225.84 56.5,225.69 57.0,225.76 57.5,225.81 58.0,225.78 58.5,225.65 59.0,225.83 59.5,225.81 60.0,225.67 60.5,226.31 61.0,226.37 61.5,226.73 62.0,227.67 62.5,227.58 63.0,228.62 63.5,228.96 64.0,229.56 64.5,230.00 65.0,230.68 65.5,230.86 66.0,231.04 66.5,231.62 67.0,231.88 67.5,232.19 68.0,232.62 68.5,233.12 69.0,233.13 69.5,233.59 70.0,233.27 70.5,233.76 71.0,234.37 71.5,234.06 72.0,234.44 72.5,234.21 73.0,235.10 73.5,235.20 74.0,235.05 74.5,235.28 75.0,235.97 75.5,235.70 76.0,236.31 76.5,236.65 77.0,236.55 77.5,237.03 78.0,237.14 78.5,236.97 79.0,237.23 79.5,237.55 80.0,238.02 80.5,237.28 81.0,237.66 81.5,237.87 82.0,238.13 82.5,238.85 83.0,238.95 83.5,238.73 84.0,238.49 84.5,238.96 85.0,239.37 85.5,239.31 86.0,240.12 86.5,239.43 87.0,239.66 87.5,240.04 88.0,240.24 88.5,240.27 89.0,239.81 89.5,240.17 90.0,240.65 90.5,240.48 91.0,241.43 91.5,241.03 92.0,240.79 92.5,240.93 93.0,240.90 93.5,240.64 94.0,240.72 94.5,240.33 95.0,240.75 95.5,240.24 96.0,240.36 96.5,240.80 97.0,240.71 97.5,240.28 98.0,240.96 98.5,240.69 99.0,240.42 99.5,240.74 100.0,239.92 100.5,239.59 101.0,239.65 101.5,239.75 102.0,239.71 102.5,239.48 103.0,238.28 103.5,238.35 104.0,238.53 104.5,237.35 105.0,237.80 105.5,237.43 106.0,237.15 106.5,236.43 107.0,235.88" fill="none" stroke="#1a1a1a" stroke-width="1.45" stroke-linejoin="round"/>
<polyline points="117.5,236.76 118.0,236.75 118.5,237.06 119.0,237.74 119.5,237.64 120.0,237.28 120.5,238.17 121.0,238.22 121.5,238.21 122.0,238.65 122.5,238.51 123.0,239.20 123.5,239.27 124.0,239.33 124.5,239.68 125.0,239.87 125.5,240.28 126.0,240.13 126.5,240.39 127.0,240.61 127.5,241.23 128.0,240.52 128.5,241.20 129.0,240.96 129.5,241.29 130.0,241.48 130.5,241.61 131.0,241.92 131.5,242.07 132.0,241.51 132.5,242.26 133.0,241.89 133.5,242.16 134.0,242.65 134.5,243.06 135.0,242.82 135.5,243.08 136.0,243.35 136.5,243.16 137.0,243.03 137.5,243.89 138.0,244.01 138.5,243.67 139.0,244.02 139.5,243.80 140.0,244.18 140.5,243.98 141.0,244.84 141.5,244.10 142.0,244.55 142.5,244.71 143.0,244.31 143.5,245.06 144.0,244.67 144.5,245.20 145.0,245.12 145.5,244.84 146.0,244.98 146.5,245.25 147.0,245.41 147.5,245.46 148.0,245.52 148.5,246.00 149.0,245.47 149.5,244.84 150.0,245.39 150.5,245.29 151.0,245.64 151.5,245.27 152.0,245.65 152.5,245.60 153.0,245.63 153.5,246.07 154.0,246.05 154.5,246.12 155.0,246.15 155.5,245.55 156.0,246.21 156.5,246.45 157.0,246.45 157.5,245.95 158.0,245.83 158.5,246.40 159.0,246.13 159.5,246.25 160.0,246.15 160.5,246.48 161.0,245.99 161.5,245.84 162.0,246.30 162.5,246.25 163.0,245.95 163.5,246.27 164.0,245.95 164.5,246.20 165.0,245.76 165.5,245.66 166.0,245.27 166.5,245.67 167.0,245.15 167.5,245.55 168.0,245.15 168.5,244.52 169.0,244.74 169.5,244.27 170.0,243.32 170.5,243.32 171.0,242.72" fill="none" stroke="#1a1a1a" stroke-width="1.45" stroke-linejoin="round"/>
<polyline points="181.5,244.75 182.0,244.34 182.5,244.82 183.0,244.73 183.5,245.11 184.0,245.06 184.5,245.61 185.0,246.19 185.5,246.05 186.0,246.03 186.5,246.35 187.0,246.30 187.5,246.22 188.0,247.16 188.5,246.72 189.0,247.24 189.5,246.60 190.0,247.35 190.5,247.18 191.0,247.39 191.5,247.33 192.0,247.48 192.5,247.98 193.0,247.60 193.5,247.70 194.0,247.75 194.5,247.81 195.0,247.58 195.5,247.55 196.0,247.88 196.5,248.34 197.0,248.01 197.5,248.03 198.0,248.24 198.5,247.96 199.0,248.33 199.5,248.18 200.0,248.18 200.5,248.24 201.0,247.94 201.5,248.47 202.0,247.05 202.5,247.42 203.0,248.24 203.5,247.17 204.0,248.06 204.5,248.04 205.0,247.13 205.5,247.73 206.0,247.42 206.5,248.31 207.0,248.29 207.5,247.80 208.0,248.18 208.5,247.73 209.0,247.81 209.5,248.60 210.0,248.63 210.5,248.22 211.0,247.60 211.5,246.42 212.0,247.60 212.5,247.80 213.0,248.21 213.5,248.30 214.0,248.16 214.5,247.73 215.0,248.28 215.5,248.75 216.0,246.94 216.5,248.13 217.0,247.71 217.5,247.89 218.0,247.62 218.5,247.76 219.0,247.29 219.5,247.40 220.0,247.49 220.5,248.09 221.0,247.31 221.5,247.52 222.0,247.12 222.5,246.82 223.0,247.30 223.5,247.09 224.0,246.08 224.5,246.89 225.0,246.83 225.5,246.50 226.0,246.56 226.5,246.22 227.0,246.97 227.5,246.28 228.0,246.96 228.5,245.74 229.0,245.86 229.5,244.12 230.0,246.35 230.5,245.63 231.0,244.53 231.5,244.35 232.0,243.85 232.5,243.67 233.0,242.94 233.5,243.62 234.0,242.20 234.5,242.31 235.0,241.65 235.5,240.59" fill="none" stroke="#1a1a1a" stroke-width="1.45" stroke-linejoin="round"/>
<polyline points="246.0,242.25 246.5,241.21 247.0,243.16 247.5,243.51 248.0,243.44 248.5,243.84 249.0,243.86 249.5,244.27 250.0,245.43 250.5,245.02 251.0,246.39 251.5,245.50 252.0,246.61 252.5,245.76 253.0,246.50 253.5,246.79 254.0,246.73 254.5,246.86 255.0,247.76 255.5,247.24 256.0,249.66 256.5,246.99 257.0,248.10 257.5,247.78 258.0,248.98 258.5,246.96 259.0,247.18 259.5,248.20 260.0,247.67 260.5,247.19 261.0,247.73 261.5,248.18 262.0,250.01 262.5,247.68 263.0,247.58 263.5,248.33 264.0,247.07 264.5,247.89 265.0,247.96 265.5,248.56 266.0,247.97 266.5,248.11 267.0,248.43 267.5,248.06 268.0,248.47 268.5,248.42 269.0,247.92 269.5,247.55 270.0,248.12 270.5,247.41 271.0,247.36 271.5,248.54 272.0,247.24 272.5,247.90 273.0,248.64 273.5,247.69 274.0,247.62 274.5,248.40 275.0,246.47 275.5,248.00 276.0,247.78 276.5,247.24 277.0,248.60 277.5,247.72 278.0,248.14 278.5,247.71 279.0,248.13 279.5,247.82 280.0,247.62 280.5,247.60 281.0,247.49 281.5,246.45 282.0,248.13 282.5,248.02 283.0,247.17 283.5,247.83 284.0,247.58 284.5,247.88 285.0,247.44 285.5,247.67 286.0,246.96 286.5,247.47 287.0,247.94 287.5,247.93 288.0,248.11 288.5,248.04 289.0,248.41 289.5,248.37 290.0,248.41 290.5,248.36 291.0,248.03 291.5,248.24 292.0,247.98 292.5,247.79 293.0,248.28 293.5,249.12 294.0,247.74 294.5,247.65 295.0,247.85 295.5,247.79 296.0,247.83 296.5,247.53 297.0,246.99 297.5,247.62 298.0,248.23 298.5,246.78 299.0,246.88 299.5,246.90 300.0,245.06 300.5,245.61 301.0,245.57 301.5,245.35 302.0,244.47 302.5,244.55 303.0,244.37 303.5,244.43 304.0,244.06 304.5,244.75 305.0,245.75 305.5,243.84 306.0,243.87 306.5,244.75 307.0,244.66 307.5,244.48 308.0,244.78 308.5,245.13 309.0,245.63 309.5,245.64 310.0,247.11 310.5,247.65 311.0,247.26 311.5,248.03 312.0,246.94 312.5,247.80 313.0,247.38 313.5,248.76 314.0,247.82 314.5,248.25 315.0,248.54 315.5,247.26 316.0,248.32 316.5,248.27 317.0,248.27 317.5,248.52 318.0,248.14 318.5,247.63 319.0,247.88 319.5,247.22 320.0,247.38 320.5,246.23 321.0,247.81 321.5,247.53 322.0,246.75 322.5,247.48 323.0,247.84 323.5,248.28 324.0,248.39 324.5,247.97 325.0,247.79 325.5,248.62 326.0,248.15 326.5,248.16 327.0,248.10 327.5,247.98 328.0,247.57 328.5,248.25 329.0,247.28 329.5,248.56 330.0,248.73 330.5,249.29 331.0,248.63 331.5,247.59 332.0,247.63 332.5,248.23 333.0,248.04 333.5,248.50 334.0,247.41 334.5,248.28 335.0,249.87 335.5,247.91 336.0,247.75 336.5,247.86 337.0,248.16 337.5,248.47 338.0,247.66 338.5,248.07 339.0,247.60 339.5,248.02 340.0,247.70 340.5,248.62 341.0,247.57 341.5,247.65 342.0,248.48 342.5,248.12 343.0,247.78 343.5,247.45 344.0,248.51 344.5,247.42 345.0,248.54 345.5,248.86 346.0,248.44 346.5,247.68 347.0,248.00 347.5,247.32 348.0,247.65 348.5,247.68 349.0,247.66 349.5,248.10 350.0,248.25 350.5,248.24 351.0,247.22 351.5,249.23" fill="none" stroke="#1a1a1a" stroke-width="1.45" stroke-linejoin="round"/>
<g stroke="#ff4040" stroke-width="0.65"><circle cx="55.0" cy="225.80" r="1.20" fill="#ffcdcd"/><circle cx="56.4" cy="225.80" r="1.20" fill="#ffcdcd"/><circle cx="57.8" cy="225.80" r="1.20" fill="#ffcdcd"/><circle cx="59.2" cy="225.80" r="1.20" fill="#ffcdcd"/><circle cx="60.5" cy="226.24" r="1.20" fill="#ffcdcd"/><circle cx="61.7" cy="227.01" r="1.20" fill="#ffcdcd"/><circle cx="62.6" cy="228.02" r="1.20" fill="#ffcdcd"/><circle cx="63.6" cy="229.03" r="1.20" fill="#ffcdcd"/><circle cx="64.6" cy="230.04" r="1.20" fill="#ffcdcd"/><circle cx="65.6" cy="230.95" r="1.20" fill="#ffcdcd"/><circle cx="66.8" cy="231.76" r="1.20" fill="#ffcdcd"/><circle cx="68.0" cy="232.49" r="1.20" fill="#ffcdcd"/><circle cx="69.2" cy="233.15" r="1.20" fill="#ffcdcd"/><circle cx="70.5" cy="233.74" r="1.20" fill="#ffcdcd"/><circle cx="71.8" cy="234.31" r="1.20" fill="#ffcdcd"/><circle cx="73.1" cy="234.87" r="1.20" fill="#ffcdcd"/><circle cx="74.3" cy="235.42" r="1.20" fill="#ffcdcd"/><circle cx="75.6" cy="235.96" r="1.20" fill="#ffcdcd"/><circle cx="76.9" cy="236.47" r="1.20" fill="#ffcdcd"/><circle cx="78.2" cy="236.97" r="1.20" fill="#ffcdcd"/><circle cx="79.6" cy="237.46" r="1.20" fill="#ffcdcd"/><circle cx="80.9" cy="237.91" r="1.20" fill="#ffcece"/><circle cx="82.2" cy="238.36" r="1.20" fill="#ffd0d0"/><circle cx="83.6" cy="238.81" r="1.20" fill="#ffd1d1"/><circle cx="85.0" cy="239.18" r="1.20" fill="#ffd3d3"/><circle cx="86.5" cy="239.45" r="1.20" fill="#ffd4d4"/><circle cx="88.0" cy="239.68" r="1.20" fill="#ffd6d6"/><circle cx="89.6" cy="239.85" r="1.20" fill="#ffd8d8"/><circle cx="91.1" cy="239.90" r="1.20" fill="#ffdada"/><circle cx="92.8" cy="239.88" r="1.21" fill="#ffdcdc"/><circle cx="94.4" cy="239.84" r="1.21" fill="#ffdede"/><circle cx="96.1" cy="239.78" r="1.22" fill="#ffe0e0"/><circle cx="97.8" cy="239.55" r="1.22" fill="#ffe1e1"/><circle cx="99.5" cy="239.15" r="1.22" fill="#ffe3e3"/><circle cx="101.3" cy="238.70" r="1.23" fill="#ffe4e4"/><circle cx="103.0" cy="238.20" r="1.23" fill="#ffe4e4"/><circle cx="104.7" cy="237.54" r="1.24" fill="#ffe4e4"/><circle cx="106.2" cy="236.57" r="1.24" fill="#ffe4e4"/><circle cx="107.5" cy="235.33" r="1.24" fill="#ffe4e4"/><circle cx="108.7" cy="233.97" r="1.25" fill="#ffe4e4"/><circle cx="109.7" cy="232.46" r="1.25" fill="#ffe4e4"/><circle cx="110.4" cy="230.82" r="1.25" fill="#ffe4e4"/><circle cx="110.9" cy="229.09" r="1.25" fill="#ffe4e4"/><circle cx="111.5" cy="227.37" r="1.25" fill="#ffe4e4"/><circle cx="112.2" cy="226.40" r="1.25" fill="#ffe4e4"/><circle cx="113.0" cy="228.58" r="1.25" fill="#ffe4e4"/><circle cx="113.4" cy="230.34" r="1.25" fill="#ffe4e4"/><circle cx="113.9" cy="232.09" r="1.25" fill="#ffe4e4"/><circle cx="114.7" cy="233.69" r="1.25" fill="#ffe4e4"/><circle cx="115.8" cy="235.15" r="1.25" fill="#ffe4e4"/><circle cx="117.1" cy="236.38" r="1.25" fill="#ffe4e4"/><circle cx="118.7" cy="237.19" r="1.25" fill="#ffe4e4"/><circle cx="120.4" cy="237.79" r="1.25" fill="#ffe4e4"/><circle cx="122.1" cy="238.51" r="1.25" fill="#ffe4e4"/><circle cx="123.7" cy="239.30" r="1.25" fill="#ffe4e4"/><circle cx="125.4" cy="240.05" r="1.25" fill="#ffe4e4"/><circle cx="127.1" cy="240.66" r="1.25" fill="#ffe4e4"/><circle cx="128.8" cy="241.17" r="1.25" fill="#ffe4e4"/><circle cx="130.6" cy="241.61" r="1.25" fill="#ffe4e4"/><circle cx="132.4" cy="242.04" r="1.25" fill="#ffe4e4"/><circle cx="134.1" cy="242.45" r="1.25" fill="#ffe4e4"/><circle cx="135.9" cy="242.81" r="1.25" fill="#ffe4e4"/><circle cx="137.7" cy="243.09" r="1.25" fill="#ffe4e4"/><circle cx="139.5" cy="243.33" r="1.26" fill="#ffe4e4"/><circle cx="141.3" cy="243.57" r="1.26" fill="#ffe4e4"/><circle cx="143.1" cy="243.90" r="1.26" fill="#ffe4e4"/><circle cx="144.9" cy="244.25" r="1.26" fill="#ffe4e4"/><circle cx="146.7" cy="244.52" r="1.26" fill="#ffe4e4"/><circle cx="148.6" cy="244.67" r="1.26" fill="#ffe4e4"/><circle cx="150.4" cy="244.80" r="1.26" fill="#ffe4e4"/><circle cx="152.2" cy="244.95" r="1.26" fill="#ffe4e4"/><circle cx="154.0" cy="245.18" r="1.26" fill="#ffe4e4"/><circle cx="155.9" cy="245.36" r="1.26" fill="#ffe4e4"/><circle cx="157.7" cy="245.38" r="1.26" fill="#ffe4e4"/><circle cx="159.6" cy="245.37" r="1.26" fill="#ffe4e4"/><circle cx="161.4" cy="245.35" r="1.26" fill="#ffe4e4"/><circle cx="163.2" cy="245.26" r="1.26" fill="#ffe4e4"/><circle cx="165.0" cy="244.98" r="1.26" fill="#ffe4e4"/><circle cx="166.8" cy="244.57" r="1.26" fill="#ffe4e4"/><circle cx="168.6" cy="243.90" r="1.26" fill="#ffe4e4"/><circle cx="170.1" cy="242.88" r="1.26" fill="#ffe4e4"/><circle cx="171.5" cy="241.63" r="1.26" fill="#ffe4e4"/><circle cx="172.5" cy="240.12" r="1.26" fill="#ffe4e4"/><circle cx="173.4" cy="238.50" r="1.26" fill="#ffe4e4"/><circle cx="174.1" cy="236.80" r="1.26" fill="#ffe4e4"/><circle cx="174.8" cy="235.08" r="1.26" fill="#ffe4e4"/><circle cx="175.3" cy="233.30" r="1.26" fill="#ffe4e4"/><circle cx="175.9" cy="231.55" r="1.26" fill="#ffe4e4"/><circle cx="176.3" cy="230.90" r="1.26" fill="#ffe4e4"/><circle cx="177.0" cy="233.77" r="1.26" fill="#ffe4e4"/><circle cx="177.3" cy="235.60" r="1.26" fill="#ffe4e4"/><circle cx="177.6" cy="237.42" r="1.26" fill="#ffe4e4"/><circle cx="178.1" cy="239.21" r="1.26" fill="#ffe4e4"/><circle cx="178.6" cy="241.00" r="1.26" fill="#ffe4e4"/><circle cx="179.4" cy="242.62" r="1.26" fill="#ffe4e4"/><circle cx="180.9" cy="243.77" r="1.26" fill="#ffe4e4"/><circle cx="182.5" cy="244.63" r="1.26" fill="#ffe4e4"/><circle cx="184.2" cy="245.36" r="1.26" fill="#ffe4e4"/><circle cx="186.0" cy="245.96" r="1.26" fill="#ffe4e4"/><circle cx="187.7" cy="246.49" r="1.26" fill="#ffe4e4"/><circle cx="189.5" cy="246.98" r="1.26" fill="#ffe4e4"/><circle cx="191.3" cy="247.40" r="1.26" fill="#ffe4e4"/><circle cx="193.2" cy="247.68" r="1.26" fill="#ffe4e4"/><circle cx="195.0" cy="247.86" r="1.26" fill="#ffe4e4"/><circle cx="196.9" cy="248.03" r="1.26" fill="#ffe4e4"/><circle cx="198.7" cy="248.30" r="1.27" fill="#ffe4e4"/><circle cx="200.6" cy="248.63" r="1.27" fill="#ffe4e4"/><circle cx="202.4" cy="248.80" r="1.27" fill="#ffe4e4"/><circle cx="204.3" cy="248.79" r="1.27" fill="#ffe4e4"/><circle cx="206.2" cy="248.76" r="1.27" fill="#ffe4e4"/><circle cx="208.0" cy="248.72" r="1.27" fill="#ffe4e4"/><circle cx="209.9" cy="248.67" r="1.27" fill="#ffe4e4"/><circle cx="211.8" cy="248.61" r="1.27" fill="#ffe4e4"/><circle cx="213.7" cy="248.56" r="1.27" fill="#ffe4e4"/><circle cx="215.5" cy="248.49" r="1.27" fill="#ffe4e4"/><circle cx="217.4" cy="248.40" r="1.27" fill="#ffe4e4"/><circle cx="219.3" cy="248.29" r="1.27" fill="#ffe4e4"/><circle cx="221.2" cy="248.15" r="1.27" fill="#ffe4e4"/><circle cx="223.0" cy="247.97" r="1.27" fill="#ffe4e4"/><circle cx="224.9" cy="247.67" r="1.27" fill="#ffe4e4"/><circle cx="226.7" cy="247.23" r="1.27" fill="#ffe4e4"/><circle cx="228.5" cy="246.65" r="1.27" fill="#ffe4e4"/><circle cx="230.2" cy="245.85" r="1.27" fill="#ffe4e4"/><circle cx="231.8" cy="244.86" r="1.27" fill="#ffe4e4"/><circle cx="233.3" cy="243.72" r="1.27" fill="#ffe4e4"/><circle cx="234.7" cy="242.39" r="1.27" fill="#ffe4e4"/><circle cx="235.9" cy="240.95" r="1.27" fill="#ffe4e4"/><circle cx="237.0" cy="239.41" r="1.27" fill="#ffe4e4"/><circle cx="238.0" cy="237.80" r="1.27" fill="#ffe4e4"/><circle cx="238.9" cy="236.15" r="1.27" fill="#ffe4e4"/><circle cx="239.7" cy="234.44" r="1.27" fill="#ffe4e4"/><circle cx="240.6" cy="232.80" r="1.27" fill="#ffe4e4"/><circle cx="241.7" cy="234.42" r="1.27" fill="#ffe4e4"/><circle cx="242.5" cy="236.10" r="1.27" fill="#ffe4e4"/><circle cx="243.4" cy="237.79" r="1.27" fill="#ffe4e4"/><circle cx="244.4" cy="239.39" r="1.27" fill="#ffe4e4"/><circle cx="245.5" cy="240.94" r="1.27" fill="#ffe4e4"/><circle cx="246.7" cy="242.44" r="1.27" fill="#ffe4e4"/><circle cx="248.0" cy="243.82" r="1.27" fill="#ffe4e4"/><circle cx="249.5" cy="244.95" r="1.27" fill="#ffe4e4"/><circle cx="251.1" cy="245.90" r="1.27" fill="#ffe4e4"/><circle cx="252.9" cy="246.70" r="1.27" fill="#ffe4e4"/><circle cx="254.6" cy="247.39" r="1.27" fill="#ffe4e4"/><circle cx="256.4" cy="247.98" r="1.28" fill="#ffe4e4"/><circle cx="258.3" cy="248.47" r="1.28" fill="#ffe4e4"/><circle cx="260.1" cy="248.91" r="1.28" fill="#ffe4e4"/><circle cx="262.0" cy="249.27" r="1.28" fill="#ffe4e4"/><circle cx="263.9" cy="249.51" r="1.28" fill="#ffe4e4"/><circle cx="265.8" cy="249.67" r="1.28" fill="#ffe4e4"/></g>
<polyline points="192.0,247.48 192.5,247.98 193.0,247.60 193.5,247.70 194.0,247.75 194.5,247.81 195.0,247.58 195.5,247.55 196.0,247.88 196.5,248.34 197.0,248.01 197.5,248.03 198.0,248.24 198.5,247.96 199.0,248.33 199.5,248.18 200.0,248.18 200.5,248.24 201.0,247.94 201.5,248.47 202.0,247.05 202.5,247.42 203.0,248.24 203.5,247.17 204.0,248.06 204.5,248.04 205.0,247.13 205.5,247.73 206.0,247.42 206.5,248.31 207.0,248.29 207.5,247.80 208.0,248.18 208.5,247.73 209.0,247.81 209.5,248.60 210.0,248.63 210.5,248.22 211.0,247.60 211.5,246.42 212.0,247.60 212.5,247.80 213.0,248.21 213.5,248.30 214.0,248.16 214.5,247.73 215.0,248.28 215.5,248.75 216.0,246.94 216.5,248.13 217.0,247.71 217.5,247.89 218.0,247.62 218.5,247.76 219.0,247.29 219.5,247.40 220.0,247.49 220.5,248.09 221.0,247.31 221.5,247.52 222.0,247.12 222.5,246.82 223.0,247.30 223.5,247.09 224.0,246.08 224.5,246.89 225.0,246.83 225.5,246.50 226.0,246.56 226.5,246.22 227.0,246.97 227.5,246.28 228.0,246.96 228.5,245.74 229.0,245.86 229.5,244.12 230.0,246.35 230.5,245.63 231.0,244.53 231.5,244.35 232.0,243.85" fill="none" stroke="#111" stroke-width="0.7" stroke-opacity="0.85"/>
<path d="M77.9,236.6 L79.1,234.3 L80.4,236.6 Z" fill="#111"/>
<polyline points="50.0,240.85 50.5,240.75 51.0,240.36 51.5,240.17 52.0,239.98 52.5,239.61 53.0,239.84 53.5,239.75" fill="none" stroke="#555" stroke-width="1.0"/>
<polyline points="54.0,239.63 54.5,239.51 55.0,239.43 55.5,239.48 56.0,239.50 56.5,239.62 57.0,239.43 57.5,239.58 58.0,239.51 58.5,239.60 59.0,239.44 59.5,239.52 60.0,240.04 60.5,239.93 61.0,240.59 61.5,240.69 62.0,241.25 62.5,241.70 63.0,242.34 63.5,243.42 64.0,242.61 64.5,243.00 65.0,244.04 65.5,244.69 66.0,245.00 66.5,245.11 67.0,245.55 67.5,245.80 68.0,246.54 68.5,246.58 69.0,247.32 69.5,247.28 70.0,247.28 70.5,247.50 71.0,247.76 71.5,247.81 72.0,248.00 72.5,248.16 73.0,248.76 73.5,248.33 74.0,248.94 74.5,249.22 75.0,249.43 75.5,249.33 76.0,249.50 76.5,250.35 77.0,250.51 77.5,250.53 78.0,250.15 78.5,250.10 79.0,250.78 79.5,251.58 80.0,251.40 80.5,251.67 81.0,251.76 81.5,251.13 82.0,251.30 82.5,252.35 83.0,252.87 83.5,252.25 84.0,252.25 84.5,252.71 85.0,252.28 85.5,252.64 86.0,253.50 86.5,253.45 87.0,253.45 87.5,253.12 88.0,253.86 88.5,253.60 89.0,253.73 89.5,254.30 90.0,254.62 90.5,253.89 91.0,254.61 91.5,254.75 92.0,254.25 92.5,254.59 93.0,254.36 93.5,254.46 94.0,254.62 94.5,254.20 95.0,254.49 95.5,254.84 96.0,254.67 96.5,254.69 97.0,254.75 97.5,254.14 98.0,254.23 98.5,254.79 99.0,254.21 99.5,253.69 100.0,253.88 100.5,253.71 101.0,253.71 101.5,252.95 102.0,252.71 102.5,252.99 103.0,252.86 103.5,252.43 104.0,251.84 104.5,252.04 105.0,251.79 105.5,251.37 106.0,250.71 106.5,250.57 107.0,249.81" fill="none" stroke="#1a1a1a" stroke-width="1.45" stroke-linejoin="round"/>
<polyline points="117.5,249.94 118.0,250.58 118.5,250.18 119.0,250.72 119.5,251.26 120.0,251.54 120.5,251.77 121.0,251.56 121.5,251.67 122.0,252.36 122.5,252.14 123.0,252.55 123.5,253.04 124.0,253.19 124.5,253.12 125.0,253.46 125.5,253.94 126.0,254.33 126.5,254.14 127.0,254.16 127.5,254.24 128.0,254.33 128.5,254.50 129.0,254.44 129.5,254.79 130.0,255.13 130.5,255.58 131.0,255.09 131.5,255.76 132.0,255.62 132.5,255.78 133.0,255.92 133.5,256.26 134.0,256.43 134.5,256.36 135.0,256.64 135.5,256.40 136.0,256.55 136.5,256.85 137.0,257.14 137.5,257.49 138.0,256.72 138.5,257.03 139.0,257.76 139.5,257.84 140.0,258.15 140.5,257.91 141.0,258.10 141.5,258.58 142.0,258.63 142.5,258.31 143.0,257.88 143.5,258.33 144.0,258.56 144.5,259.25 145.0,258.52 145.5,258.63 146.0,258.66 146.5,258.80 147.0,259.14 147.5,259.16 148.0,259.27 148.5,259.30 149.0,259.10 149.5,258.94 150.0,258.85 150.5,258.51 151.0,259.18 151.5,258.89 152.0,258.79 152.5,259.58 153.0,259.27 153.5,259.12 154.0,259.64 154.5,259.94 155.0,260.09 155.5,259.90 156.0,259.93 156.5,259.63 157.0,260.00 157.5,260.04 158.0,260.09 158.5,260.21 159.0,259.75 159.5,259.80 160.0,259.67 160.5,259.83 161.0,260.33 161.5,259.38 162.0,259.58 162.5,260.11 163.0,259.84 163.5,259.94 164.0,259.87 164.5,259.76 165.0,259.53 165.5,259.53 166.0,259.23 166.5,259.54 167.0,259.22 167.5,258.32 168.0,258.35 168.5,258.72 169.0,258.67 169.5,257.78 170.0,258.03 170.5,257.12 171.0,256.92 171.5,256.53" fill="none" stroke="#1a1a1a" stroke-width="1.45" stroke-linejoin="round"/>
<polyline points="182.0,257.87 182.5,258.08 183.0,258.19 183.5,258.46 184.0,258.65 184.5,259.41 185.0,258.60 185.5,259.22 186.0,259.51 186.5,259.71 187.0,259.81 187.5,259.86 188.0,260.41 188.5,260.53 189.0,260.01 189.5,260.34 190.0,260.68 190.5,261.37 191.0,260.66 191.5,260.40 192.0,261.01 192.5,261.52 193.0,261.36 193.5,261.60 194.0,261.62 194.5,261.78 195.0,261.12 195.5,261.55 196.0,261.69 196.5,261.76 197.0,261.69 197.5,261.80 198.0,262.00 198.5,261.46 199.0,261.88 199.5,262.11 200.0,261.69 200.5,262.08 201.0,262.01 201.5,261.53 202.0,262.16 202.5,261.54 203.0,261.47 203.5,261.78 204.0,262.68 204.5,261.93 205.0,261.83 205.5,261.50 206.0,261.61 206.5,261.35 207.0,261.55 207.5,261.19 208.0,261.71 208.5,261.78 209.0,261.70 209.5,261.93 210.0,261.43 210.5,261.90 211.0,261.98 211.5,261.44 212.0,261.93 212.5,261.51 213.0,262.78 213.5,261.61 214.0,261.68 214.5,261.73 215.0,260.62 215.5,261.86 216.0,260.99 216.5,261.23 217.0,261.72 217.5,260.47 218.0,261.22 218.5,261.11 219.0,260.96 219.5,262.41 220.0,260.65 220.5,261.66 221.0,261.07 221.5,260.81 222.0,262.96 222.5,260.42 223.0,260.93 223.5,261.16 224.0,261.08 224.5,260.70 225.0,261.28 225.5,261.37 226.0,260.33 226.5,259.90 227.0,260.20 227.5,260.21 228.0,259.47 228.5,259.23 229.0,260.06 229.5,258.57 230.0,259.35 230.5,259.32 231.0,258.93 231.5,258.23 232.0,258.97 232.5,257.56 233.0,257.25 233.5,257.34 234.0,256.43 234.5,255.64 235.0,256.19 235.5,254.66 236.0,254.80" fill="none" stroke="#1a1a1a" stroke-width="1.45" stroke-linejoin="round"/>
<polyline points="246.5,254.67 247.0,256.23 247.5,256.15 248.0,257.20 248.5,257.69 249.0,257.76 249.5,258.53 250.0,258.68 250.5,259.28 251.0,259.01 251.5,259.98 252.0,259.64 252.5,259.48 253.0,260.13 253.5,260.16 254.0,259.99 254.5,260.14 255.0,260.56 255.5,260.99 256.0,261.41 256.5,260.36 257.0,260.82 257.5,260.85 258.0,261.27 258.5,261.58 259.0,261.83 259.5,261.94 260.0,261.47 260.5,261.31 261.0,261.16 261.5,261.74 262.0,260.82 262.5,260.92 263.0,261.71 263.5,261.20 264.0,260.90 264.5,261.94 265.0,262.06 265.5,262.12 266.0,261.74 266.5,261.32 267.0,261.30 267.5,262.03 268.0,261.96 268.5,262.44 269.0,261.42 269.5,262.02 270.0,261.39 270.5,261.96 271.0,262.05 271.5,262.27 272.0,262.48 272.5,261.87 273.0,260.88 273.5,262.27 274.0,261.92 274.5,261.67 275.0,261.71 275.5,262.30 276.0,261.58 276.5,261.04 277.0,261.80 277.5,261.91 278.0,261.01 278.5,261.62 279.0,262.74 279.5,262.03 280.0,262.11 280.5,261.28 281.0,261.77 281.5,261.49 282.0,261.19 282.5,261.35 283.0,260.67 283.5,261.82 284.0,261.70 284.5,260.94 285.0,260.90 285.5,260.87 286.0,262.06 286.5,261.66 287.0,261.39 287.5,261.28 288.0,260.68 288.5,261.45 289.0,262.55 289.5,263.00 290.0,261.55 290.5,261.40 291.0,261.65 291.5,260.81 292.0,261.69 292.5,261.60 293.0,261.87 293.5,261.11 294.0,261.42 294.5,261.72 295.0,261.81 295.5,261.90 296.0,261.72 296.5,261.38 297.0,260.76 297.5,261.00 298.0,261.21 298.5,261.63 299.0,260.45 299.5,261.14 300.0,260.38 300.5,259.80 301.0,260.07 301.5,259.84 302.0,259.95 302.5,258.76 303.0,258.44 303.5,258.63 304.0,258.67 304.5,258.09 305.0,258.65 305.5,258.55 306.0,257.82 306.5,259.38 307.0,258.48 307.5,258.22 308.0,258.74 308.5,258.10 309.0,258.53 309.5,258.76 310.0,261.12 310.5,258.99 311.0,259.44 311.5,260.16 312.0,260.82 312.5,261.03 313.0,261.67 313.5,261.49 314.0,261.93 314.5,261.29 315.0,261.74 315.5,262.17 316.0,261.36 316.5,261.87 317.0,262.02 317.5,262.11 318.0,261.60 318.5,261.55 319.0,261.36 319.5,262.50 320.0,262.17 320.5,261.84 321.0,261.64 321.5,262.18 322.0,261.64 322.5,260.88 323.0,261.03 323.5,262.63 324.0,261.79 324.5,261.74 325.0,262.17 325.5,261.19 326.0,261.73 326.5,261.76 327.0,261.30 327.5,261.68 328.0,261.32 328.5,261.77 329.0,261.86 329.5,261.54 330.0,261.64 330.5,260.98 331.0,261.71 331.5,262.33 332.0,261.51 332.5,261.79 333.0,262.37 333.5,261.57 334.0,261.12 334.5,261.60 335.0,262.51 335.5,261.95 336.0,261.27 336.5,262.13 337.0,261.65 337.5,261.83 338.0,262.43 338.5,261.39 339.0,261.11 339.5,261.90 340.0,262.38 340.5,261.61 341.0,261.52 341.5,261.75 342.0,261.86 342.5,262.12 343.0,261.76 343.5,262.08 344.0,261.22 344.5,262.55 345.0,261.88 345.5,262.81 346.0,261.91 346.5,260.83 347.0,262.82 347.5,261.70 348.0,261.36 348.5,261.19 349.0,261.47 349.5,261.66 350.0,261.63 350.5,261.55 351.0,260.48 351.5,262.18" fill="none" stroke="#1a1a1a" stroke-width="1.45" stroke-linejoin="round"/>
<g stroke="#ff4040" stroke-width="0.65"><circle cx="55.0" cy="239.50" r="1.20" fill="#ffcdcd"/><circle cx="56.4" cy="239.50" r="1.20" fill="#ffcdcd"/><circle cx="57.8" cy="239.50" r="1.20" fill="#ffcdcd"/><circle cx="59.2" cy="239.50" r="1.20" fill="#ffcdcd"/><circle cx="60.5" cy="239.91" r="1.20" fill="#ffcdcd"/><circle cx="61.7" cy="240.67" r="1.20" fill="#ffcdcd"/><circle cx="62.7" cy="241.67" r="1.20" fill="#ffcdcd"/><circle cx="63.6" cy="242.68" r="1.20" fill="#ffcdcd"/><circle cx="64.6" cy="243.69" r="1.20" fill="#ffcdcd"/><circle cx="65.7" cy="244.61" r="1.20" fill="#ffcdcd"/><circle cx="66.8" cy="245.42" r="1.20" fill="#ffcdcd"/><circle cx="68.0" cy="246.15" r="1.20" fill="#ffcdcd"/><circle cx="69.2" cy="246.81" r="1.20" fill="#ffcdcd"/><circle cx="70.5" cy="247.41" r="1.20" fill="#ffcdcd"/><circle cx="71.8" cy="247.97" r="1.20" fill="#ffcdcd"/><circle cx="73.1" cy="248.53" r="1.20" fill="#ffcdcd"/><circle cx="74.4" cy="249.08" r="1.20" fill="#ffcdcd"/><circle cx="75.6" cy="249.61" r="1.20" fill="#ffcdcd"/><circle cx="77.0" cy="250.13" r="1.20" fill="#ffcdcd"/><circle cx="78.3" cy="250.63" r="1.20" fill="#ffcdcd"/><circle cx="79.6" cy="251.11" r="1.20" fill="#ffcdcd"/><circle cx="80.9" cy="251.57" r="1.20" fill="#ffcece"/><circle cx="82.2" cy="252.02" r="1.20" fill="#ffd0d0"/><circle cx="83.6" cy="252.47" r="1.20" fill="#ffd1d1"/><circle cx="85.0" cy="252.85" r="1.20" fill="#ffd3d3"/><circle cx="86.5" cy="253.12" r="1.20" fill="#ffd4d4"/><circle cx="88.0" cy="253.36" r="1.20" fill="#ffd6d6"/><circle cx="89.6" cy="253.54" r="1.20" fill="#ffd8d8"/><circle cx="91.2" cy="253.60" r="1.20" fill="#ffdada"/><circle cx="92.8" cy="253.58" r="1.21" fill="#ffdcdc"/><circle cx="94.4" cy="253.55" r="1.21" fill="#ffdede"/><circle cx="96.1" cy="253.49" r="1.22" fill="#ffe0e0"/><circle cx="97.8" cy="253.28" r="1.22" fill="#ffe2e2"/><circle cx="99.6" cy="252.90" r="1.22" fill="#ffe3e3"/><circle cx="101.3" cy="252.45" r="1.23" fill="#ffe4e4"/><circle cx="103.0" cy="251.96" r="1.23" fill="#ffe4e4"/><circle cx="104.7" cy="251.33" r="1.24" fill="#ffe4e4"/><circle cx="106.3" cy="250.41" r="1.24" fill="#ffe4e4"/><circle cx="107.6" cy="249.20" r="1.24" fill="#ffe4e4"/><circle cx="108.8" cy="247.85" r="1.25" fill="#ffe4e4"/><circle cx="109.8" cy="246.35" r="1.25" fill="#ffe4e4"/><circle cx="110.6" cy="244.74" r="1.25" fill="#ffe4e4"/><circle cx="111.1" cy="243.02" r="1.25" fill="#ffe4e4"/><circle cx="111.7" cy="241.29" r="1.25" fill="#ffe4e4"/><circle cx="112.4" cy="240.10" r="1.25" fill="#ffe4e4"/><circle cx="113.2" cy="242.05" r="1.25" fill="#ffe4e4"/><circle cx="113.6" cy="243.81" r="1.25" fill="#ffe4e4"/><circle cx="114.1" cy="245.56" r="1.25" fill="#ffe4e4"/><circle cx="114.9" cy="247.18" r="1.25" fill="#ffe4e4"/><circle cx="115.9" cy="248.67" r="1.25" fill="#ffe4e4"/><circle cx="117.2" cy="249.94" r="1.25" fill="#ffe4e4"/><circle cx="118.8" cy="250.79" r="1.25" fill="#ffe4e4"/><circle cx="120.5" cy="251.41" r="1.25" fill="#ffe4e4"/><circle cx="122.2" cy="252.09" r="1.25" fill="#ffe4e4"/><circle cx="123.8" cy="252.88" r="1.25" fill="#ffe4e4"/><circle cx="125.4" cy="253.65" r="1.25" fill="#ffe4e4"/><circle cx="127.1" cy="254.28" r="1.25" fill="#ffe4e4"/><circle cx="128.9" cy="254.79" r="1.25" fill="#ffe4e4"/><circle cx="130.6" cy="255.24" r="1.25" fill="#ffe4e4"/><circle cx="132.4" cy="255.67" r="1.25" fill="#ffe4e4"/><circle cx="134.2" cy="256.08" r="1.25" fill="#ffe4e4"/><circle cx="136.0" cy="256.45" r="1.25" fill="#ffe4e4"/><circle cx="137.8" cy="256.75" r="1.25" fill="#ffe4e4"/><circle cx="139.6" cy="256.99" r="1.26" fill="#ffe4e4"/><circle cx="141.4" cy="257.22" r="1.26" fill="#ffe4e4"/><circle cx="143.2" cy="257.53" r="1.26" fill="#ffe4e4"/><circle cx="145.0" cy="257.88" r="1.26" fill="#ffe4e4"/><circle cx="146.8" cy="258.18" r="1.26" fill="#ffe4e4"/><circle cx="148.6" cy="258.35" r="1.26" fill="#ffe4e4"/><circle cx="150.4" cy="258.47" r="1.26" fill="#ffe4e4"/><circle cx="152.3" cy="258.61" r="1.26" fill="#ffe4e4"/><circle cx="154.1" cy="258.83" r="1.26" fill="#ffe4e4"/><circle cx="155.9" cy="259.03" r="1.26" fill="#ffe4e4"/><circle cx="157.8" cy="259.08" r="1.26" fill="#ffe4e4"/><circle cx="159.6" cy="259.07" r="1.26" fill="#ffe4e4"/><circle cx="161.4" cy="259.05" r="1.26" fill="#ffe4e4"/><circle cx="163.3" cy="258.99" r="1.26" fill="#ffe4e4"/><circle cx="165.1" cy="258.74" r="1.26" fill="#ffe4e4"/><circle cx="166.9" cy="258.36" r="1.26" fill="#ffe4e4"/><circle cx="168.6" cy="257.76" r="1.26" fill="#ffe4e4"/><circle cx="170.2" cy="256.79" r="1.26" fill="#ffe4e4"/><circle cx="171.6" cy="255.60" r="1.26" fill="#ffe4e4"/><circle cx="172.7" cy="254.13" r="1.26" fill="#ffe4e4"/><circle cx="173.7" cy="252.53" r="1.26" fill="#ffe4e4"/><circle cx="174.4" cy="250.84" r="1.26" fill="#ffe4e4"/><circle cx="175.1" cy="249.12" r="1.26" fill="#ffe4e4"/><circle cx="175.6" cy="247.36" r="1.26" fill="#ffe4e4"/><circle cx="176.2" cy="245.58" r="1.26" fill="#ffe4e4"/><circle cx="176.8" cy="244.20" r="1.26" fill="#ffe4e4"/><circle cx="177.3" cy="246.32" r="1.26" fill="#ffe4e4"/><circle cx="177.6" cy="248.15" r="1.26" fill="#ffe4e4"/><circle cx="178.0" cy="249.97" r="1.26" fill="#ffe4e4"/><circle cx="178.4" cy="251.77" r="1.26" fill="#ffe4e4"/><circle cx="178.8" cy="253.57" r="1.26" fill="#ffe4e4"/><circle cx="179.4" cy="255.34" r="1.26" fill="#ffe4e4"/><circle cx="180.6" cy="256.75" r="1.26" fill="#ffe4e4"/><circle cx="182.1" cy="257.76" r="1.26" fill="#ffe4e4"/><circle cx="183.8" cy="258.60" r="1.26" fill="#ffe4e4"/><circle cx="185.5" cy="259.29" r="1.26" fill="#ffe4e4"/><circle cx="187.2" cy="259.86" r="1.26" fill="#ffe4e4"/><circle cx="189.0" cy="260.38" r="1.26" fill="#ffe4e4"/><circle cx="190.8" cy="260.85" r="1.26" fill="#ffe4e4"/><circle cx="192.7" cy="261.22" r="1.26" fill="#ffe4e4"/><circle cx="194.5" cy="261.45" r="1.26" fill="#ffe4e4"/><circle cx="196.4" cy="261.62" r="1.26" fill="#ffe4e4"/><circle cx="198.2" cy="261.82" r="1.27" fill="#ffe4e4"/><circle cx="200.1" cy="262.13" r="1.27" fill="#ffe4e4"/><circle cx="201.9" cy="262.42" r="1.27" fill="#ffe4e4"/><circle cx="203.8" cy="262.50" r="1.27" fill="#ffe4e4"/><circle cx="205.6" cy="262.48" r="1.27" fill="#ffe4e4"/><circle cx="207.5" cy="262.45" r="1.27" fill="#ffe4e4"/><circle cx="209.4" cy="262.40" r="1.27" fill="#ffe4e4"/><circle cx="211.2" cy="262.35" r="1.27" fill="#ffe4e4"/><circle cx="213.1" cy="262.29" r="1.27" fill="#ffe4e4"/><circle cx="215.0" cy="262.23" r="1.27" fill="#ffe4e4"/><circle cx="216.9" cy="262.16" r="1.27" fill="#ffe4e4"/><circle cx="218.7" cy="262.07" r="1.27" fill="#ffe4e4"/><circle cx="220.6" cy="261.95" r="1.27" fill="#ffe4e4"/><circle cx="222.5" cy="261.80" r="1.27" fill="#ffe4e4"/><circle cx="224.4" cy="261.59" r="1.27" fill="#ffe4e4"/><circle cx="226.2" cy="261.25" r="1.27" fill="#ffe4e4"/><circle cx="228.0" cy="260.77" r="1.27" fill="#ffe4e4"/><circle cx="229.8" cy="260.14" r="1.27" fill="#ffe4e4"/><circle cx="231.5" cy="259.28" r="1.27" fill="#ffe4e4"/><circle cx="233.1" cy="258.24" r="1.27" fill="#ffe4e4"/><circle cx="234.5" cy="257.06" r="1.27" fill="#ffe4e4"/><circle cx="235.8" cy="255.70" r="1.27" fill="#ffe4e4"/><circle cx="237.0" cy="254.24" r="1.27" fill="#ffe4e4"/><circle cx="238.1" cy="252.68" r="1.27" fill="#ffe4e4"/><circle cx="239.1" cy="251.06" r="1.27" fill="#ffe4e4"/><circle cx="240.0" cy="249.41" r="1.27" fill="#ffe4e4"/><circle cx="240.8" cy="247.69" r="1.27" fill="#ffe4e4"/><circle cx="241.3" cy="246.80" r="1.27" fill="#ffe4e4"/><circle cx="242.8" cy="249.10" r="1.27" fill="#ffe4e4"/><circle cx="243.7" cy="250.78" r="1.27" fill="#ffe4e4"/><circle cx="244.6" cy="252.43" r="1.27" fill="#ffe4e4"/><circle cx="245.7" cy="253.98" r="1.27" fill="#ffe4e4"/><circle cx="246.9" cy="255.50" r="1.27" fill="#ffe4e4"/><circle cx="248.1" cy="256.94" r="1.27" fill="#ffe4e4"/><circle cx="249.5" cy="258.18" r="1.27" fill="#ffe4e4"/><circle cx="251.1" cy="259.20" r="1.27" fill="#ffe4e4"/><circle cx="252.8" cy="260.06" r="1.27" fill="#ffe4e4"/><circle cx="254.6" cy="260.79" r="1.27" fill="#ffe4e4"/><circle cx="256.4" cy="261.42" r="1.28" fill="#ffe4e4"/><circle cx="258.2" cy="261.95" r="1.28" fill="#ffe4e4"/><circle cx="260.1" cy="262.40" r="1.28" fill="#ffe4e4"/><circle cx="261.9" cy="262.81" r="1.28" fill="#ffe4e4"/><circle cx="263.8" cy="263.11" r="1.28" fill="#ffe4e4"/><circle cx="265.7" cy="263.30" r="1.28" fill="#ffe4e4"/></g>
<polyline points="192.0,261.01 192.5,261.52 193.0,261.36 193.5,261.60 194.0,261.62 194.5,261.78 195.0,261.12 195.5,261.55 196.0,261.69 196.5,261.76 197.0,261.69 197.5,261.80 198.0,262.00 198.5,261.46 199.0,261.88 199.5,262.11 200.0,261.69 200.5,262.08 201.0,262.01 201.5,261.53 202.0,262.16 202.5,261.54 203.0,261.47 203.5,261.78 204.0,262.68 204.5,261.93 205.0,261.83 205.5,261.50 206.0,261.61 206.5,261.35 207.0,261.55 207.5,261.19 208.0,261.71 208.5,261.78 209.0,261.70 209.5,261.93 210.0,261.43 210.5,261.90 211.0,261.98 211.5,261.44 212.0,261.93 212.5,261.51 213.0,262.78 213.5,261.61 214.0,261.68 214.5,261.73 215.0,260.62 215.5,261.86 216.0,260.99 216.5,261.23 217.0,261.72 217.5,260.47 218.0,261.22 218.5,261.11 219.0,260.96 219.5,262.41 220.0,260.65 220.5,261.66 221.0,261.07 221.5,260.81 222.0,262.96 222.5,260.42 223.0,260.93 223.5,261.16 224.0,261.08 224.5,260.70 225.0,261.28 225.5,261.37 226.0,260.33 226.5,259.90 227.0,260.20 227.5,260.21 228.0,259.47 228.5,259.23 229.0,260.06 229.5,258.57 230.0,259.35 230.5,259.32 231.0,258.93 231.5,258.23 232.0,258.97" fill="none" stroke="#111" stroke-width="0.7" stroke-opacity="0.85"/>
<path d="M77.9,250.3 L79.1,248.0 L80.4,250.3 Z" fill="#111"/>
<polyline points="50.0,254.80 50.5,254.67 51.0,254.53 51.5,254.40 52.0,254.27 52.5,254.13 53.0,254.00 53.5,253.93 54.0,253.85 54.5,253.78 55.0,253.70 55.5,253.62 56.0,253.55 56.5,253.53 57.0,253.50 57.5,253.47 58.0,253.45 58.5,253.43 59.0,253.40 59.5,253.53 60.0,253.67 60.5,253.42" fill="none" stroke="#555" stroke-width="1.0"/>
<polyline points="61.0,253.81 61.5,254.72 62.0,254.48 62.5,255.34 63.0,256.14 63.5,256.13 64.0,256.75 64.5,257.62 65.0,257.86 65.5,258.56 66.0,258.97 66.5,258.96 67.0,259.47 67.5,259.68 68.0,260.31 68.5,260.75 69.0,260.28 69.5,260.96 70.0,261.16 70.5,261.62 71.0,261.86 71.5,261.49 72.0,262.09 72.5,262.31 73.0,262.49 73.5,262.89 74.0,263.32 74.5,263.00 75.0,263.31 75.5,263.52 76.0,263.64 76.5,264.24 77.0,264.32 77.5,264.19 78.0,264.35 78.5,264.72 79.0,264.14 79.5,265.26 80.0,265.09 80.5,265.67 81.0,265.47 81.5,265.76 82.0,265.45 82.5,266.18 83.0,266.42 83.5,266.16 84.0,266.60 84.5,266.45 85.0,266.82 85.5,266.85 86.0,267.11 86.5,267.31 87.0,267.60 87.5,267.59 88.0,266.66 88.5,267.81 89.0,268.26 89.5,268.29 90.0,268.23 90.5,268.56 91.0,268.16 91.5,268.24 92.0,268.71 92.5,268.71 93.0,268.20 93.5,268.34 94.0,268.56 94.5,268.65 95.0,268.10 95.5,268.52 96.0,268.56 96.5,268.34 97.0,268.76 97.5,268.87 98.0,267.95 98.5,267.98 99.0,268.15 99.5,267.86 100.0,268.23 100.5,267.96 101.0,267.44 101.5,267.79 102.0,267.63 102.5,266.86 103.0,266.76 103.5,266.49 104.0,266.61 104.5,265.78 105.0,265.71 105.5,265.57 106.0,265.06 106.5,264.24 107.0,263.72 107.5,263.75" fill="none" stroke="#1a1a1a" stroke-width="1.45" stroke-linejoin="round"/>
<polyline points="118.0,264.19 118.5,264.38 119.0,264.56 119.5,265.24 120.0,265.31 120.5,265.17 121.0,265.53 121.5,265.43 122.0,266.58 122.5,266.11 123.0,266.71 123.5,266.49 124.0,267.13 124.5,266.74 125.0,267.54 125.5,267.49 126.0,267.72 126.5,267.80 127.0,268.36 127.5,268.35 128.0,268.04 128.5,268.88 129.0,268.30 129.5,268.52 130.0,269.48 130.5,269.24 131.0,269.44 131.5,270.13 132.0,269.59 132.5,269.59 133.0,269.36 133.5,270.14 134.0,270.37 134.5,270.50 135.0,270.44 135.5,270.08 136.0,270.80 136.5,270.52 137.0,271.43 137.5,271.07 138.0,271.37 138.5,271.49 139.0,271.08 139.5,271.42 140.0,271.43 140.5,271.80 141.0,272.34 141.5,271.71 142.0,271.93 142.5,271.54 143.0,272.07 143.5,272.24 144.0,272.85 144.5,272.49 145.0,272.69 145.5,273.02 146.0,272.96 146.5,272.91 147.0,272.92 147.5,272.93 148.0,273.41 148.5,272.98 149.0,273.08 149.5,273.45 150.0,273.54 150.5,273.27 151.0,272.86 151.5,272.92 152.0,273.54 152.5,273.02 153.0,274.15 153.5,273.40 154.0,273.48 154.5,273.16 155.0,273.88 155.5,273.76 156.0,273.87 156.5,273.72 157.0,274.13 157.5,273.96 158.0,273.81 158.5,274.22 159.0,273.63 159.5,273.74 160.0,273.97 160.5,273.45 161.0,273.97 161.5,273.71 162.0,273.53 162.5,273.95 163.0,273.77 163.5,273.95 164.0,273.68 164.5,273.65 165.0,273.62 165.5,273.90 166.0,273.78 166.5,273.62 167.0,273.19 167.5,273.08 168.0,272.51 168.5,273.02 169.0,272.64 169.5,272.02 170.0,272.21 170.5,271.61 171.0,271.43 171.5,270.89 172.0,270.72" fill="none" stroke="#1a1a1a" stroke-width="1.45" stroke-linejoin="round"/>
<polyline points="182.5,271.71 183.0,272.10 183.5,271.82 184.0,272.83 184.5,272.83 185.0,272.80 185.5,273.23 186.0,273.51 186.5,273.84 187.0,273.45 187.5,273.77 188.0,273.67 188.5,274.09 189.0,274.15 189.5,274.17 190.0,274.52 190.5,274.51 191.0,274.94 191.5,274.76 192.0,274.87 192.5,275.11 193.0,274.73 193.5,275.52 194.0,275.63 194.5,275.61 195.0,275.51 195.5,275.61 196.0,275.41 196.5,275.30 197.0,275.49 197.5,275.41 198.0,275.58 198.5,275.58 199.0,275.09 199.5,275.51 200.0,276.27 200.5,276.21 201.0,275.93 201.5,275.95 202.0,275.99 202.5,275.73 203.0,277.05 203.5,277.21 204.0,276.66 204.5,275.75 205.0,276.12 205.5,275.11 206.0,275.33 206.5,275.21 207.0,275.76 207.5,275.50 208.0,275.48 208.5,275.40 209.0,275.63 209.5,275.72 210.0,275.27 210.5,275.93 211.0,275.55 211.5,275.54 212.0,275.40 212.5,275.11 213.0,274.65 213.5,275.73 214.0,275.52 214.5,276.26 215.0,276.28 215.5,275.12 216.0,275.80 216.5,274.54 217.0,274.81 217.5,274.88 218.0,275.49 218.5,275.17 219.0,274.79 219.5,275.05 220.0,276.56 220.5,275.94 221.0,275.25 221.5,274.92 222.0,274.71 222.5,274.93 223.0,275.08 223.5,275.37 224.0,275.86 224.5,274.82 225.0,274.43 225.5,275.14 226.0,274.73 226.5,274.84 227.0,274.51 227.5,274.63 228.0,274.35 228.5,274.59 229.0,273.71 229.5,273.81 230.0,274.11 230.5,273.10 231.0,273.39 231.5,273.01 232.0,272.48 232.5,271.33 233.0,271.86 233.5,271.46 234.0,272.00 234.5,270.33 235.0,270.84 235.5,270.10 236.0,269.86 236.5,269.04 237.0,268.20" fill="none" stroke="#1a1a1a" stroke-width="1.45" stroke-linejoin="round"/>
<polyline points="247.5,270.29 248.0,270.28 248.5,270.51 249.0,271.17 249.5,270.69 250.0,270.82 250.5,273.35 251.0,273.18 251.5,273.38 252.0,274.14 252.5,273.20 253.0,273.79 253.5,274.40 254.0,275.36 254.5,274.13 255.0,274.59 255.5,274.47 256.0,275.83 256.5,274.17 257.0,275.46 257.5,275.07 258.0,274.38 258.5,274.63 259.0,275.48 259.5,274.60 260.0,275.23 260.5,274.72 261.0,274.98 261.5,274.96 262.0,275.50 262.5,274.90 263.0,275.22 263.5,275.36 264.0,275.86 264.5,274.48 265.0,275.04 265.5,275.45 266.0,275.77 266.5,276.47 267.0,275.03 267.5,275.96 268.0,276.07 268.5,275.85 269.0,275.77 269.5,275.69 270.0,276.36 270.5,275.06 271.0,275.98 271.5,276.83 272.0,274.97 272.5,275.77 273.0,275.95 273.5,275.24 274.0,275.47 274.5,275.40 275.0,275.79 275.5,276.11 276.0,275.71 276.5,274.96 277.0,274.97 277.5,276.03 278.0,276.16 278.5,278.64 279.0,275.82 279.5,276.19 280.0,275.58 280.5,275.83 281.0,275.51 281.5,275.32 282.0,276.03 282.5,275.09 283.0,275.28 283.5,275.46 284.0,274.60 284.5,274.92 285.0,275.84 285.5,276.02 286.0,275.28 286.5,274.98 287.0,275.88 287.5,276.05 288.0,274.82 288.5,276.88 289.0,275.17 289.5,274.88 290.0,275.87 290.5,274.05 291.0,275.57 291.5,275.62 292.0,275.79 292.5,275.29 293.0,275.74 293.5,276.11 294.0,276.26 294.5,275.80 295.0,275.76 295.5,275.06 296.0,275.45 296.5,275.68 297.0,275.20 297.5,276.02 298.0,275.23 298.5,274.61 299.0,274.93 299.5,275.41 300.0,275.54 300.5,275.30 301.0,274.81 301.5,274.38 302.0,273.57 302.5,273.50 303.0,272.91 303.5,273.28 304.0,273.03 304.5,272.76 305.0,272.26 305.5,272.74 306.0,272.81 306.5,272.35 307.0,271.82 307.5,271.34 308.0,272.04 308.5,272.66 309.0,273.19 309.5,271.85 310.0,272.01 310.5,273.05 311.0,273.44 311.5,273.34 312.0,273.38 312.5,275.09 313.0,274.46 313.5,275.08 314.0,275.39 314.5,275.55 315.0,275.24 315.5,275.33 316.0,275.39 316.5,276.10 317.0,276.73 317.5,275.56 318.0,276.26 318.5,275.23 319.0,276.11 319.5,274.72 320.0,275.42 320.5,275.30 321.0,275.26 321.5,275.87 322.0,276.39 322.5,275.69 323.0,275.69 323.5,276.32 324.0,276.05 324.5,275.67 325.0,275.22 325.5,276.20 326.0,275.77 326.5,276.37 327.0,275.58 327.5,275.89 328.0,275.78 328.5,275.64 329.0,276.21 329.5,275.45 330.0,276.54 330.5,276.30 331.0,275.46 331.5,275.76 332.0,276.46 332.5,275.40 333.0,276.59 333.5,275.50 334.0,275.93 334.5,275.56 335.0,275.76 335.5,275.48 336.0,276.14 336.5,275.91 337.0,275.92 337.5,275.52 338.0,275.86 338.5,276.33 339.0,275.80 339.5,275.80 340.0,275.45 340.5,275.34 341.0,276.55 341.5,275.88 342.0,275.67 342.5,275.78 343.0,275.51 343.5,275.41 344.0,275.52 344.5,276.02 345.0,276.17 345.5,274.90 346.0,274.53 346.5,274.49 347.0,276.02 347.5,276.01 348.0,276.00 348.5,275.32 349.0,275.55 349.5,275.87 350.0,275.71 350.5,275.70 351.0,276.24 351.5,275.83" fill="none" stroke="#1a1a1a" stroke-width="1.45" stroke-linejoin="round"/>
<g stroke="#ff4040" stroke-width="0.65"><circle cx="60.8" cy="254.04" r="1.20" fill="#ffcdcd"/><circle cx="61.9" cy="254.84" r="1.20" fill="#ffcdcd"/><circle cx="62.9" cy="255.85" r="1.20" fill="#ffcdcd"/><circle cx="63.9" cy="256.86" r="1.20" fill="#ffcdcd"/><circle cx="64.9" cy="257.86" r="1.20" fill="#ffcdcd"/><circle cx="65.9" cy="258.75" r="1.20" fill="#ffcdcd"/><circle cx="67.1" cy="259.54" r="1.20" fill="#ffcdcd"/><circle cx="68.3" cy="260.26" r="1.20" fill="#ffcdcd"/><circle cx="69.5" cy="260.91" r="1.20" fill="#ffcdcd"/><circle cx="70.8" cy="261.50" r="1.20" fill="#ffcdcd"/><circle cx="72.1" cy="262.06" r="1.20" fill="#ffcdcd"/><circle cx="73.4" cy="262.62" r="1.20" fill="#ffcdcd"/><circle cx="74.7" cy="263.16" r="1.20" fill="#ffcdcd"/><circle cx="76.0" cy="263.69" r="1.20" fill="#ffcdcd"/><circle cx="77.3" cy="264.20" r="1.20" fill="#ffcdcd"/><circle cx="78.6" cy="264.70" r="1.20" fill="#ffcdcd"/><circle cx="79.9" cy="265.18" r="1.20" fill="#ffcdcd"/><circle cx="81.2" cy="265.62" r="1.20" fill="#ffcece"/><circle cx="82.6" cy="266.08" r="1.20" fill="#ffd0d0"/><circle cx="83.9" cy="266.52" r="1.20" fill="#ffd2d2"/><circle cx="85.4" cy="266.89" r="1.20" fill="#ffd3d3"/><circle cx="86.9" cy="267.15" r="1.20" fill="#ffd5d5"/><circle cx="88.4" cy="267.39" r="1.20" fill="#ffd7d7"/><circle cx="89.9" cy="267.56" r="1.20" fill="#ffd8d8"/><circle cx="91.5" cy="267.60" r="1.20" fill="#ffdada"/><circle cx="93.2" cy="267.58" r="1.21" fill="#ffdcdc"/><circle cx="94.8" cy="267.54" r="1.21" fill="#ffdede"/><circle cx="96.5" cy="267.48" r="1.22" fill="#ffe0e0"/><circle cx="98.2" cy="267.25" r="1.22" fill="#ffe2e2"/><circle cx="100.0" cy="266.85" r="1.22" fill="#ffe4e4"/><circle cx="101.7" cy="266.40" r="1.23" fill="#ffe4e4"/><circle cx="103.4" cy="265.90" r="1.23" fill="#ffe4e4"/><circle cx="105.1" cy="265.25" r="1.24" fill="#ffe4e4"/><circle cx="106.6" cy="264.29" r="1.24" fill="#ffe4e4"/><circle cx="108.0" cy="263.07" r="1.24" fill="#ffe4e4"/><circle cx="109.1" cy="261.71" r="1.25" fill="#ffe4e4"/><circle cx="110.1" cy="260.20" r="1.25" fill="#ffe4e4"/><circle cx="110.9" cy="258.58" r="1.25" fill="#ffe4e4"/><circle cx="111.4" cy="256.85" r="1.25" fill="#ffe4e4"/><circle cx="112.0" cy="255.13" r="1.25" fill="#ffe4e4"/><circle cx="112.7" cy="254.10" r="1.25" fill="#ffe4e4"/><circle cx="113.5" cy="256.21" r="1.25" fill="#ffe4e4"/><circle cx="113.9" cy="257.98" r="1.25" fill="#ffe4e4"/><circle cx="114.4" cy="259.73" r="1.25" fill="#ffe4e4"/><circle cx="115.2" cy="261.33" r="1.25" fill="#ffe4e4"/><circle cx="116.3" cy="262.80" r="1.25" fill="#ffe4e4"/><circle cx="117.6" cy="264.03" r="1.25" fill="#ffe4e4"/><circle cx="119.2" cy="264.85" r="1.25" fill="#ffe4e4"/><circle cx="120.9" cy="265.46" r="1.25" fill="#ffe4e4"/><circle cx="122.6" cy="266.16" r="1.25" fill="#ffe4e4"/><circle cx="124.2" cy="266.94" r="1.25" fill="#ffe4e4"/><circle cx="125.9" cy="267.70" r="1.25" fill="#ffe4e4"/><circle cx="127.6" cy="268.32" r="1.25" fill="#ffe4e4"/><circle cx="129.3" cy="268.82" r="1.25" fill="#ffe4e4"/><circle cx="131.1" cy="269.27" r="1.25" fill="#ffe4e4"/><circle cx="132.9" cy="269.70" r="1.25" fill="#ffe4e4"/><circle cx="134.6" cy="270.11" r="1.25" fill="#ffe4e4"/><circle cx="136.4" cy="270.47" r="1.25" fill="#ffe4e4"/><circle cx="138.2" cy="270.76" r="1.25" fill="#ffe4e4"/><circle cx="140.0" cy="271.00" r="1.26" fill="#ffe4e4"/><circle cx="141.9" cy="271.24" r="1.26" fill="#ffe4e4"/><circle cx="143.7" cy="271.54" r="1.26" fill="#ffe4e4"/><circle cx="145.4" cy="271.90" r="1.26" fill="#ffe4e4"/><circle cx="147.3" cy="272.18" r="1.26" fill="#ffe4e4"/><circle cx="149.1" cy="272.35" r="1.26" fill="#ffe4e4"/><circle cx="150.9" cy="272.48" r="1.26" fill="#ffe4e4"/><circle cx="152.7" cy="272.62" r="1.26" fill="#ffe4e4"/><circle cx="154.6" cy="272.83" r="1.26" fill="#ffe4e4"/><circle cx="156.4" cy="273.03" r="1.26" fill="#ffe4e4"/><circle cx="158.2" cy="273.08" r="1.26" fill="#ffe4e4"/><circle cx="160.1" cy="273.07" r="1.26" fill="#ffe4e4"/><circle cx="161.9" cy="273.05" r="1.26" fill="#ffe4e4"/><circle cx="163.7" cy="272.99" r="1.26" fill="#ffe4e4"/><circle cx="165.6" cy="272.75" r="1.26" fill="#ffe4e4"/><circle cx="167.4" cy="272.37" r="1.26" fill="#ffe4e4"/><circle cx="169.1" cy="271.78" r="1.26" fill="#ffe4e4"/><circle cx="170.7" cy="270.82" r="1.26" fill="#ffe4e4"/><circle cx="172.1" cy="269.64" r="1.26" fill="#ffe4e4"/><circle cx="173.2" cy="268.17" r="1.26" fill="#ffe4e4"/><circle cx="174.2" cy="266.58" r="1.26" fill="#ffe4e4"/><circle cx="174.9" cy="264.90" r="1.26" fill="#ffe4e4"/><circle cx="175.6" cy="263.18" r="1.26" fill="#ffe4e4"/><circle cx="176.2" cy="261.41" r="1.26" fill="#ffe4e4"/><circle cx="176.7" cy="259.64" r="1.26" fill="#ffe4e4"/><circle cx="177.3" cy="258.30" r="1.26" fill="#ffe4e4"/><circle cx="177.9" cy="260.44" r="1.26" fill="#ffe4e4"/><circle cx="178.2" cy="262.27" r="1.26" fill="#ffe4e4"/><circle cx="178.5" cy="264.09" r="1.26" fill="#ffe4e4"/><circle cx="178.9" cy="265.89" r="1.26" fill="#ffe4e4"/><circle cx="179.4" cy="267.69" r="1.26" fill="#ffe4e4"/><circle cx="179.9" cy="269.45" r="1.26" fill="#ffe4e4"/><circle cx="181.1" cy="270.84" r="1.26" fill="#ffe4e4"/><circle cx="182.7" cy="271.82" r="1.26" fill="#ffe4e4"/><circle cx="184.4" cy="272.65" r="1.26" fill="#ffe4e4"/><circle cx="186.1" cy="273.32" r="1.26" fill="#ffe4e4"/><circle cx="187.9" cy="273.89" r="1.26" fill="#ffe4e4"/><circle cx="189.7" cy="274.40" r="1.26" fill="#ffe4e4"/><circle cx="191.5" cy="274.87" r="1.26" fill="#ffe4e4"/><circle cx="193.3" cy="275.23" r="1.26" fill="#ffe4e4"/><circle cx="195.1" cy="275.46" r="1.26" fill="#ffe4e4"/><circle cx="197.0" cy="275.63" r="1.26" fill="#ffe4e4"/><circle cx="198.8" cy="275.82" r="1.27" fill="#ffe4e4"/><circle cx="200.7" cy="276.13" r="1.27" fill="#ffe4e4"/><circle cx="202.5" cy="276.42" r="1.27" fill="#ffe4e4"/><circle cx="204.4" cy="276.50" r="1.27" fill="#ffe4e4"/><circle cx="206.3" cy="276.48" r="1.27" fill="#ffe4e4"/><circle cx="208.1" cy="276.45" r="1.27" fill="#ffe4e4"/><circle cx="210.0" cy="276.40" r="1.27" fill="#ffe4e4"/><circle cx="211.9" cy="276.35" r="1.27" fill="#ffe4e4"/><circle cx="213.7" cy="276.30" r="1.27" fill="#ffe4e4"/><circle cx="215.6" cy="276.23" r="1.27" fill="#ffe4e4"/><circle cx="217.5" cy="276.16" r="1.27" fill="#ffe4e4"/><circle cx="219.4" cy="276.07" r="1.27" fill="#ffe4e4"/><circle cx="221.3" cy="275.95" r="1.27" fill="#ffe4e4"/><circle cx="223.1" cy="275.80" r="1.27" fill="#ffe4e4"/><circle cx="225.0" cy="275.60" r="1.27" fill="#ffe4e4"/><circle cx="226.8" cy="275.26" r="1.27" fill="#ffe4e4"/><circle cx="228.7" cy="274.79" r="1.27" fill="#ffe4e4"/><circle cx="230.5" cy="274.16" r="1.27" fill="#ffe4e4"/><circle cx="232.1" cy="273.31" r="1.27" fill="#ffe4e4"/><circle cx="233.7" cy="272.29" r="1.27" fill="#ffe4e4"/><circle cx="235.2" cy="271.12" r="1.27" fill="#ffe4e4"/><circle cx="236.5" cy="269.76" r="1.27" fill="#ffe4e4"/><circle cx="237.7" cy="268.30" r="1.27" fill="#ffe4e4"/><circle cx="238.8" cy="266.75" r="1.27" fill="#ffe4e4"/><circle cx="239.8" cy="265.13" r="1.27" fill="#ffe4e4"/><circle cx="240.7" cy="263.48" r="1.27" fill="#ffe4e4"/><circle cx="241.5" cy="261.76" r="1.27" fill="#ffe4e4"/><circle cx="242.1" cy="260.70" r="1.27" fill="#ffe4e4"/><circle cx="243.5" cy="262.86" r="1.27" fill="#ffe4e4"/><circle cx="244.4" cy="264.54" r="1.27" fill="#ffe4e4"/><circle cx="245.3" cy="266.20" r="1.27" fill="#ffe4e4"/><circle cx="246.4" cy="267.76" r="1.27" fill="#ffe4e4"/><circle cx="247.5" cy="269.29" r="1.27" fill="#ffe4e4"/><circle cx="248.7" cy="270.75" r="1.27" fill="#ffe4e4"/><circle cx="250.1" cy="272.02" r="1.27" fill="#ffe4e4"/><circle cx="251.7" cy="273.06" r="1.27" fill="#ffe4e4"/><circle cx="253.4" cy="273.94" r="1.27" fill="#ffe4e4"/><circle cx="255.2" cy="274.68" r="1.28" fill="#ffe4e4"/><circle cx="256.9" cy="275.33" r="1.28" fill="#ffe4e4"/><circle cx="258.8" cy="275.88" r="1.28" fill="#ffe4e4"/><circle cx="260.6" cy="276.34" r="1.28" fill="#ffe4e4"/><circle cx="262.5" cy="276.75" r="1.28" fill="#ffe4e4"/><circle cx="264.4" cy="277.07" r="1.28" fill="#ffe4e4"/><circle cx="266.3" cy="277.27" r="1.28" fill="#ffe4e4"/></g>
<polyline points="192.0,274.87 192.5,275.11 193.0,274.73 193.5,275.52 194.0,275.63 194.5,275.61 195.0,275.51 195.5,275.61 196.0,275.41 196.5,275.30 197.0,275.49 197.5,275.41 198.0,275.58 198.5,275.58 199.0,275.09 199.5,275.51 200.0,276.27 200.5,276.21 201.0,275.93 201.5,275.95 202.0,275.99 202.5,275.73 203.0,277.05 203.5,277.21 204.0,276.66 204.5,275.75 205.0,276.12 205.5,275.11 206.0,275.33 206.5,275.21 207.0,275.76 207.5,275.50 208.0,275.48 208.5,275.40 209.0,275.63 209.5,275.72 210.0,275.27 210.5,275.93 211.0,275.55 211.5,275.54 212.0,275.40 212.5,275.11 213.0,274.65 213.5,275.73 214.0,275.52 214.5,276.26 215.0,276.28 215.5,275.12 216.0,275.80 216.5,274.54 217.0,274.81 217.5,274.88 218.0,275.49 218.5,275.17 219.0,274.79 219.5,275.05 220.0,276.56 220.5,275.94 221.0,275.25 221.5,274.92 222.0,274.71 222.5,274.93 223.0,275.08 223.5,275.37 224.0,275.86 224.5,274.82 225.0,274.43 225.5,275.14 226.0,274.73 226.5,274.84 227.0,274.51 227.5,274.63 228.0,274.35 228.5,274.59 229.0,273.71 229.5,273.81 230.0,274.11 230.5,273.10 231.0,273.39 231.5,273.01 232.0,272.48" fill="none" stroke="#111" stroke-width="0.7" stroke-opacity="0.85"/>
<path d="M77.9,264.3 L79.1,262.0 L80.4,264.3 Z" fill="#111"/>
<rect x="42.4" y="160.0" width="401.90000000000003" height="122.19999999999999" fill="none" stroke="#b0b0b0" stroke-width="1.1"/>
<path d="M45.0,282.2 v-4.0 M45.0,160.0 v4.0 M71.7,282.2 v-2.5 M71.7,160.0 v2.5 M98.3,282.2 v-4.0 M98.3,160.0 v4.0 M124.9,282.2 v-2.5 M124.9,160.0 v2.5 M151.6,282.2 v-4.0 M151.6,160.0 v4.0 M178.2,282.2 v-2.5 M178.2,160.0 v2.5 M204.9,282.2 v-4.0 M204.9,160.0 v4.0 M231.5,282.2 v-2.5 M231.5,160.0 v2.5 M258.2,282.2 v-4.0 M258.2,160.0 v4.0 M284.9,282.2 v-2.5 M284.9,160.0 v2.5 M311.5,282.2 v-4.0 M311.5,160.0 v4.0 M338.1,282.2 v-2.5 M338.1,160.0 v2.5 M364.8,282.2 v-4.0 M364.8,160.0 v4.0 M391.4,282.2 v-2.5 M391.4,160.0 v2.5 M418.1,282.2 v-4.0 M418.1,160.0 v4.0" stroke="#777" stroke-width="0.9" fill="none"/>
<path d="M42.4,277.66 H45.10 L43.50,280.90 H42.4 Z M444.3,277.66 H441.60 L443.20,280.90 H444.3 Z M42.4,273.13 H45.10 L43.50,276.36 H42.4 Z M444.3,273.13 H441.60 L443.20,276.36 H444.3 Z M42.4,268.59 H45.10 L43.50,271.83 H42.4 Z M444.3,268.59 H441.60 L443.20,271.83 H444.3 Z M42.4,264.06 H45.10 L43.50,267.29 H42.4 Z M444.3,264.06 H441.60 L443.20,267.29 H444.3 Z M42.4,259.52 H45.10 L43.50,262.76 H42.4 Z M444.3,259.52 H441.60 L443.20,262.76 H444.3 Z M42.4,254.98 H45.10 L43.50,258.22 H42.4 Z M444.3,254.98 H441.60 L443.20,258.22 H444.3 Z M42.4,250.45 H45.10 L43.50,253.68 H42.4 Z M444.3,250.45 H441.60 L443.20,253.68 H444.3 Z M42.4,245.91 H45.10 L43.50,249.15 H42.4 Z M444.3,245.91 H441.60 L443.20,249.15 H444.3 Z M42.4,241.38 H45.10 L43.50,244.61 H42.4 Z M444.3,241.38 H441.60 L443.20,244.61 H444.3 Z M42.4,236.84 H45.10 L43.50,240.08 H42.4 Z M444.3,236.84 H441.60 L443.20,240.08 H444.3 Z M42.4,232.30 H45.10 L43.50,235.54 H42.4 Z M444.3,232.30 H441.60 L443.20,235.54 H444.3 Z M42.4,227.77 H45.10 L43.50,231.00 H42.4 Z M444.3,227.77 H441.60 L443.20,231.00 H444.3 Z M42.4,223.23 H45.10 L43.50,226.47 H42.4 Z M444.3,223.23 H441.60 L443.20,226.47 H444.3 Z M42.4,218.70 H45.10 L43.50,221.93 H42.4 Z M444.3,218.70 H441.60 L443.20,221.93 H444.3 Z M42.4,214.16 H45.10 L43.50,217.40 H42.4 Z M444.3,214.16 H441.60 L443.20,217.40 H444.3 Z M42.4,209.62 H45.10 L43.50,212.86 H42.4 Z M444.3,209.62 H441.60 L443.20,212.86 H444.3 Z M42.4,205.09 H45.10 L43.50,208.32 H42.4 Z M444.3,205.09 H441.60 L443.20,208.32 H444.3 Z M42.4,200.55 H45.10 L43.50,203.79 H42.4 Z M444.3,200.55 H441.60 L443.20,203.79 H444.3 Z M42.4,196.02 H45.10 L43.50,199.25 H42.4 Z M444.3,196.02 H441.60 L443.20,199.25 H444.3 Z M42.4,191.48 H45.10 L43.50,194.72 H42.4 Z M444.3,191.48 H441.60 L443.20,194.72 H444.3 Z M42.4,186.94 H45.10 L43.50,190.18 H42.4 Z M444.3,186.94 H441.60 L443.20,190.18 H444.3 Z M42.4,182.41 H45.10 L43.50,185.64 H42.4 Z M444.3,182.41 H441.60 L443.20,185.64 H444.3 Z M42.4,177.87 H45.10 L43.50,181.11 H42.4 Z M444.3,177.87 H441.60 L443.20,181.11 H444.3 Z M42.4,173.34 H45.10 L43.50,176.57 H42.4 Z M444.3,173.34 H441.60 L443.20,176.57 H444.3 Z M42.4,168.80 H45.10 L43.50,172.04 H42.4 Z M444.3,168.80 H441.60 L443.20,172.04 H444.3 Z M42.4,164.26 H45.10 L43.50,167.50 H42.4 Z M444.3,164.26 H441.60 L443.20,167.50 H444.3 Z M42.4,160.00 H45.10 L43.50,162.96 H42.4 Z M444.3,160.00 H441.60 L443.20,162.96 H444.3 Z" fill="#1a1a1a"/>
<path d="M42.4,282.10 h4.5 M444.3,282.10 h-4.5 M42.4,277.56 h4.5 M444.3,277.56 h-4.5 M42.4,273.03 h4.5 M444.3,273.03 h-4.5 M42.4,268.49 h4.5 M444.3,268.49 h-4.5 M42.4,263.96 h4.5 M444.3,263.96 h-4.5 M42.4,259.42 h4.5 M444.3,259.42 h-4.5 M42.4,254.88 h4.5 M444.3,254.88 h-4.5 M42.4,250.35 h4.5 M444.3,250.35 h-4.5 M42.4,245.81 h4.5 M444.3,245.81 h-4.5 M42.4,241.28 h4.5 M444.3,241.28 h-4.5 M42.4,236.74 h4.5 M444.3,236.74 h-4.5 M42.4,232.20 h4.5 M444.3,232.20 h-4.5 M42.4,227.67 h4.5 M444.3,227.67 h-4.5 M42.4,223.13 h4.5 M444.3,223.13 h-4.5 M42.4,218.60 h4.5 M444.3,218.60 h-4.5 M42.4,214.06 h4.5 M444.3,214.06 h-4.5 M42.4,209.52 h4.5 M444.3,209.52 h-4.5 M42.4,204.99 h4.5 M444.3,204.99 h-4.5 M42.4,200.45 h4.5 M444.3,200.45 h-4.5 M42.4,195.92 h4.5 M444.3,195.92 h-4.5 M42.4,191.38 h4.5 M444.3,191.38 h-4.5 M42.4,186.84 h4.5 M444.3,186.84 h-4.5 M42.4,182.31 h4.5 M444.3,182.31 h-4.5 M42.4,177.77 h4.5 M444.3,177.77 h-4.5 M42.4,173.24 h4.5 M444.3,173.24 h-4.5 M42.4,168.70 h4.5 M444.3,168.70 h-4.5 M42.4,164.16 h4.5 M444.3,164.16 h-4.5" stroke="#444" stroke-width="0.5" fill="none"/>
<text x="37.2" y="171.5" text-anchor="end" font-family="Liberation Sans" font-size="9.2">10<tspan dy="-3.9" font-size="5.7">24</tspan></text>
<text x="37.2" y="194.1" text-anchor="end" font-family="Liberation Sans" font-size="9.2">10<tspan dy="-3.9" font-size="5.7">19</tspan></text>
<text x="37.2" y="216.8" text-anchor="end" font-family="Liberation Sans" font-size="9.2">10<tspan dy="-3.9" font-size="5.7">14</tspan></text>
<text x="37.2" y="239.5" text-anchor="end" font-family="Liberation Sans" font-size="9.2">10<tspan dy="-3.9" font-size="5.7">9</tspan></text>
<text x="37.2" y="262.2" text-anchor="end" font-family="Liberation Sans" font-size="9.2">10<tspan dy="-3.9" font-size="5.7">4</tspan></text>
<text x="37.2" y="284.9" text-anchor="end" font-family="Liberation Sans" font-size="9.2">10<tspan dy="-3.9" font-size="5.7">-1</tspan></text>
<text x="45.0" y="295.8" text-anchor="middle" font-family="Liberation Sans" font-size="10">0</text>
<text x="98.3" y="295.8" text-anchor="middle" font-family="Liberation Sans" font-size="10">2</text>
<text x="151.6" y="295.8" text-anchor="middle" font-family="Liberation Sans" font-size="10">4</text>
<text x="204.9" y="295.8" text-anchor="middle" font-family="Liberation Sans" font-size="10">6</text>
<text x="258.2" y="295.8" text-anchor="middle" font-family="Liberation Sans" font-size="10">8</text>
<text x="311.5" y="295.8" text-anchor="middle" font-family="Liberation Sans" font-size="10">10</text>
<text x="364.8" y="295.8" text-anchor="middle" font-family="Liberation Sans" font-size="10">12</text>
<text x="418.1" y="295.8" text-anchor="middle" font-family="Liberation Sans" font-size="10">14</text>
<text x="218.3" y="175.9" font-family="Liberation Serif" stroke="#000" stroke-width="0.05" font-size="11.0">Mo/B<tspan dy="3.8" font-size="7.4">4</tspan><tspan dy="-3.8">C</tspan></text><text x="149" y="313" font-family="Liberation Serif" stroke="#000" stroke-width="0.05" font-size="12.25">Grazing incident angle:2theta(deg)</text><text transform="translate(11.4,263.9) rotate(-90)" font-family="Liberation Serif" stroke="#000" stroke-width="0.05" font-size="12.75">Intensity(a.u)</text><text x="352.8" y="195.1" font-family="Liberation Serif" stroke="#000" stroke-width="0.05" font-size="11.2">Annealed at 600<tspan dy="-4.2" font-size="6.9">o</tspan><tspan dy="4.2">C</tspan></text><text x="353.9" y="209.7" font-family="Liberation Serif" stroke="#000" stroke-width="0.05" font-size="11.2">Annealed at 500<tspan dy="-4.2" font-size="6.9">o</tspan><tspan dy="4.2">C</tspan></text><text x="353.9" y="223.7" font-family="Liberation Serif" stroke="#000" stroke-width="0.05" font-size="11.2">Annealed at 400<tspan dy="-4.2" font-size="6.9">o</tspan><tspan dy="4.2">C</tspan></text><text x="355.0" y="237.2" font-family="Liberation Serif" stroke="#000" stroke-width="0.05" font-size="11.2">Annealed at 300<tspan dy="-4.2" font-size="6.9">o</tspan><tspan dy="4.2">C</tspan></text><text x="353.9" y="249.8" font-family="Liberation Serif" stroke="#000" stroke-width="0.05" font-size="11.2">Annealed at 200<tspan dy="-4.2" font-size="6.9">o</tspan><tspan dy="4.2">C</tspan></text><text x="351.6" y="265.3" font-family="Liberation Serif" stroke="#000" stroke-width="0.05" font-size="11.2">Annealed at 100<tspan dy="-4.2" font-size="6.9">o</tspan><tspan dy="4.2">C</tspan></text><text x="361.8" y="276.2" font-family="Liberation Serif" stroke="#000" stroke-width="0.05" font-size="11.2">As-prepared</text><path d="M333.2,165.5 H358.8" stroke="#666" stroke-width="1.2"/><text x="362" y="169.8" font-family="Liberation Serif" stroke="#000" stroke-width="0.05" font-size="11">exp</text><circle cx="345.4" cy="180" r="1.5" fill="#ff8a8a"/><text x="362" y="183.6" font-family="Liberation Serif" stroke="#000" stroke-width="0.05" font-size="11">fitting</text>
</svg></body></html>
